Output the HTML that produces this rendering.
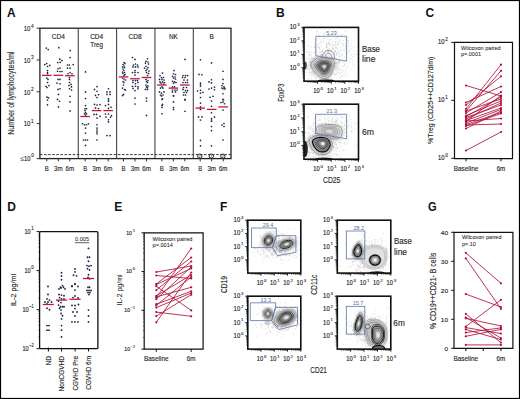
<!DOCTYPE html><html><head><meta charset="utf-8"><style>html,body{margin:0;padding:0;background:#fff;}svg{display:block;}text{font-family:"Liberation Sans", sans-serif;}</style></head><body>
<svg width="520" height="399" viewBox="0 0 520 399">
<rect x="0" y="0" width="520" height="399" fill="#fff"/>
<defs><filter id="bl" x="-50%" y="-50%" width="200%" height="200%"><feGaussianBlur stdDeviation="1.0"/></filter><filter id="bl2" x="-50%" y="-50%" width="200%" height="200%"><feGaussianBlur stdDeviation="0.5"/></filter></defs>
<text x="7" y="17.4" font-size="12" text-anchor="start" fill="#111" font-weight="bold" textLength="8.6" lengthAdjust="spacingAndGlyphs" >A</text>
<text x="276" y="17.4" font-size="12" text-anchor="start" fill="#111" font-weight="bold" >B</text>
<text x="425.6" y="17.4" font-size="12" text-anchor="start" fill="#111" font-weight="bold" >C</text>
<text x="7.2" y="211" font-size="12" text-anchor="start" fill="#111" font-weight="bold" >D</text>
<text x="114.2" y="211" font-size="12" text-anchor="start" fill="#111" font-weight="bold" >E</text>
<text x="220" y="211" font-size="12" text-anchor="start" fill="#111" font-weight="bold" >F</text>
<text x="428" y="211" font-size="12" text-anchor="start" fill="#111" font-weight="bold" textLength="8.6" lengthAdjust="spacingAndGlyphs" >G</text>
<line x1="39.9" y1="154.6" x2="231.0" y2="154.6" stroke="#222" stroke-width="0.9" stroke-dasharray="2.6 1.5"/>
<rect x="39.9" y="28.2" width="191.1" height="130.4" fill="none" stroke="#222" stroke-width="1.3"/>
<line x1="78.25" y1="28.2" x2="78.25" y2="158.6" stroke="#444" stroke-width="1.1" />
<line x1="116.6" y1="28.2" x2="116.6" y2="158.6" stroke="#444" stroke-width="1.1" />
<line x1="154.95000000000002" y1="28.2" x2="154.95000000000002" y2="158.6" stroke="#444" stroke-width="1.1" />
<line x1="193.3" y1="28.2" x2="193.3" y2="158.6" stroke="#444" stroke-width="1.1" />
<line x1="36.6" y1="28.2" x2="39.9" y2="28.2" stroke="#333" stroke-width="1.0" />
<line x1="36.6" y1="60.0" x2="39.9" y2="60.0" stroke="#333" stroke-width="1.0" />
<line x1="36.6" y1="91.8" x2="39.9" y2="91.8" stroke="#333" stroke-width="1.0" />
<line x1="36.6" y1="123.6" x2="39.9" y2="123.6" stroke="#333" stroke-width="1.0" />
<line x1="36.6" y1="158.6" x2="39.9" y2="158.6" stroke="#333" stroke-width="1.0" />
<text x="23.65" y="31.01" font-size="7.0" fill="#222" stroke="#222" stroke-width="0.14" textLength="6.60" lengthAdjust="spacingAndGlyphs">10</text>
<text x="30.95" y="27.51" font-size="4.76" fill="#222" stroke="#222" stroke-width="0.1" textLength="2.65" lengthAdjust="spacingAndGlyphs">4</text>
<text x="23.65" y="62.81" font-size="7.0" fill="#222" stroke="#222" stroke-width="0.14" textLength="6.60" lengthAdjust="spacingAndGlyphs">10</text>
<text x="30.95" y="59.31" font-size="4.76" fill="#222" stroke="#222" stroke-width="0.1" textLength="2.65" lengthAdjust="spacingAndGlyphs">3</text>
<text x="23.65" y="94.61" font-size="7.0" fill="#222" stroke="#222" stroke-width="0.14" textLength="6.60" lengthAdjust="spacingAndGlyphs">10</text>
<text x="30.95" y="91.11" font-size="4.76" fill="#222" stroke="#222" stroke-width="0.1" textLength="2.65" lengthAdjust="spacingAndGlyphs">2</text>
<text x="23.65" y="126.41" font-size="7.0" fill="#222" stroke="#222" stroke-width="0.14" textLength="6.60" lengthAdjust="spacingAndGlyphs">10</text>
<text x="30.95" y="122.91" font-size="4.76" fill="#222" stroke="#222" stroke-width="0.1" textLength="2.65" lengthAdjust="spacingAndGlyphs">1</text>
<text x="20.45" y="160.81" font-size="7.0" fill="#222" textLength="3.50" lengthAdjust="spacingAndGlyphs">≤</text>
<text x="23.95" y="160.81" font-size="7.0" fill="#222" stroke="#222" stroke-width="0.14" textLength="6.50" lengthAdjust="spacingAndGlyphs">10</text>
<text x="31.15" y="157.31" font-size="4.76" fill="#222" stroke="#222" stroke-width="0.1" textLength="2.65" lengthAdjust="spacingAndGlyphs">0</text>
<text x="14.2" y="93.2" font-size="9" text-anchor="middle" fill="#262626" stroke="#262626" stroke-width="0.13" textLength="83" lengthAdjust="spacingAndGlyphs" transform="rotate(-90 14.2 93.2)" >Number of lymphocytes/ml</text>
<text x="58.3" y="38.5" font-size="6.4" text-anchor="middle" fill="#262626" stroke="#262626" stroke-width="0.13" textLength="13.0" lengthAdjust="spacingAndGlyphs" >CD4</text>
<text x="96.65" y="38.5" font-size="6.4" text-anchor="middle" fill="#262626" stroke="#262626" stroke-width="0.13" textLength="13.0" lengthAdjust="spacingAndGlyphs" >CD4</text>
<text x="96.65" y="46.5" font-size="6.4" text-anchor="middle" fill="#262626" stroke="#262626" stroke-width="0.13" textLength="12.6" lengthAdjust="spacingAndGlyphs" >Treg</text>
<text x="135.0" y="38.5" font-size="6.4" text-anchor="middle" fill="#262626" stroke="#262626" stroke-width="0.13" textLength="13.0" lengthAdjust="spacingAndGlyphs" >CD8</text>
<text x="173.35000000000002" y="38.5" font-size="6.4" text-anchor="middle" fill="#262626" stroke="#262626" stroke-width="0.13" >NK</text>
<text x="211.70000000000002" y="38.5" font-size="6.4" text-anchor="middle" fill="#262626" stroke="#262626" stroke-width="0.13" >B</text>
<line x1="46.8" y1="158.6" x2="46.8" y2="161.4" stroke="#333" stroke-width="1.0" />
<text x="46.8" y="170.8" font-size="6.6" text-anchor="middle" fill="#262626" stroke="#262626" stroke-width="0.13" textLength="4.0" lengthAdjust="spacingAndGlyphs" >B</text>
<line x1="58.3" y1="158.6" x2="58.3" y2="161.4" stroke="#333" stroke-width="1.0" />
<text x="58.3" y="170.8" font-size="6.6" text-anchor="middle" fill="#262626" stroke="#262626" stroke-width="0.13" textLength="8.6" lengthAdjust="spacingAndGlyphs" >3m</text>
<line x1="69.8" y1="158.6" x2="69.8" y2="161.4" stroke="#333" stroke-width="1.0" />
<text x="69.8" y="170.8" font-size="6.6" text-anchor="middle" fill="#262626" stroke="#262626" stroke-width="0.13" textLength="8.6" lengthAdjust="spacingAndGlyphs" >6m</text>
<line x1="85.15" y1="158.6" x2="85.15" y2="161.4" stroke="#333" stroke-width="1.0" />
<text x="85.15" y="170.8" font-size="6.6" text-anchor="middle" fill="#262626" stroke="#262626" stroke-width="0.13" textLength="4.0" lengthAdjust="spacingAndGlyphs" >B</text>
<line x1="96.65" y1="158.6" x2="96.65" y2="161.4" stroke="#333" stroke-width="1.0" />
<text x="96.65" y="170.8" font-size="6.6" text-anchor="middle" fill="#262626" stroke="#262626" stroke-width="0.13" textLength="8.6" lengthAdjust="spacingAndGlyphs" >3m</text>
<line x1="108.15" y1="158.6" x2="108.15" y2="161.4" stroke="#333" stroke-width="1.0" />
<text x="108.15" y="170.8" font-size="6.6" text-anchor="middle" fill="#262626" stroke="#262626" stroke-width="0.13" textLength="8.6" lengthAdjust="spacingAndGlyphs" >6m</text>
<line x1="123.5" y1="158.6" x2="123.5" y2="161.4" stroke="#333" stroke-width="1.0" />
<text x="123.5" y="170.8" font-size="6.6" text-anchor="middle" fill="#262626" stroke="#262626" stroke-width="0.13" textLength="4.0" lengthAdjust="spacingAndGlyphs" >B</text>
<line x1="135.0" y1="158.6" x2="135.0" y2="161.4" stroke="#333" stroke-width="1.0" />
<text x="135.0" y="170.8" font-size="6.6" text-anchor="middle" fill="#262626" stroke="#262626" stroke-width="0.13" textLength="8.6" lengthAdjust="spacingAndGlyphs" >3m</text>
<line x1="146.5" y1="158.6" x2="146.5" y2="161.4" stroke="#333" stroke-width="1.0" />
<text x="146.5" y="170.8" font-size="6.6" text-anchor="middle" fill="#262626" stroke="#262626" stroke-width="0.13" textLength="8.6" lengthAdjust="spacingAndGlyphs" >6m</text>
<line x1="161.85000000000002" y1="158.6" x2="161.85000000000002" y2="161.4" stroke="#333" stroke-width="1.0" />
<text x="161.85000000000002" y="170.8" font-size="6.6" text-anchor="middle" fill="#262626" stroke="#262626" stroke-width="0.13" textLength="4.0" lengthAdjust="spacingAndGlyphs" >B</text>
<line x1="173.35000000000002" y1="158.6" x2="173.35000000000002" y2="161.4" stroke="#333" stroke-width="1.0" />
<text x="173.35000000000002" y="170.8" font-size="6.6" text-anchor="middle" fill="#262626" stroke="#262626" stroke-width="0.13" textLength="8.6" lengthAdjust="spacingAndGlyphs" >3m</text>
<line x1="184.85000000000002" y1="158.6" x2="184.85000000000002" y2="161.4" stroke="#333" stroke-width="1.0" />
<text x="184.85000000000002" y="170.8" font-size="6.6" text-anchor="middle" fill="#262626" stroke="#262626" stroke-width="0.13" textLength="8.6" lengthAdjust="spacingAndGlyphs" >6m</text>
<line x1="200.20000000000002" y1="158.6" x2="200.20000000000002" y2="161.4" stroke="#333" stroke-width="1.0" />
<text x="200.20000000000002" y="170.8" font-size="6.6" text-anchor="middle" fill="#262626" stroke="#262626" stroke-width="0.13" textLength="4.0" lengthAdjust="spacingAndGlyphs" >B</text>
<line x1="211.70000000000002" y1="158.6" x2="211.70000000000002" y2="161.4" stroke="#333" stroke-width="1.0" />
<text x="211.70000000000002" y="170.8" font-size="6.6" text-anchor="middle" fill="#262626" stroke="#262626" stroke-width="0.13" textLength="8.6" lengthAdjust="spacingAndGlyphs" >3m</text>
<line x1="223.20000000000002" y1="158.6" x2="223.20000000000002" y2="161.4" stroke="#333" stroke-width="1.0" />
<text x="223.20000000000002" y="170.8" font-size="6.6" text-anchor="middle" fill="#262626" stroke="#262626" stroke-width="0.13" textLength="8.6" lengthAdjust="spacingAndGlyphs" >6m</text>
<circle cx="46.3" cy="48.1" r="0.85" fill="#1c2340"/>
<circle cx="48.2" cy="49.6" r="0.85" fill="#1c2340"/>
<circle cx="44.8" cy="64.6" r="0.85" fill="#1c2340"/>
<circle cx="46.7" cy="63.5" r="0.85" fill="#1c2340"/>
<circle cx="47.5" cy="66.5" r="0.85" fill="#1c2340"/>
<circle cx="49.8" cy="65.4" r="0.85" fill="#1c2340"/>
<circle cx="47.5" cy="70.6" r="0.85" fill="#1c2340"/>
<circle cx="47.5" cy="72.5" r="0.85" fill="#1c2340"/>
<circle cx="47.5" cy="73.75" r="0.85" fill="#1c2340"/>
<circle cx="46.8" cy="78.1" r="0.85" fill="#1c2340"/>
<circle cx="48" cy="79.4" r="0.85" fill="#1c2340"/>
<circle cx="47.5" cy="82.5" r="0.85" fill="#1c2340"/>
<circle cx="46" cy="86.25" r="0.85" fill="#1c2340"/>
<circle cx="47" cy="87.5" r="0.85" fill="#1c2340"/>
<circle cx="49" cy="85.6" r="0.85" fill="#1c2340"/>
<circle cx="47" cy="97.2" r="0.85" fill="#1c2340"/>
<circle cx="48.5" cy="97.8" r="0.85" fill="#1c2340"/>
<circle cx="47.5" cy="100" r="0.85" fill="#1c2340"/>
<circle cx="47.5" cy="104.8" r="0.85" fill="#1c2340"/>
<circle cx="58.8" cy="47.7" r="0.85" fill="#1c2340"/>
<circle cx="59.8" cy="59.2" r="0.85" fill="#1c2340"/>
<circle cx="61.9" cy="60.6" r="0.85" fill="#1c2340"/>
<circle cx="57.8" cy="62.5" r="0.85" fill="#1c2340"/>
<circle cx="60.2" cy="62.3" r="0.85" fill="#1c2340"/>
<circle cx="58" cy="68.75" r="0.85" fill="#1c2340"/>
<circle cx="60" cy="68.1" r="0.85" fill="#1c2340"/>
<circle cx="57.5" cy="71.25" r="0.85" fill="#1c2340"/>
<circle cx="60" cy="71.5" r="0.85" fill="#1c2340"/>
<circle cx="62" cy="71.5" r="0.85" fill="#1c2340"/>
<circle cx="58" cy="79.4" r="0.85" fill="#1c2340"/>
<circle cx="60" cy="79.4" r="0.85" fill="#1c2340"/>
<circle cx="57" cy="83.1" r="0.85" fill="#1c2340"/>
<circle cx="60" cy="83.75" r="0.85" fill="#1c2340"/>
<circle cx="58" cy="89.4" r="0.85" fill="#1c2340"/>
<circle cx="60" cy="88.75" r="0.85" fill="#1c2340"/>
<circle cx="58.5" cy="94.4" r="0.85" fill="#1c2340"/>
<circle cx="57.5" cy="99.4" r="0.85" fill="#1c2340"/>
<circle cx="59.5" cy="101.25" r="0.85" fill="#1c2340"/>
<circle cx="58.5" cy="106.9" r="0.85" fill="#1c2340"/>
<circle cx="70.2" cy="50.6" r="0.85" fill="#1c2340"/>
<circle cx="70.2" cy="57.5" r="0.85" fill="#1c2340"/>
<circle cx="73.2" cy="64.6" r="0.85" fill="#1c2340"/>
<circle cx="67.5" cy="65" r="0.85" fill="#1c2340"/>
<circle cx="69.4" cy="65" r="0.85" fill="#1c2340"/>
<circle cx="67.5" cy="68.1" r="0.85" fill="#1c2340"/>
<circle cx="70" cy="68.1" r="0.85" fill="#1c2340"/>
<circle cx="70" cy="72.5" r="0.85" fill="#1c2340"/>
<circle cx="68" cy="73.75" r="0.85" fill="#1c2340"/>
<circle cx="72" cy="73.75" r="0.85" fill="#1c2340"/>
<circle cx="69.5" cy="77.5" r="0.85" fill="#1c2340"/>
<circle cx="69.5" cy="79.4" r="0.85" fill="#1c2340"/>
<circle cx="69.5" cy="82.5" r="0.85" fill="#1c2340"/>
<circle cx="71" cy="84.4" r="0.85" fill="#1c2340"/>
<circle cx="69" cy="85.6" r="0.85" fill="#1c2340"/>
<circle cx="71.5" cy="86.9" r="0.85" fill="#1c2340"/>
<circle cx="69.5" cy="88.75" r="0.85" fill="#1c2340"/>
<circle cx="71.5" cy="90" r="0.85" fill="#1c2340"/>
<circle cx="70" cy="96.25" r="0.85" fill="#1c2340"/>
<circle cx="70" cy="101.9" r="0.85" fill="#1c2340"/>
<circle cx="70" cy="110.9" r="0.85" fill="#1c2340"/>
<circle cx="85.5" cy="71.9" r="0.85" fill="#1c2340"/>
<circle cx="85.5" cy="91.9" r="0.85" fill="#1c2340"/>
<circle cx="85.5" cy="98.5" r="0.85" fill="#1c2340"/>
<circle cx="85.5" cy="105.6" r="0.85" fill="#1c2340"/>
<circle cx="85" cy="108.75" r="0.85" fill="#1c2340"/>
<circle cx="86.5" cy="108.75" r="0.85" fill="#1c2340"/>
<circle cx="85" cy="110.6" r="0.85" fill="#1c2340"/>
<circle cx="85.5" cy="112.5" r="0.85" fill="#1c2340"/>
<circle cx="84.5" cy="113.75" r="0.85" fill="#1c2340"/>
<circle cx="86.5" cy="113.75" r="0.85" fill="#1c2340"/>
<circle cx="85.5" cy="115" r="0.85" fill="#1c2340"/>
<circle cx="82.5" cy="123.75" r="0.85" fill="#1c2340"/>
<circle cx="84.5" cy="124.75" r="0.85" fill="#1c2340"/>
<circle cx="86.5" cy="124.75" r="0.85" fill="#1c2340"/>
<circle cx="88.5" cy="123.75" r="0.85" fill="#1c2340"/>
<circle cx="85.5" cy="128.1" r="0.85" fill="#1c2340"/>
<circle cx="85.5" cy="133.1" r="0.85" fill="#1c2340"/>
<circle cx="83.5" cy="140" r="0.85" fill="#1c2340"/>
<circle cx="85.5" cy="140" r="0.85" fill="#1c2340"/>
<circle cx="87.5" cy="140" r="0.85" fill="#1c2340"/>
<circle cx="85.5" cy="145.4" r="0.85" fill="#1c2340"/>
<circle cx="97" cy="86.6" r="0.85" fill="#1c2340"/>
<circle cx="94.5" cy="89.4" r="0.85" fill="#1c2340"/>
<circle cx="97" cy="91.25" r="0.85" fill="#1c2340"/>
<circle cx="95.5" cy="95.4" r="0.85" fill="#1c2340"/>
<circle cx="98.5" cy="94.6" r="0.85" fill="#1c2340"/>
<circle cx="97" cy="97.5" r="0.85" fill="#1c2340"/>
<circle cx="94.5" cy="104.4" r="0.85" fill="#1c2340"/>
<circle cx="97" cy="105" r="0.85" fill="#1c2340"/>
<circle cx="100" cy="104.6" r="0.85" fill="#1c2340"/>
<circle cx="95.5" cy="107.9" r="0.85" fill="#1c2340"/>
<circle cx="98.5" cy="108.5" r="0.85" fill="#1c2340"/>
<circle cx="96.5" cy="114.4" r="0.85" fill="#1c2340"/>
<circle cx="94" cy="114.4" r="0.85" fill="#1c2340"/>
<circle cx="100" cy="116.25" r="0.85" fill="#1c2340"/>
<circle cx="97" cy="118.1" r="0.85" fill="#1c2340"/>
<circle cx="97" cy="124.75" r="0.85" fill="#1c2340"/>
<circle cx="97" cy="128.1" r="0.85" fill="#1c2340"/>
<circle cx="97" cy="130" r="0.85" fill="#1c2340"/>
<circle cx="97" cy="131.9" r="0.85" fill="#1c2340"/>
<circle cx="97" cy="133.75" r="0.85" fill="#1c2340"/>
<circle cx="97" cy="140" r="0.85" fill="#1c2340"/>
<circle cx="108.5" cy="88.75" r="0.85" fill="#1c2340"/>
<circle cx="107" cy="91.9" r="0.85" fill="#1c2340"/>
<circle cx="110" cy="91.9" r="0.85" fill="#1c2340"/>
<circle cx="107" cy="94.4" r="0.85" fill="#1c2340"/>
<circle cx="110" cy="94.4" r="0.85" fill="#1c2340"/>
<circle cx="108.5" cy="98.75" r="0.85" fill="#1c2340"/>
<circle cx="108.5" cy="100" r="0.85" fill="#1c2340"/>
<circle cx="108.5" cy="101.25" r="0.85" fill="#1c2340"/>
<circle cx="108.5" cy="104.4" r="0.85" fill="#1c2340"/>
<circle cx="105.5" cy="105.6" r="0.85" fill="#1c2340"/>
<circle cx="111" cy="107.25" r="0.85" fill="#1c2340"/>
<circle cx="108.5" cy="108.4" r="0.85" fill="#1c2340"/>
<circle cx="105.5" cy="114" r="0.85" fill="#1c2340"/>
<circle cx="108.5" cy="114" r="0.85" fill="#1c2340"/>
<circle cx="111.5" cy="115.6" r="0.85" fill="#1c2340"/>
<circle cx="106" cy="117.1" r="0.85" fill="#1c2340"/>
<circle cx="110.5" cy="117.1" r="0.85" fill="#1c2340"/>
<circle cx="108.5" cy="119.75" r="0.85" fill="#1c2340"/>
<circle cx="108.5" cy="121.9" r="0.85" fill="#1c2340"/>
<circle cx="107" cy="135.6" r="0.85" fill="#1c2340"/>
<circle cx="110" cy="135.6" r="0.85" fill="#1c2340"/>
<circle cx="124" cy="62.5" r="0.85" fill="#1c2340"/>
<circle cx="125" cy="63.5" r="0.85" fill="#1c2340"/>
<circle cx="123" cy="64.5" r="0.85" fill="#1c2340"/>
<circle cx="124" cy="66" r="0.85" fill="#1c2340"/>
<circle cx="122.5" cy="67" r="0.85" fill="#1c2340"/>
<circle cx="124.5" cy="67.5" r="0.85" fill="#1c2340"/>
<circle cx="123" cy="69" r="0.85" fill="#1c2340"/>
<circle cx="124" cy="70.5" r="0.85" fill="#1c2340"/>
<circle cx="122.5" cy="72" r="0.85" fill="#1c2340"/>
<circle cx="124.5" cy="72.5" r="0.85" fill="#1c2340"/>
<circle cx="123" cy="73.5" r="0.85" fill="#1c2340"/>
<circle cx="125" cy="74.5" r="0.85" fill="#1c2340"/>
<circle cx="124" cy="75.5" r="0.85" fill="#1c2340"/>
<circle cx="122.5" cy="78" r="0.85" fill="#1c2340"/>
<circle cx="124" cy="79" r="0.85" fill="#1c2340"/>
<circle cx="125.5" cy="80" r="0.85" fill="#1c2340"/>
<circle cx="123" cy="81.5" r="0.85" fill="#1c2340"/>
<circle cx="124" cy="82.5" r="0.85" fill="#1c2340"/>
<circle cx="123.5" cy="85" r="0.85" fill="#1c2340"/>
<circle cx="122.5" cy="88.1" r="0.85" fill="#1c2340"/>
<circle cx="124.5" cy="89.5" r="0.85" fill="#1c2340"/>
<circle cx="125.5" cy="90" r="0.85" fill="#1c2340"/>
<circle cx="123.5" cy="94.4" r="0.85" fill="#1c2340"/>
<circle cx="122.5" cy="95.6" r="0.85" fill="#1c2340"/>
<circle cx="132.5" cy="57.5" r="0.85" fill="#1c2340"/>
<circle cx="135" cy="59.4" r="0.85" fill="#1c2340"/>
<circle cx="133.5" cy="65" r="0.85" fill="#1c2340"/>
<circle cx="135.5" cy="64" r="0.85" fill="#1c2340"/>
<circle cx="137.5" cy="65" r="0.85" fill="#1c2340"/>
<circle cx="133" cy="66.9" r="0.85" fill="#1c2340"/>
<circle cx="135.5" cy="66.9" r="0.85" fill="#1c2340"/>
<circle cx="138" cy="66.9" r="0.85" fill="#1c2340"/>
<circle cx="135" cy="70.6" r="0.85" fill="#1c2340"/>
<circle cx="132.5" cy="72.5" r="0.85" fill="#1c2340"/>
<circle cx="135" cy="72.5" r="0.85" fill="#1c2340"/>
<circle cx="138" cy="72.5" r="0.85" fill="#1c2340"/>
<circle cx="135" cy="75" r="0.85" fill="#1c2340"/>
<circle cx="133" cy="80.6" r="0.85" fill="#1c2340"/>
<circle cx="135.5" cy="80.6" r="0.85" fill="#1c2340"/>
<circle cx="137.5" cy="80.6" r="0.85" fill="#1c2340"/>
<circle cx="133" cy="82.5" r="0.85" fill="#1c2340"/>
<circle cx="135.5" cy="83.75" r="0.85" fill="#1c2340"/>
<circle cx="138" cy="82.5" r="0.85" fill="#1c2340"/>
<circle cx="132.5" cy="86.25" r="0.85" fill="#1c2340"/>
<circle cx="135.5" cy="86.25" r="0.85" fill="#1c2340"/>
<circle cx="138" cy="86.9" r="0.85" fill="#1c2340"/>
<circle cx="133" cy="88.4" r="0.85" fill="#1c2340"/>
<circle cx="135" cy="90.6" r="0.85" fill="#1c2340"/>
<circle cx="138" cy="88.75" r="0.85" fill="#1c2340"/>
<circle cx="135" cy="98.1" r="0.85" fill="#1c2340"/>
<circle cx="135" cy="104" r="0.85" fill="#1c2340"/>
<circle cx="147.5" cy="58.75" r="0.85" fill="#1c2340"/>
<circle cx="146" cy="61.25" r="0.85" fill="#1c2340"/>
<circle cx="148" cy="62" r="0.85" fill="#1c2340"/>
<circle cx="145.5" cy="63.1" r="0.85" fill="#1c2340"/>
<circle cx="148.5" cy="64" r="0.85" fill="#1c2340"/>
<circle cx="146" cy="66.25" r="0.85" fill="#1c2340"/>
<circle cx="148" cy="67.5" r="0.85" fill="#1c2340"/>
<circle cx="144.5" cy="68.1" r="0.85" fill="#1c2340"/>
<circle cx="147" cy="69" r="0.85" fill="#1c2340"/>
<circle cx="146" cy="70.6" r="0.85" fill="#1c2340"/>
<circle cx="149" cy="71" r="0.85" fill="#1c2340"/>
<circle cx="146.5" cy="72.5" r="0.85" fill="#1c2340"/>
<circle cx="148.5" cy="73.5" r="0.85" fill="#1c2340"/>
<circle cx="147.5" cy="75.5" r="0.85" fill="#1c2340"/>
<circle cx="146" cy="79.4" r="0.85" fill="#1c2340"/>
<circle cx="148" cy="80.5" r="0.85" fill="#1c2340"/>
<circle cx="146.5" cy="81.5" r="0.85" fill="#1c2340"/>
<circle cx="147.5" cy="82.5" r="0.85" fill="#1c2340"/>
<circle cx="146" cy="85" r="0.85" fill="#1c2340"/>
<circle cx="148" cy="86" r="0.85" fill="#1c2340"/>
<circle cx="146.5" cy="86.9" r="0.85" fill="#1c2340"/>
<circle cx="147.5" cy="87.75" r="0.85" fill="#1c2340"/>
<circle cx="145.5" cy="89.4" r="0.85" fill="#1c2340"/>
<circle cx="147.5" cy="89.4" r="0.85" fill="#1c2340"/>
<circle cx="146.5" cy="98.1" r="0.85" fill="#1c2340"/>
<circle cx="146.5" cy="101" r="0.85" fill="#1c2340"/>
<circle cx="146.5" cy="115.4" r="0.85" fill="#1c2340"/>
<circle cx="162.5" cy="73.1" r="0.85" fill="#1c2340"/>
<circle cx="160" cy="75.6" r="0.85" fill="#1c2340"/>
<circle cx="161.5" cy="77.5" r="0.85" fill="#1c2340"/>
<circle cx="163.5" cy="77.5" r="0.85" fill="#1c2340"/>
<circle cx="159.5" cy="79.4" r="0.85" fill="#1c2340"/>
<circle cx="162" cy="79.4" r="0.85" fill="#1c2340"/>
<circle cx="164" cy="80" r="0.85" fill="#1c2340"/>
<circle cx="160" cy="81.9" r="0.85" fill="#1c2340"/>
<circle cx="162.5" cy="81.9" r="0.85" fill="#1c2340"/>
<circle cx="164.5" cy="82.5" r="0.85" fill="#1c2340"/>
<circle cx="161" cy="83.1" r="0.85" fill="#1c2340"/>
<circle cx="163.5" cy="84" r="0.85" fill="#1c2340"/>
<circle cx="162" cy="86.9" r="0.85" fill="#1c2340"/>
<circle cx="160.5" cy="88.1" r="0.85" fill="#1c2340"/>
<circle cx="163" cy="88.1" r="0.85" fill="#1c2340"/>
<circle cx="159.5" cy="91.9" r="0.85" fill="#1c2340"/>
<circle cx="164" cy="91.9" r="0.85" fill="#1c2340"/>
<circle cx="161.5" cy="93.1" r="0.85" fill="#1c2340"/>
<circle cx="163" cy="95" r="0.85" fill="#1c2340"/>
<circle cx="160.5" cy="95" r="0.85" fill="#1c2340"/>
<circle cx="161.5" cy="96" r="0.85" fill="#1c2340"/>
<circle cx="162.5" cy="98.75" r="0.85" fill="#1c2340"/>
<circle cx="162" cy="99.4" r="0.85" fill="#1c2340"/>
<circle cx="162.5" cy="104.4" r="0.85" fill="#1c2340"/>
<circle cx="162" cy="105.6" r="0.85" fill="#1c2340"/>
<circle cx="162" cy="107.5" r="0.85" fill="#1c2340"/>
<circle cx="162" cy="113.75" r="0.85" fill="#1c2340"/>
<circle cx="174" cy="70.6" r="0.85" fill="#1c2340"/>
<circle cx="173.5" cy="73.75" r="0.85" fill="#1c2340"/>
<circle cx="175.5" cy="74.5" r="0.85" fill="#1c2340"/>
<circle cx="172.5" cy="76.25" r="0.85" fill="#1c2340"/>
<circle cx="175" cy="77" r="0.85" fill="#1c2340"/>
<circle cx="173.5" cy="78.1" r="0.85" fill="#1c2340"/>
<circle cx="175.5" cy="79" r="0.85" fill="#1c2340"/>
<circle cx="172.5" cy="81.25" r="0.85" fill="#1c2340"/>
<circle cx="174.5" cy="81.9" r="0.85" fill="#1c2340"/>
<circle cx="176" cy="82.5" r="0.85" fill="#1c2340"/>
<circle cx="173.5" cy="83.1" r="0.85" fill="#1c2340"/>
<circle cx="172.5" cy="86.9" r="0.85" fill="#1c2340"/>
<circle cx="174.5" cy="86.9" r="0.85" fill="#1c2340"/>
<circle cx="172.5" cy="90" r="0.85" fill="#1c2340"/>
<circle cx="175" cy="90" r="0.85" fill="#1c2340"/>
<circle cx="177" cy="90" r="0.85" fill="#1c2340"/>
<circle cx="172.5" cy="91.9" r="0.85" fill="#1c2340"/>
<circle cx="175.5" cy="91.9" r="0.85" fill="#1c2340"/>
<circle cx="173.5" cy="95.6" r="0.85" fill="#1c2340"/>
<circle cx="173.5" cy="96" r="0.85" fill="#1c2340"/>
<circle cx="173.5" cy="101.9" r="0.85" fill="#1c2340"/>
<circle cx="173.5" cy="107.5" r="0.85" fill="#1c2340"/>
<circle cx="173.5" cy="109.4" r="0.85" fill="#1c2340"/>
<circle cx="185" cy="59.4" r="0.85" fill="#1c2340"/>
<circle cx="183" cy="75.6" r="0.85" fill="#1c2340"/>
<circle cx="185.5" cy="75.6" r="0.85" fill="#1c2340"/>
<circle cx="187.5" cy="75.6" r="0.85" fill="#1c2340"/>
<circle cx="182.5" cy="77.5" r="0.85" fill="#1c2340"/>
<circle cx="185" cy="77.5" r="0.85" fill="#1c2340"/>
<circle cx="184" cy="80" r="0.85" fill="#1c2340"/>
<circle cx="187.5" cy="80" r="0.85" fill="#1c2340"/>
<circle cx="183" cy="82.5" r="0.85" fill="#1c2340"/>
<circle cx="185.5" cy="82.5" r="0.85" fill="#1c2340"/>
<circle cx="187.5" cy="82.5" r="0.85" fill="#1c2340"/>
<circle cx="183.5" cy="87.5" r="0.85" fill="#1c2340"/>
<circle cx="186.5" cy="87.5" r="0.85" fill="#1c2340"/>
<circle cx="183" cy="89.4" r="0.85" fill="#1c2340"/>
<circle cx="185.5" cy="90.6" r="0.85" fill="#1c2340"/>
<circle cx="187.5" cy="90.6" r="0.85" fill="#1c2340"/>
<circle cx="184" cy="92.5" r="0.85" fill="#1c2340"/>
<circle cx="186.5" cy="92.5" r="0.85" fill="#1c2340"/>
<circle cx="183.5" cy="95" r="0.85" fill="#1c2340"/>
<circle cx="185.5" cy="95" r="0.85" fill="#1c2340"/>
<circle cx="185" cy="99.4" r="0.85" fill="#1c2340"/>
<circle cx="185" cy="100" r="0.85" fill="#1c2340"/>
<circle cx="185" cy="111.25" r="0.85" fill="#1c2340"/>
<circle cx="200.5" cy="59.75" r="0.85" fill="#1c2340"/>
<circle cx="199" cy="74.4" r="0.85" fill="#1c2340"/>
<circle cx="202" cy="74.75" r="0.85" fill="#1c2340"/>
<circle cx="200.5" cy="83.1" r="0.85" fill="#1c2340"/>
<circle cx="200.5" cy="84.75" r="0.85" fill="#1c2340"/>
<circle cx="200.5" cy="86.25" r="0.85" fill="#1c2340"/>
<circle cx="197.5" cy="91" r="0.85" fill="#1c2340"/>
<circle cx="200.5" cy="90.25" r="0.85" fill="#1c2340"/>
<circle cx="203" cy="92.25" r="0.85" fill="#1c2340"/>
<circle cx="200.5" cy="93.1" r="0.85" fill="#1c2340"/>
<circle cx="200.5" cy="97.5" r="0.85" fill="#1c2340"/>
<circle cx="200.5" cy="103.1" r="0.85" fill="#1c2340"/>
<circle cx="200.5" cy="106.9" r="0.85" fill="#1c2340"/>
<circle cx="200.5" cy="109.4" r="0.85" fill="#1c2340"/>
<circle cx="198.5" cy="116.9" r="0.85" fill="#1c2340"/>
<circle cx="202" cy="116.9" r="0.85" fill="#1c2340"/>
<circle cx="200.5" cy="120" r="0.85" fill="#1c2340"/>
<circle cx="200.5" cy="140.4" r="0.85" fill="#1c2340"/>
<circle cx="200.5" cy="145.8" r="0.85" fill="#1c2340"/>
<circle cx="211.5" cy="62.9" r="0.85" fill="#1c2340"/>
<circle cx="211.5" cy="79.75" r="0.85" fill="#1c2340"/>
<circle cx="209" cy="81.9" r="0.85" fill="#1c2340"/>
<circle cx="211.5" cy="82.9" r="0.85" fill="#1c2340"/>
<circle cx="209" cy="89" r="0.85" fill="#1c2340"/>
<circle cx="211.5" cy="88.1" r="0.85" fill="#1c2340"/>
<circle cx="214.5" cy="87.1" r="0.85" fill="#1c2340"/>
<circle cx="214.5" cy="89.75" r="0.85" fill="#1c2340"/>
<circle cx="210" cy="97.25" r="0.85" fill="#1c2340"/>
<circle cx="213" cy="96.25" r="0.85" fill="#1c2340"/>
<circle cx="211.5" cy="101" r="0.85" fill="#1c2340"/>
<circle cx="211.5" cy="106.25" r="0.85" fill="#1c2340"/>
<circle cx="211.5" cy="112.75" r="0.85" fill="#1c2340"/>
<circle cx="214.5" cy="116.9" r="0.85" fill="#1c2340"/>
<circle cx="211.5" cy="118.5" r="0.85" fill="#1c2340"/>
<circle cx="211.5" cy="120" r="0.85" fill="#1c2340"/>
<circle cx="211.5" cy="121.25" r="0.85" fill="#1c2340"/>
<circle cx="211.5" cy="126.5" r="0.85" fill="#1c2340"/>
<circle cx="211.5" cy="130.6" r="0.85" fill="#1c2340"/>
<circle cx="211.5" cy="145.8" r="0.85" fill="#1c2340"/>
<circle cx="223" cy="71.25" r="0.85" fill="#1c2340"/>
<circle cx="223" cy="79.4" r="0.85" fill="#1c2340"/>
<circle cx="223" cy="83.5" r="0.85" fill="#1c2340"/>
<circle cx="222" cy="85.6" r="0.85" fill="#1c2340"/>
<circle cx="224" cy="86.9" r="0.85" fill="#1c2340"/>
<circle cx="222" cy="88.1" r="0.85" fill="#1c2340"/>
<circle cx="224.5" cy="88.1" r="0.85" fill="#1c2340"/>
<circle cx="223" cy="88.75" r="0.85" fill="#1c2340"/>
<circle cx="225" cy="89" r="0.85" fill="#1c2340"/>
<circle cx="223" cy="93.75" r="0.85" fill="#1c2340"/>
<circle cx="223" cy="99.4" r="0.85" fill="#1c2340"/>
<circle cx="223.5" cy="99.75" r="0.85" fill="#1c2340"/>
<circle cx="221" cy="102.5" r="0.85" fill="#1c2340"/>
<circle cx="223" cy="101.9" r="0.85" fill="#1c2340"/>
<circle cx="224.5" cy="103.75" r="0.85" fill="#1c2340"/>
<circle cx="223" cy="110" r="0.85" fill="#1c2340"/>
<circle cx="224" cy="123.5" r="0.85" fill="#1c2340"/>
<circle cx="222" cy="125" r="0.85" fill="#1c2340"/>
<circle cx="224" cy="126.5" r="0.85" fill="#1c2340"/>
<circle cx="223" cy="140" r="0.85" fill="#1c2340"/>
<line x1="42.0" y1="75.4" x2="51.599999999999994" y2="75.4" stroke="#c8143c" stroke-width="1.3" />
<line x1="53.5" y1="75.3" x2="63.099999999999994" y2="75.3" stroke="#c8143c" stroke-width="1.3" />
<line x1="65.0" y1="75.75" x2="74.6" y2="75.75" stroke="#c8143c" stroke-width="1.3" />
<line x1="80.35000000000001" y1="116.5" x2="89.95" y2="116.5" stroke="#c8143c" stroke-width="1.3" />
<line x1="91.85000000000001" y1="110.6" x2="101.45" y2="110.6" stroke="#c8143c" stroke-width="1.3" />
<line x1="103.35000000000001" y1="110.6" x2="112.95" y2="110.6" stroke="#c8143c" stroke-width="1.3" />
<line x1="118.7" y1="76.9" x2="128.3" y2="76.9" stroke="#c8143c" stroke-width="1.3" />
<line x1="130.2" y1="78.75" x2="139.8" y2="78.75" stroke="#c8143c" stroke-width="1.3" />
<line x1="141.7" y1="77.5" x2="151.3" y2="77.5" stroke="#c8143c" stroke-width="1.3" />
<line x1="157.05" y1="85" x2="166.65000000000003" y2="85" stroke="#c8143c" stroke-width="1.3" />
<line x1="168.55" y1="88.1" x2="178.15000000000003" y2="88.1" stroke="#c8143c" stroke-width="1.3" />
<line x1="180.05" y1="85" x2="189.65000000000003" y2="85" stroke="#c8143c" stroke-width="1.3" />
<line x1="195.4" y1="108.1" x2="205.00000000000003" y2="108.1" stroke="#c8143c" stroke-width="1.3" />
<line x1="206.9" y1="109.4" x2="216.50000000000003" y2="109.4" stroke="#c8143c" stroke-width="1.3" />
<line x1="218.4" y1="106.9" x2="228.00000000000003" y2="106.9" stroke="#c8143c" stroke-width="1.3" />
<circle cx="199.8" cy="156.2" r="2.2" fill="#fff" fill-opacity="0.6" stroke="#111" stroke-width="0.9"/>
<line x1="200.4" y1="154.6" x2="199.4" y2="158.0" stroke="#333" stroke-width="0.6" />
<circle cx="211.3" cy="156.2" r="2.2" fill="#fff" fill-opacity="0.6" stroke="#111" stroke-width="0.9"/>
<line x1="211.9" y1="154.6" x2="210.9" y2="158.0" stroke="#333" stroke-width="0.6" />
<circle cx="222.8" cy="156.2" r="2.2" fill="#fff" fill-opacity="0.6" stroke="#111" stroke-width="0.9"/>
<line x1="223.4" y1="154.6" x2="222.4" y2="158.0" stroke="#333" stroke-width="0.6" />
<text x="284.0" y="92.7" font-size="9" text-anchor="middle" fill="#262626" stroke="#262626" stroke-width="0.13" textLength="18.2" lengthAdjust="spacingAndGlyphs" transform="rotate(-90 284.0 92.7)" >FoxP3</text>
<clipPath id="cb1"><rect x="304.0" y="27.4" width="54.5" height="53.800000000000004"/></clipPath>
<g clip-path="url(#cb1)">
<path d="M318.9 71.1h.01M319.3 62.8h.01M310.8 63.9h.01M335.3 70.2h.01M334.4 68.5h.01M326.7 67.9h.01M328.1 71.0h.01M311.3 61.3h.01M325.7 65.5h.01M328.3 59.6h.01M325.7 69.9h.01M328.7 78.0h.01M314.6 58.6h.01M317.9 64.9h.01M329.6 68.5h.01M316.6 56.4h.01M315.8 78.2h.01M312.3 68.4h.01M327.1 51.1h.01M322.6 79.1h.01M320.7 57.8h.01M328.0 65.4h.01M330.0 75.5h.01M339.3 69.6h.01M323.4 53.0h.01M329.4 59.9h.01M316.6 53.4h.01M310.4 60.7h.01M337.5 45.7h.01M339.3 71.8h.01M326.3 58.6h.01M308.6 75.8h.01M335.2 67.6h.01M324.9 70.3h.01M341.1 72.2h.01M328.2 71.5h.01M333.5 71.3h.01M332.1 47.9h.01M319.8 76.2h.01M328.6 64.5h.01M325.9 72.5h.01M323.4 77.5h.01M314.1 61.9h.01M334.5 66.3h.01M311.4 75.5h.01M339.6 61.6h.01M305.4 64.7h.01M320.2 63.0h.01M338.9 55.7h.01M337.1 53.3h.01M312.6 72.3h.01M335.5 74.6h.01M326.1 67.4h.01M323.8 71.8h.01M319.9 68.8h.01M328.9 66.0h.01M331.2 71.7h.01M346.1 69.2h.01M316.9 62.3h.01M321.8 75.2h.01M318.0 69.9h.01M344.0 40.4h.01M308.5 68.4h.01M326.8 68.4h.01M316.8 72.6h.01M325.4 60.8h.01M351.2 69.6h.01M315.3 65.0h.01M319.3 65.4h.01M334.1 54.3h.01M321.2 75.5h.01M317.9 72.2h.01M335.1 39.2h.01M335.1 51.5h.01M330.2 51.1h.01M324.1 77.9h.01M320.2 67.9h.01M331.6 67.4h.01M334.6 63.1h.01M354.9 54.5h.01M333.0 63.3h.01M323.6 73.1h.01M324.7 72.4h.01M329.4 56.4h.01M309.7 51.3h.01M337.2 73.5h.01M339.7 56.6h.01M322.0 54.6h.01M333.9 64.2h.01M320.8 60.0h.01M326.8 70.1h.01M340.0 55.8h.01M339.4 64.2h.01M313.1 76.2h.01M323.4 67.2h.01M339.1 63.4h.01M325.8 59.9h.01M321.9 74.3h.01M322.9 79.3h.01M321.3 76.4h.01M313.9 74.8h.01M307.2 65.9h.01M319.7 65.7h.01M314.9 68.3h.01M343.5 66.4h.01M328.4 76.0h.01M319.6 53.4h.01M315.3 76.7h.01M334.1 73.9h.01M322.1 74.1h.01M324.0 54.2h.01M333.1 60.3h.01M311.2 58.3h.01M307.8 69.6h.01M314.3 46.6h.01M330.7 63.2h.01M325.5 61.4h.01M331.4 73.5h.01M330.0 69.3h.01M338.0 72.6h.01M327.4 45.2h.01M332.8 79.1h.01M318.4 61.3h.01M345.3 48.4h.01M310.9 72.9h.01M344.6 64.8h.01M328.7 75.0h.01M311.1 65.1h.01M325.5 74.3h.01M321.6 64.0h.01M309.8 62.4h.01M332.7 67.0h.01M311.8 57.6h.01M354.0 77.4h.01M329.6 40.1h.01M329.5 70.8h.01M342.2 70.3h.01M321.2 71.2h.01M325.9 59.0h.01M305.2 59.3h.01M325.5 67.8h.01M317.2 56.3h.01M347.4 76.4h.01M307.7 52.5h.01M342.4 75.9h.01M343.9 74.1h.01M311.5 68.6h.01M321.3 71.2h.01M313.3 64.8h.01M327.5 69.8h.01M329.7 68.1h.01M318.1 73.9h.01M322.6 57.7h.01M314.5 66.0h.01M320.7 67.6h.01M322.0 67.8h.01M320.4 53.4h.01M327.1 76.5h.01M327.2 64.1h.01M327.4 56.3h.01M310.8 73.4h.01M309.0 39.7h.01M317.4 52.3h.01M312.8 71.2h.01M328.0 67.8h.01M339.8 73.1h.01M321.7 72.0h.01M341.9 75.7h.01M334.3 55.2h.01M320.2 73.3h.01M318.4 76.7h.01M329.2 75.1h.01M336.9 63.8h.01M317.9 74.7h.01M333.8 66.1h.01M308.0 67.9h.01M326.3 77.3h.01M331.4 66.2h.01M332.2 71.4h.01M324.5 66.6h.01M319.1 72.9h.01M309.3 59.7h.01M322.1 51.4h.01M316.8 45.9h.01M313.8 71.7h.01M328.8 65.5h.01M319.2 51.8h.01M343.9 71.2h.01M335.1 57.2h.01M319.8 47.8h.01M331.4 75.4h.01M329.6 48.4h.01M314.4 52.0h.01M322.4 68.5h.01M329.6 73.0h.01M340.0 77.6h.01M306.3 60.9h.01M309.3 55.2h.01M321.0 66.1h.01M327.9 50.1h.01M307.1 65.8h.01M319.6 62.9h.01M321.2 58.4h.01M330.4 69.5h.01M320.9 59.3h.01M319.9 38.8h.01M310.2 66.4h.01M323.8 52.2h.01M319.0 62.9h.01M327.5 72.1h.01M321.6 57.5h.01M320.3 65.3h.01M330.8 68.9h.01M313.3 52.5h.01M317.5 58.6h.01M308.7 64.8h.01M316.1 67.1h.01M328.3 61.9h.01M349.9 62.8h.01M335.2 67.2h.01M335.4 42.2h.01M313.0 68.5h.01M325.9 78.8h.01M331.2 75.5h.01M328.1 64.4h.01M328.1 55.2h.01M336.2 55.8h.01M319.3 66.2h.01M336.0 66.3h.01M312.3 68.6h.01M329.0 73.1h.01M342.0 66.2h.01M325.2 61.7h.01M339.0 59.0h.01M330.1 61.2h.01M313.7 73.2h.01M338.0 65.9h.01M313.9 74.1h.01M321.4 69.1h.01M340.3 77.3h.01M322.0 73.9h.01M314.2 65.6h.01M338.4 53.8h.01M336.1 61.4h.01M321.3 62.9h.01M320.5 55.1h.01M322.3 51.6h.01M321.1 69.1h.01M327.6 63.7h.01M311.2 67.6h.01M331.2 64.8h.01M316.3 59.0h.01M310.8 62.5h.01M325.5 71.2h.01M313.5 66.1h.01M355.5 47.3h.01M315.7 67.7h.01M323.9 70.1h.01M319.1 69.7h.01M322.6 73.7h.01M322.0 55.7h.01M309.5 72.3h.01M314.2 72.3h.01M330.9 69.1h.01M328.1 65.0h.01M305.1 65.7h.01M327.5 60.7h.01M320.8 73.5h.01M311.5 72.4h.01M344.4 60.5h.01M323.8 64.5h.01M340.5 69.2h.01M332.8 59.1h.01M321.8 65.9h.01M332.8 48.5h.01M330.9 64.7h.01M327.4 69.7h.01M339.9 60.3h.01M309.7 52.4h.01M307.3 69.4h.01M342.3 70.3h.01M315.8 59.3h.01M328.3 71.5h.01M309.8 54.3h.01M325.5 68.5h.01M306.3 64.0h.01M315.5 70.6h.01M320.6 65.1h.01M317.8 76.5h.01M338.7 62.3h.01M332.2 58.4h.01M322.9 73.5h.01M340.2 62.2h.01M321.1 68.0h.01M313.9 69.7h.01M308.4 46.2h.01M322.5 68.6h.01M315.4 74.9h.01M318.7 59.9h.01M327.7 50.3h.01M313.9 65.8h.01M332.2 64.4h.01M325.7 59.4h.01M314.3 66.2h.01M324.1 76.2h.01M307.2 45.0h.01M329.3 74.0h.01M324.5 68.5h.01M333.2 69.7h.01M342.0 53.6h.01M317.5 31.6h.01M331.7 62.3h.01M321.9 63.5h.01M316.0 57.6h.01M314.4 72.4h.01M322.4 66.7h.01M319.9 75.1h.01M327.9 64.6h.01M330.0 64.5h.01M327.6 56.4h.01M334.9 69.4h.01M326.0 74.9h.01M324.4 64.5h.01M322.4 63.1h.01M326.2 66.8h.01M330.1 62.3h.01M321.6 44.6h.01M316.9 72.8h.01M338.0 62.4h.01M318.1 73.3h.01M342.1 66.4h.01M336.7 58.9h.01M324.5 65.2h.01M323.4 77.3h.01M350.7 59.3h.01M315.1 71.0h.01M309.3 71.0h.01M328.9 63.2h.01M328.4 50.5h.01M331.1 50.6h.01M313.6 60.4h.01M317.2 74.6h.01M323.0 62.0h.01M322.1 69.7h.01M336.9 68.7h.01M348.5 46.2h.01M321.5 70.2h.01M333.6 72.7h.01M318.7 55.5h.01M323.2 76.3h.01M308.9 55.7h.01M321.7 46.6h.01M318.9 61.6h.01M327.4 59.0h.01M311.4 62.1h.01M321.4 59.4h.01M322.1 73.5h.01M312.6 61.8h.01M313.3 65.7h.01M328.3 52.4h.01M327.6 65.7h.01M336.3 47.3h.01M331.7 68.1h.01M327.7 70.4h.01M337.6 63.8h.01M332.5 61.9h.01M330.7 57.9h.01M327.3 64.4h.01M308.3 58.1h.01M324.3 75.4h.01M327.1 71.2h.01M321.5 79.5h.01M317.3 60.5h.01M332.7 66.6h.01M318.7 60.2h.01M318.9 72.2h.01M326.2 53.9h.01M327.1 67.8h.01M310.0 73.7h.01M318.6 62.6h.01M331.5 79.2h.01M313.7 70.4h.01M316.1 77.9h.01M314.2 74.1h.01M348.6 40.6h.01M316.8 71.0h.01M320.9 59.3h.01M347.8 66.8h.01M315.1 67.4h.01M337.1 67.2h.01M305.3 49.0h.01M336.2 73.4h.01M312.2 74.6h.01M328.0 72.5h.01M332.8 73.3h.01M332.6 41.4h.01M324.0 70.9h.01M352.6 56.5h.01M318.0 66.4h.01M332.6 61.6h.01M335.8 58.1h.01M325.2 60.7h.01M323.9 59.1h.01M325.6 60.4h.01M324.4 75.9h.01M310.3 64.9h.01M328.5 71.3h.01M318.0 44.9h.01M336.9 69.3h.01M322.2 63.2h.01M325.2 61.7h.01M309.7 58.6h.01M314.8 59.9h.01M308.1 72.4h.01M306.3 72.6h.01M309.8 69.5h.01M338.5 68.0h.01M313.2 66.5h.01M323.8 48.7h.01M314.7 67.6h.01M316.4 66.8h.01M330.8 73.7h.01M332.9 71.9h.01M318.5 65.8h.01M318.7 62.9h.01M319.8 48.8h.01M318.0 65.8h.01M310.3 65.8h.01M328.2 64.4h.01M346.9 39.9h.01M319.5 47.7h.01M328.2 63.0h.01M328.6 43.6h.01M332.2 69.7h.01M322.3 60.1h.01M329.7 61.1h.01M324.7 60.9h.01M324.4 73.5h.01M311.5 65.7h.01M329.4 67.5h.01M311.1 46.8h.01M333.1 74.1h.01M314.6 58.9h.01M332.7 56.9h.01M313.8 58.7h.01M324.8 58.5h.01M337.7 65.2h.01M309.0 79.1h.01M315.0 68.2h.01M321.8 62.9h.01M325.9 59.1h.01M306.8 58.4h.01M321.7 66.6h.01M328.7 67.2h.01M312.5 58.9h.01M327.8 71.3h.01M320.5 64.3h.01M333.2 66.2h.01M330.9 71.8h.01M324.6 79.1h.01M315.1 62.4h.01M312.3 58.0h.01M322.3 71.7h.01M336.1 74.1h.01M336.5 53.4h.01M314.3 70.5h.01M339.2 67.0h.01M311.7 62.5h.01M314.1 57.4h.01M340.0 59.7h.01M336.2 69.4h.01M314.7 70.1h.01M341.5 72.2h.01M337.1 67.0h.01M328.2 64.0h.01M327.1 79.0h.01M304.8 65.4h.01M324.9 60.3h.01M318.3 73.9h.01M346.0 72.3h.01M325.9 50.5h.01M345.1 66.8h.01M321.6 54.8h.01M321.3 55.0h.01M322.9 70.7h.01M322.4 68.8h.01M311.8 80.3h.01M314.2 47.8h.01M319.7 58.4h.01M309.9 62.5h.01M325.5 54.2h.01M320.3 80.3h.01M330.2 64.5h.01M323.5 64.8h.01M321.4 73.3h.01M320.9 42.0h.01M321.7 57.1h.01M329.8 59.9h.01M309.4 54.8h.01M305.1 42.1h.01M314.3 47.3h.01M312.7 62.3h.01M326.0 79.6h.01M345.3 76.3h.01M323.7 67.8h.01M343.6 80.3h.01M318.3 70.6h.01M325.4 66.5h.01M316.0 52.7h.01M315.6 50.6h.01M336.7 71.4h.01M307.5 80.0h.01M332.7 46.9h.01M344.1 74.1h.01M346.8 53.7h.01M328.4 70.2h.01M324.4 67.7h.01M334.6 51.1h.01M307.1 52.1h.01M315.3 59.9h.01M326.4 68.7h.01M322.4 59.2h.01M316.7 75.5h.01M331.2 67.0h.01M314.9 72.5h.01M335.8 63.3h.01M331.9 54.8h.01M334.2 68.0h.01M311.3 78.8h.01M313.9 64.4h.01M325.4 62.7h.01M325.1 60.5h.01M330.1 66.1h.01M324.5 38.5h.01M335.9 66.3h.01M327.6 76.7h.01M320.2 72.8h.01M317.6 54.8h.01M335.2 75.1h.01M340.5 74.6h.01M315.1 49.4h.01M314.2 59.2h.01M312.2 71.8h.01M325.9 63.3h.01M324.1 64.5h.01M324.6 73.5h.01M333.5 59.1h.01M323.4 77.1h.01M322.3 51.6h.01M315.8 73.2h.01M311.6 52.0h.01M328.2 75.4h.01M324.3 53.0h.01M331.4 73.9h.01M328.6 61.1h.01M325.6 73.9h.01" stroke="#8a8a8a" stroke-opacity="0.45" stroke-width="0.76" stroke-linecap="round" fill="none"/>
<path d="M328.4 35.3h.01M337.3 53.8h.01M334.1 57.1h.01M328.1 49.3h.01M330.9 54.6h.01M350.0 48.0h.01M354.5 62.2h.01M341.9 54.7h.01M351.7 48.6h.01M332.9 41.5h.01M338.7 60.8h.01M339.3 53.4h.01M332.0 51.4h.01M319.7 58.4h.01M329.9 41.2h.01M326.5 43.4h.01M342.6 58.5h.01M320.4 57.4h.01M342.9 45.4h.01M319.1 44.0h.01M327.7 52.7h.01M330.4 33.8h.01M336.3 37.7h.01M343.1 40.3h.01M327.1 43.2h.01M328.6 60.4h.01M342.5 54.8h.01M337.2 37.6h.01M328.8 45.6h.01M324.2 54.1h.01M326.6 44.3h.01M323.6 33.5h.01M340.0 60.6h.01M335.7 42.2h.01M306.9 51.4h.01M346.2 52.4h.01M343.3 61.8h.01M345.3 46.5h.01M344.5 56.2h.01M318.6 46.8h.01M319.8 49.1h.01M339.8 41.5h.01M313.4 60.4h.01M337.8 61.8h.01M320.8 58.5h.01M354.7 66.1h.01M331.9 52.2h.01M332.5 58.0h.01M344.4 50.7h.01M320.4 55.9h.01M329.3 55.0h.01M336.6 63.0h.01M345.4 46.4h.01M337.5 64.1h.01M328.6 53.5h.01M345.9 60.1h.01M339.2 39.4h.01M321.4 52.0h.01M337.9 70.4h.01M325.4 59.1h.01M341.7 36.6h.01M325.8 51.3h.01M329.1 48.8h.01M338.7 43.5h.01M338.7 44.9h.01M328.6 54.3h.01M328.3 52.3h.01M350.0 50.2h.01M332.5 55.9h.01M330.3 58.7h.01M321.2 54.9h.01M328.9 43.6h.01M351.7 43.2h.01M351.6 55.3h.01M348.5 42.2h.01M346.0 61.7h.01M332.8 49.0h.01M329.8 45.0h.01M338.5 52.6h.01M335.8 63.8h.01M330.7 53.8h.01M348.6 42.0h.01M344.4 64.7h.01M320.5 41.2h.01M323.6 35.2h.01M338.5 35.2h.01M339.0 61.6h.01M317.8 47.5h.01M314.8 56.2h.01M326.6 47.9h.01M334.5 54.4h.01M330.5 50.1h.01M328.5 50.9h.01M322.3 50.5h.01M314.7 46.1h.01M353.2 50.6h.01M321.4 52.1h.01M324.3 36.8h.01M326.6 55.9h.01M337.8 49.2h.01M324.7 41.4h.01M347.5 52.0h.01M324.5 33.1h.01M320.3 69.8h.01M322.5 49.4h.01M336.1 48.7h.01M331.2 39.0h.01M323.5 63.5h.01M326.4 56.8h.01M317.1 47.8h.01M336.6 58.3h.01M322.8 54.8h.01M337.9 44.1h.01M338.8 42.8h.01M326.0 49.8h.01M306.9 49.1h.01M324.0 38.3h.01M329.7 56.1h.01M330.0 60.1h.01M322.4 39.5h.01M349.5 53.2h.01M343.5 43.4h.01M342.0 52.1h.01M340.5 50.2h.01M346.1 44.8h.01M324.4 38.2h.01M345.6 44.1h.01M323.6 42.5h.01M329.5 39.8h.01M331.1 45.0h.01M328.5 42.3h.01M334.4 46.3h.01M335.1 52.0h.01M337.4 32.5h.01M328.6 43.6h.01M341.7 37.4h.01M326.9 47.6h.01M330.6 57.9h.01M329.6 57.7h.01M319.3 35.5h.01M346.2 53.5h.01M338.9 51.0h.01M338.8 40.3h.01M343.5 45.7h.01M343.9 50.7h.01M314.3 39.7h.01M345.3 48.9h.01M330.0 51.9h.01M329.7 45.6h.01M335.0 51.2h.01M349.2 50.4h.01M352.8 64.4h.01M351.2 58.5h.01M335.3 51.1h.01M332.6 44.2h.01M333.3 44.9h.01M350.4 54.3h.01M329.5 34.7h.01M333.5 46.7h.01M323.1 40.9h.01M311.5 54.6h.01M333.3 70.6h.01M333.7 48.8h.01M348.4 51.1h.01M335.7 47.0h.01M327.9 62.0h.01M344.0 63.7h.01M330.5 50.2h.01M325.2 57.7h.01M320.1 54.5h.01M345.0 61.3h.01M324.6 58.7h.01M326.9 43.9h.01M320.8 59.2h.01M350.5 45.2h.01M326.4 47.3h.01M328.6 35.6h.01M327.3 59.5h.01M352.7 47.9h.01M327.1 45.9h.01M315.1 57.3h.01M323.1 58.5h.01M316.9 39.8h.01M336.9 43.9h.01M341.8 50.1h.01M322.3 55.0h.01M342.4 34.7h.01M352.3 54.0h.01M341.6 35.1h.01M326.8 47.2h.01M344.8 38.3h.01M325.2 33.8h.01M331.6 52.8h.01M317.1 45.3h.01M339.1 62.7h.01M340.6 47.6h.01M322.2 42.5h.01M327.4 51.2h.01M333.5 63.3h.01M336.9 41.4h.01M349.4 57.6h.01M335.0 44.2h.01M315.3 41.8h.01M343.1 43.6h.01M320.8 51.6h.01M336.4 54.9h.01M340.6 61.3h.01M325.6 57.8h.01M324.1 55.6h.01M335.8 51.9h.01M343.7 49.9h.01M345.1 57.0h.01M335.4 45.5h.01M326.5 45.8h.01M332.0 49.8h.01M341.7 43.1h.01M326.9 47.4h.01M335.9 41.7h.01M350.1 45.5h.01M344.8 31.3h.01M333.9 52.2h.01M335.9 54.8h.01M336.8 51.3h.01M315.1 44.3h.01M310.6 55.0h.01M337.1 48.4h.01M325.8 45.3h.01M352.5 63.8h.01M333.4 60.3h.01M318.1 34.5h.01M329.2 43.0h.01M328.4 51.5h.01M334.5 52.2h.01M333.7 57.4h.01M351.8 40.1h.01M335.6 47.9h.01M337.6 37.7h.01M316.4 31.5h.01M339.3 51.5h.01M334.7 31.1h.01M330.3 44.0h.01M319.9 42.7h.01M341.0 54.4h.01M333.8 54.1h.01M328.0 50.6h.01M334.4 54.4h.01M333.3 48.9h.01M332.7 44.8h.01M356.3 54.1h.01M338.3 68.3h.01M348.0 37.5h.01M341.0 56.7h.01M352.8 60.5h.01M341.7 40.6h.01M325.3 52.2h.01M339.0 41.8h.01" stroke="#999" stroke-opacity="0.45" stroke-width="0.76" stroke-linecap="round" fill="none"/>
<ellipse cx="304.8" cy="65.5" rx="2" ry="4" fill="#444" filter="url(#bl2)"/>
<ellipse cx="326" cy="80.9" rx="8.5" ry="1.6" fill="#111" filter="url(#bl2)"/>
<path d="M309.04,63.08 C309.79,61.25 312.39,58.63 314.59,57.53 C316.79,56.43 319.35,56.47 322.26,56.47 C325.17,56.47 329.69,56.63 332.05,57.53 C334.41,58.44 336.04,59.89 336.42,61.90 C336.79,63.90 335.40,66.83 334.29,69.57 C333.19,72.30 331.82,76.47 329.81,78.30 C327.80,80.13 324.44,80.90 322.26,80.54 C320.08,80.19 318.74,78.18 316.71,76.18 C314.69,74.17 311.38,70.69 310.10,68.51 C308.83,66.32 308.29,64.91 309.04,63.08Z" fill="#aaa" fill-opacity="0.5" filter="url(#bl)"/>
<path d="M311.40,63.60 C312.03,62.05 314.23,59.83 316.10,58.90 C317.97,57.97 320.13,58.00 322.60,58.00 C325.07,58.00 328.90,58.13 330.90,58.90 C332.90,59.67 334.28,60.90 334.60,62.60 C334.92,64.30 333.73,66.78 332.80,69.10 C331.87,71.42 330.70,74.95 329.00,76.50 C327.30,78.05 324.45,78.70 322.60,78.40 C320.75,78.10 319.62,76.40 317.90,74.70 C316.18,73.00 313.38,70.05 312.30,68.20 C311.22,66.35 310.77,65.15 311.40,63.60Z" fill="#e6e6e6" fill-opacity="0.9" stroke="#555" stroke-width="0.5"/>
<path d="M313.23,64.01 C313.78,62.67 315.67,60.77 317.28,59.96 C318.88,59.16 320.74,59.19 322.87,59.19 C324.99,59.19 328.28,59.30 330.00,59.96 C331.72,60.62 332.91,61.68 333.19,63.15 C333.46,64.61 332.44,66.74 331.64,68.74 C330.84,70.73 329.83,73.77 328.37,75.10 C326.91,76.43 324.46,76.99 322.87,76.73 C321.28,76.48 320.30,75.01 318.82,73.55 C317.35,72.09 314.94,69.55 314.01,67.96 C313.08,66.37 312.69,65.34 313.23,64.01Z" fill="#c8c8c8" fill-opacity="0.9" stroke="#666" stroke-width="0.4"/>
<path d="M315.07,64.41 C315.52,63.30 317.11,61.70 318.45,61.03 C319.80,60.36 321.36,60.38 323.13,60.38 C324.91,60.38 327.67,60.48 329.11,61.03 C330.55,61.58 331.54,62.47 331.77,63.69 C332.00,64.92 331.15,66.70 330.48,68.37 C329.80,70.04 328.96,72.58 327.74,73.70 C326.52,74.82 324.46,75.28 323.13,75.07 C321.80,74.85 320.98,73.63 319.75,72.40 C318.51,71.18 316.50,69.06 315.72,67.72 C314.94,66.39 314.61,65.53 315.07,64.41Z" fill="#a8a8a8" fill-opacity="0.9" stroke="#444" stroke-width="0.45"/>
<path d="M316.90,64.82 C317.27,63.92 318.55,62.63 319.63,62.09 C320.71,61.55 321.97,61.57 323.40,61.57 C324.83,61.57 327.05,61.65 328.21,62.09 C329.37,62.54 330.17,63.25 330.36,64.24 C330.54,65.22 329.86,66.66 329.31,68.01 C328.77,69.35 328.10,71.40 327.11,72.30 C326.12,73.20 324.47,73.58 323.40,73.40 C322.33,73.23 321.67,72.24 320.67,71.26 C319.68,70.27 318.05,68.56 317.42,67.49 C316.80,66.41 316.53,65.72 316.90,64.82Z" fill="#858585" fill-opacity="0.95" stroke="#2a2a2a" stroke-width="0.5"/>
<path d="M318.74,65.22 C319.01,64.54 319.98,63.57 320.80,63.16 C321.63,62.75 322.58,62.76 323.66,62.76 C324.75,62.76 326.44,62.82 327.32,63.16 C328.20,63.49 328.80,64.04 328.94,64.78 C329.08,65.53 328.56,66.62 328.15,67.64 C327.74,68.66 327.23,70.22 326.48,70.90 C325.73,71.58 324.48,71.87 323.66,71.74 C322.85,71.60 322.35,70.86 321.60,70.11 C320.84,69.36 319.61,68.06 319.13,67.25 C318.66,66.43 318.46,65.91 318.74,65.22Z" fill="#6a6a6a" fill-opacity="1" stroke="#222" stroke-width="0.45"/>
<path d="M320.57,65.63 C320.76,65.16 321.42,64.50 321.98,64.22 C322.54,63.94 323.19,63.95 323.93,63.95 C324.67,63.95 325.82,63.99 326.42,64.22 C327.02,64.45 327.44,64.82 327.53,65.33 C327.62,65.84 327.27,66.59 326.99,67.28 C326.71,67.97 326.36,69.03 325.85,69.50 C325.34,69.97 324.49,70.16 323.93,70.07 C323.38,69.98 323.03,69.47 322.52,68.96 C322.00,68.45 321.17,67.57 320.84,67.01 C320.52,66.45 320.38,66.09 320.57,65.63Z" fill="#8a8a8a" fill-opacity="1" stroke="#333" stroke-width="0.4"/>
<path d="M322.40,66.04 C322.51,65.79 322.86,65.43 323.16,65.28 C323.45,65.13 323.80,65.14 324.20,65.14 C324.59,65.14 325.20,65.16 325.52,65.28 C325.84,65.41 326.07,65.60 326.12,65.88 C326.17,66.15 325.98,66.55 325.83,66.92 C325.68,67.29 325.49,67.85 325.22,68.10 C324.95,68.35 324.49,68.45 324.20,68.40 C323.90,68.36 323.72,68.08 323.44,67.81 C323.17,67.54 322.72,67.07 322.55,66.77 C322.37,66.48 322.30,66.28 322.40,66.04Z" fill="#d8d8d8" fill-opacity="1" stroke="none"/>
<path d="M322.2,58.2 C322.4,52.5 325.5,50.5 328.8,50.5 C332.6,50.5 334.4,53 334.6,59" fill="none" stroke="#555" stroke-width="0.5"/>
<path d="M325,58 C325,54.5 326.8,53.2 328.6,53.2 C330.6,53.2 331.6,54.6 331.8,58.5" fill="none" stroke="#555" stroke-width="0.5"/>
</g>
<line x1="302.4" y1="36.8" x2="304.0" y2="36.8" stroke="#222" stroke-width="0.7" />
<line x1="302.4" y1="34.43" x2="304.0" y2="34.43" stroke="#222" stroke-width="0.7" />
<line x1="302.4" y1="32.75" x2="304.0" y2="32.75" stroke="#222" stroke-width="0.7" />
<line x1="302.4" y1="31.45" x2="304.0" y2="31.45" stroke="#222" stroke-width="0.7" />
<line x1="302.4" y1="30.38" x2="304.0" y2="30.38" stroke="#222" stroke-width="0.7" />
<line x1="302.4" y1="29.48" x2="304.0" y2="29.48" stroke="#222" stroke-width="0.7" />
<line x1="302.4" y1="28.7" x2="304.0" y2="28.7" stroke="#222" stroke-width="0.7" />
<line x1="302.4" y1="28.02" x2="304.0" y2="28.02" stroke="#222" stroke-width="0.7" />
<line x1="302.4" y1="50.25" x2="304.0" y2="50.25" stroke="#222" stroke-width="0.7" />
<line x1="302.4" y1="47.88" x2="304.0" y2="47.88" stroke="#222" stroke-width="0.7" />
<line x1="302.4" y1="46.2" x2="304.0" y2="46.2" stroke="#222" stroke-width="0.7" />
<line x1="302.4" y1="44.9" x2="304.0" y2="44.9" stroke="#222" stroke-width="0.7" />
<line x1="302.4" y1="43.83" x2="304.0" y2="43.83" stroke="#222" stroke-width="0.7" />
<line x1="302.4" y1="42.93" x2="304.0" y2="42.93" stroke="#222" stroke-width="0.7" />
<line x1="302.4" y1="42.15" x2="304.0" y2="42.15" stroke="#222" stroke-width="0.7" />
<line x1="302.4" y1="41.47" x2="304.0" y2="41.47" stroke="#222" stroke-width="0.7" />
<line x1="302.4" y1="63.7" x2="304.0" y2="63.7" stroke="#222" stroke-width="0.7" />
<line x1="302.4" y1="61.33" x2="304.0" y2="61.33" stroke="#222" stroke-width="0.7" />
<line x1="302.4" y1="59.65" x2="304.0" y2="59.65" stroke="#222" stroke-width="0.7" />
<line x1="302.4" y1="58.35" x2="304.0" y2="58.35" stroke="#222" stroke-width="0.7" />
<line x1="302.4" y1="57.28" x2="304.0" y2="57.28" stroke="#222" stroke-width="0.7" />
<line x1="302.4" y1="56.38" x2="304.0" y2="56.38" stroke="#222" stroke-width="0.7" />
<line x1="302.4" y1="55.6" x2="304.0" y2="55.6" stroke="#222" stroke-width="0.7" />
<line x1="302.4" y1="54.92" x2="304.0" y2="54.92" stroke="#222" stroke-width="0.7" />
<line x1="302.4" y1="77.15" x2="304.0" y2="77.15" stroke="#222" stroke-width="0.7" />
<line x1="302.4" y1="74.78" x2="304.0" y2="74.78" stroke="#222" stroke-width="0.7" />
<line x1="302.4" y1="73.1" x2="304.0" y2="73.1" stroke="#222" stroke-width="0.7" />
<line x1="302.4" y1="71.8" x2="304.0" y2="71.8" stroke="#222" stroke-width="0.7" />
<line x1="302.4" y1="70.73" x2="304.0" y2="70.73" stroke="#222" stroke-width="0.7" />
<line x1="302.4" y1="69.83" x2="304.0" y2="69.83" stroke="#222" stroke-width="0.7" />
<line x1="302.4" y1="69.05" x2="304.0" y2="69.05" stroke="#222" stroke-width="0.7" />
<line x1="302.4" y1="68.37" x2="304.0" y2="68.37" stroke="#222" stroke-width="0.7" />
<line x1="308.1" y1="81.2" x2="308.1" y2="82.8" stroke="#222" stroke-width="0.7" />
<line x1="310.5" y1="81.2" x2="310.5" y2="82.8" stroke="#222" stroke-width="0.7" />
<line x1="312.2" y1="81.2" x2="312.2" y2="82.8" stroke="#222" stroke-width="0.7" />
<line x1="313.52" y1="81.2" x2="313.52" y2="82.8" stroke="#222" stroke-width="0.7" />
<line x1="314.6" y1="81.2" x2="314.6" y2="82.8" stroke="#222" stroke-width="0.7" />
<line x1="315.51" y1="81.2" x2="315.51" y2="82.8" stroke="#222" stroke-width="0.7" />
<line x1="316.3" y1="81.2" x2="316.3" y2="82.8" stroke="#222" stroke-width="0.7" />
<line x1="317.0" y1="81.2" x2="317.0" y2="82.8" stroke="#222" stroke-width="0.7" />
<line x1="321.73" y1="81.2" x2="321.73" y2="82.8" stroke="#222" stroke-width="0.7" />
<line x1="324.13" y1="81.2" x2="324.13" y2="82.8" stroke="#222" stroke-width="0.7" />
<line x1="325.83" y1="81.2" x2="325.83" y2="82.8" stroke="#222" stroke-width="0.7" />
<line x1="327.15" y1="81.2" x2="327.15" y2="82.8" stroke="#222" stroke-width="0.7" />
<line x1="328.23" y1="81.2" x2="328.23" y2="82.8" stroke="#222" stroke-width="0.7" />
<line x1="329.14" y1="81.2" x2="329.14" y2="82.8" stroke="#222" stroke-width="0.7" />
<line x1="329.93" y1="81.2" x2="329.93" y2="82.8" stroke="#222" stroke-width="0.7" />
<line x1="330.63" y1="81.2" x2="330.63" y2="82.8" stroke="#222" stroke-width="0.7" />
<line x1="335.35" y1="81.2" x2="335.35" y2="82.8" stroke="#222" stroke-width="0.7" />
<line x1="337.75" y1="81.2" x2="337.75" y2="82.8" stroke="#222" stroke-width="0.7" />
<line x1="339.45" y1="81.2" x2="339.45" y2="82.8" stroke="#222" stroke-width="0.7" />
<line x1="340.77" y1="81.2" x2="340.77" y2="82.8" stroke="#222" stroke-width="0.7" />
<line x1="341.85" y1="81.2" x2="341.85" y2="82.8" stroke="#222" stroke-width="0.7" />
<line x1="342.76" y1="81.2" x2="342.76" y2="82.8" stroke="#222" stroke-width="0.7" />
<line x1="343.55" y1="81.2" x2="343.55" y2="82.8" stroke="#222" stroke-width="0.7" />
<line x1="344.25" y1="81.2" x2="344.25" y2="82.8" stroke="#222" stroke-width="0.7" />
<line x1="348.98" y1="81.2" x2="348.98" y2="82.8" stroke="#222" stroke-width="0.7" />
<line x1="351.38" y1="81.2" x2="351.38" y2="82.8" stroke="#222" stroke-width="0.7" />
<line x1="353.08" y1="81.2" x2="353.08" y2="82.8" stroke="#222" stroke-width="0.7" />
<line x1="354.4" y1="81.2" x2="354.4" y2="82.8" stroke="#222" stroke-width="0.7" />
<line x1="355.48" y1="81.2" x2="355.48" y2="82.8" stroke="#222" stroke-width="0.7" />
<line x1="356.39" y1="81.2" x2="356.39" y2="82.8" stroke="#222" stroke-width="0.7" />
<line x1="357.18" y1="81.2" x2="357.18" y2="82.8" stroke="#222" stroke-width="0.7" />
<line x1="357.88" y1="81.2" x2="357.88" y2="82.8" stroke="#222" stroke-width="0.7" />
<line x1="301.4" y1="27.4" x2="304.0" y2="27.4" stroke="#111" stroke-width="0.9" />
<line x1="317.625" y1="81.2" x2="317.625" y2="83.8" stroke="#111" stroke-width="0.9" />
<line x1="301.4" y1="40.85" x2="304.0" y2="40.85" stroke="#111" stroke-width="0.9" />
<line x1="331.25" y1="81.2" x2="331.25" y2="83.8" stroke="#111" stroke-width="0.9" />
<line x1="301.4" y1="54.3" x2="304.0" y2="54.3" stroke="#111" stroke-width="0.9" />
<line x1="344.875" y1="81.2" x2="344.875" y2="83.8" stroke="#111" stroke-width="0.9" />
<line x1="301.4" y1="67.75" x2="304.0" y2="67.75" stroke="#111" stroke-width="0.9" />
<line x1="358.5" y1="81.2" x2="358.5" y2="83.8" stroke="#111" stroke-width="0.9" />
<rect x="304.0" y="27.4" width="54.5" height="53.800000000000004" fill="none" stroke="#111" stroke-width="1.6"/>
<text x="289.78" y="29.29" font-size="6.4" fill="#222" stroke="#222" stroke-width="0.14" textLength="6.60" lengthAdjust="spacingAndGlyphs">10</text>
<text x="297.18" y="26.09" font-size="4.35" fill="#222" stroke="#222" stroke-width="0.1">3</text>
<text x="289.78" y="42.74" font-size="6.4" fill="#222" stroke="#222" stroke-width="0.14" textLength="6.60" lengthAdjust="spacingAndGlyphs">10</text>
<text x="297.18" y="39.54" font-size="4.35" fill="#222" stroke="#222" stroke-width="0.1">2</text>
<text x="289.78" y="56.19" font-size="6.4" fill="#222" stroke="#222" stroke-width="0.14" textLength="6.60" lengthAdjust="spacingAndGlyphs">10</text>
<text x="297.18" y="52.99" font-size="4.35" fill="#222" stroke="#222" stroke-width="0.1">1</text>
<text x="289.78" y="69.64" font-size="6.4" fill="#222" stroke="#222" stroke-width="0.14" textLength="6.60" lengthAdjust="spacingAndGlyphs">10</text>
<text x="297.18" y="66.44" font-size="4.35" fill="#222" stroke="#222" stroke-width="0.1">0</text>
<text x="313.32" y="93.29" font-size="6.4" fill="#222" stroke="#222" stroke-width="0.14" textLength="6.40" lengthAdjust="spacingAndGlyphs">10</text>
<text x="320.52" y="90.09" font-size="4.35" fill="#222" stroke="#222" stroke-width="0.1">0</text>
<text x="326.94" y="93.29" font-size="6.4" fill="#222" stroke="#222" stroke-width="0.14" textLength="6.40" lengthAdjust="spacingAndGlyphs">10</text>
<text x="334.14" y="90.09" font-size="4.35" fill="#222" stroke="#222" stroke-width="0.1">1</text>
<text x="340.57" y="93.29" font-size="6.4" fill="#222" stroke="#222" stroke-width="0.14" textLength="6.40" lengthAdjust="spacingAndGlyphs">10</text>
<text x="347.77" y="90.09" font-size="4.35" fill="#222" stroke="#222" stroke-width="0.1">2</text>
<text x="354.19" y="93.29" font-size="6.4" fill="#222" stroke="#222" stroke-width="0.14" textLength="6.40" lengthAdjust="spacingAndGlyphs">10</text>
<text x="361.39" y="90.09" font-size="4.35" fill="#222" stroke="#222" stroke-width="0.1">3</text>
<polygon points="315.8,36.3 346.6,36.3 346.6,61.1 315.8,55.8" fill="none" stroke="#5b72a8" stroke-width="0.8"/>
<text x="331.6" y="34.8" font-size="5.4" text-anchor="middle" fill="#5b72a8" stroke="#5b72a8" stroke-width="0.04" >5.23</text>
<text x="362" y="51.5" font-size="9" text-anchor="start" fill="#262626" stroke="#262626" stroke-width="0.13" textLength="18" lengthAdjust="spacingAndGlyphs" >Base</text>
<text x="362" y="62" font-size="9" text-anchor="start" fill="#262626" stroke="#262626" stroke-width="0.13" textLength="13.5" lengthAdjust="spacingAndGlyphs" >line</text>
<clipPath id="cb2"><rect x="304.0" y="104.2" width="54.5" height="54.999999999999986"/></clipPath>
<g clip-path="url(#cb2)">
<path d="M315.4 139.0h.01M320.7 146.4h.01M316.6 130.6h.01M318.7 153.2h.01M325.3 149.6h.01M325.8 135.4h.01M326.9 153.1h.01M343.9 150.4h.01M315.9 137.0h.01M310.2 144.2h.01M319.6 149.7h.01M347.3 142.7h.01M328.1 147.8h.01M323.3 140.9h.01M318.5 134.8h.01M322.1 142.8h.01M323.8 134.4h.01M320.5 143.5h.01M327.3 132.4h.01M325.0 152.8h.01M327.2 139.3h.01M314.1 140.6h.01M318.1 136.6h.01M324.5 145.0h.01M309.1 135.6h.01M318.8 149.7h.01M305.7 132.8h.01M326.0 130.8h.01M321.3 146.5h.01M318.7 132.8h.01M319.3 139.7h.01M324.0 134.6h.01M333.1 126.2h.01M317.9 143.1h.01M331.5 136.9h.01M326.6 137.3h.01M315.2 147.4h.01M308.9 152.7h.01M334.5 143.4h.01M306.4 147.0h.01M333.8 153.9h.01M329.8 124.7h.01M311.8 157.2h.01M305.3 154.3h.01M342.6 150.6h.01M333.4 139.7h.01M305.3 142.0h.01M317.6 142.5h.01M328.4 141.6h.01M322.3 147.2h.01M325.3 143.8h.01M317.5 136.7h.01M336.1 144.5h.01M307.1 137.4h.01M318.4 138.5h.01M333.0 131.4h.01M325.9 144.4h.01M305.9 143.5h.01M318.9 148.0h.01M314.6 146.0h.01M329.4 153.4h.01M319.8 137.0h.01M333.0 122.1h.01M310.4 149.7h.01M327.8 132.7h.01M321.8 134.0h.01M320.7 152.0h.01M328.9 122.2h.01M329.3 125.2h.01M333.7 147.0h.01M347.0 136.9h.01M320.1 153.5h.01M312.3 136.0h.01M315.5 142.3h.01M307.0 147.8h.01M326.5 143.7h.01M340.4 139.7h.01M335.7 137.5h.01M329.1 123.7h.01M322.4 141.2h.01M314.1 136.9h.01M315.8 135.8h.01M313.4 137.8h.01M307.3 141.6h.01M329.4 140.5h.01M314.1 156.6h.01M331.7 152.2h.01M333.9 139.7h.01M318.4 154.1h.01M313.4 141.8h.01M324.5 146.7h.01M316.7 152.8h.01M317.9 150.3h.01M332.8 149.6h.01M328.8 131.4h.01M325.7 158.0h.01M305.3 146.1h.01M309.8 135.7h.01M316.7 149.9h.01M322.6 154.8h.01M308.2 151.9h.01M331.2 143.7h.01M325.7 137.4h.01M306.9 138.9h.01M322.4 146.1h.01M328.9 135.2h.01M331.0 146.8h.01M326.6 147.5h.01M339.0 138.9h.01M326.1 150.5h.01M309.2 155.0h.01M326.3 132.1h.01M318.6 126.6h.01M320.8 131.7h.01M324.1 127.7h.01M325.4 140.3h.01M320.8 142.3h.01M321.6 129.8h.01M308.8 138.5h.01M325.1 123.1h.01M310.8 136.9h.01M307.3 146.3h.01M318.3 134.8h.01M308.2 151.1h.01M312.1 148.9h.01M325.4 124.1h.01M307.0 143.0h.01M324.1 150.8h.01M329.6 153.3h.01M315.5 140.9h.01M329.3 138.7h.01M332.7 127.1h.01M327.8 141.3h.01M323.7 143.2h.01M307.1 138.3h.01M338.1 134.7h.01M305.6 141.7h.01M315.3 133.9h.01M309.9 153.5h.01M313.5 132.1h.01M329.4 148.6h.01M307.5 150.5h.01M333.5 140.4h.01M331.0 142.8h.01M325.0 150.7h.01M342.2 140.5h.01M314.2 142.6h.01M334.5 133.6h.01M335.7 115.5h.01M329.6 136.2h.01M325.5 149.9h.01M305.8 142.1h.01M322.9 148.9h.01M308.8 133.1h.01M317.7 140.8h.01M313.6 157.4h.01M330.2 143.2h.01M328.7 131.9h.01M316.1 137.2h.01M318.3 157.4h.01M309.0 138.4h.01M325.1 147.0h.01M320.3 138.3h.01M325.9 146.6h.01M321.8 143.6h.01M321.4 134.2h.01M317.6 133.9h.01M324.6 149.9h.01M341.1 155.7h.01M310.3 138.4h.01M308.7 146.1h.01M343.8 150.1h.01M320.0 146.0h.01M341.4 134.7h.01M324.1 135.2h.01M320.5 152.9h.01M318.3 136.1h.01M320.3 149.2h.01M315.1 148.0h.01M329.8 141.5h.01M314.5 141.1h.01M308.4 140.9h.01M316.4 145.1h.01M336.0 156.1h.01M314.7 149.0h.01M323.5 150.6h.01M320.3 145.7h.01M314.4 135.2h.01M330.5 156.0h.01M327.9 147.4h.01M323.2 138.5h.01M322.4 137.5h.01M308.4 155.8h.01M311.4 142.8h.01M313.9 144.6h.01M317.5 135.5h.01M332.9 135.2h.01M313.9 148.5h.01M313.5 138.7h.01M324.3 139.3h.01M305.0 142.0h.01M306.8 152.7h.01M310.6 139.4h.01M316.1 145.7h.01M312.4 156.3h.01M331.9 151.1h.01M310.9 152.0h.01M318.7 146.5h.01M316.8 149.6h.01M333.4 154.3h.01M317.5 153.0h.01M337.4 133.6h.01M337.7 129.6h.01M326.5 148.9h.01M337.8 145.8h.01M314.2 135.0h.01M305.0 150.7h.01M317.2 135.8h.01M326.4 135.4h.01M314.8 138.4h.01M339.9 157.6h.01M318.1 127.3h.01M323.3 143.7h.01M324.2 148.7h.01M316.2 152.3h.01M330.0 145.1h.01M315.1 138.2h.01M328.3 132.0h.01M318.1 135.5h.01M319.7 143.4h.01M330.5 128.1h.01M319.2 145.9h.01M330.0 132.2h.01M328.6 145.2h.01M336.3 154.4h.01M320.0 138.8h.01M315.9 133.6h.01M319.7 124.2h.01M319.0 147.3h.01M331.9 139.5h.01M336.7 136.5h.01M318.4 124.2h.01M310.9 135.1h.01M337.5 148.2h.01M307.1 148.2h.01M325.6 140.7h.01M320.3 140.0h.01M313.6 125.7h.01M318.9 155.5h.01M336.8 140.3h.01M311.2 140.9h.01M330.5 146.4h.01M313.2 146.5h.01M317.6 148.0h.01M315.2 128.6h.01M320.7 150.4h.01M307.0 142.0h.01M330.3 139.3h.01M329.7 153.0h.01M328.6 156.0h.01M309.1 136.5h.01M322.3 124.2h.01M327.5 148.4h.01M314.8 148.2h.01M329.1 146.0h.01M326.1 157.7h.01M314.4 144.6h.01M313.9 153.0h.01M315.3 147.6h.01M321.6 143.6h.01M340.0 142.2h.01M336.5 151.0h.01M335.3 141.4h.01M330.8 150.3h.01M312.9 145.6h.01M318.5 142.7h.01M335.1 136.0h.01M314.8 136.8h.01M320.2 148.5h.01M340.4 146.0h.01M325.4 135.9h.01M326.7 156.1h.01M335.5 124.2h.01M330.3 158.3h.01M329.6 128.6h.01M316.4 148.7h.01M324.8 135.2h.01M309.7 152.3h.01M320.2 145.9h.01M328.0 128.8h.01M343.9 129.5h.01M305.9 143.4h.01M325.6 150.1h.01M315.7 141.0h.01M317.3 137.5h.01M322.9 144.5h.01M312.7 145.4h.01M319.8 142.3h.01M332.7 126.5h.01M322.9 132.8h.01M316.3 157.4h.01M307.5 142.0h.01M313.2 152.1h.01M308.7 126.8h.01M325.9 139.6h.01M316.3 153.4h.01M309.8 139.4h.01M321.7 147.0h.01M314.0 152.9h.01M345.8 139.1h.01M341.5 122.7h.01M336.2 139.7h.01M321.6 139.7h.01M312.7 130.7h.01M315.5 155.4h.01M333.1 139.7h.01M313.9 136.3h.01M327.6 144.1h.01M314.3 133.2h.01M335.2 150.5h.01M309.0 152.5h.01M307.2 149.2h.01M308.9 139.0h.01M325.7 147.2h.01M331.7 135.0h.01M338.2 155.9h.01M319.9 147.5h.01M311.0 141.5h.01M322.3 155.9h.01M330.9 150.8h.01M315.8 140.8h.01M316.1 145.1h.01M320.3 138.1h.01M339.2 142.1h.01M338.1 154.3h.01M314.3 146.8h.01M335.0 139.8h.01M321.0 137.6h.01M320.7 139.6h.01M321.0 152.6h.01M336.0 144.3h.01M322.3 151.2h.01M316.7 132.8h.01M332.8 134.0h.01M330.7 133.7h.01M341.1 133.0h.01M329.8 157.4h.01M308.9 157.3h.01M310.5 126.1h.01M328.3 149.7h.01M317.7 118.8h.01M319.4 140.1h.01M315.6 140.2h.01M340.7 157.8h.01M315.8 136.2h.01M324.6 153.2h.01M328.3 131.8h.01M321.9 144.3h.01M336.6 154.5h.01M326.0 154.7h.01M315.4 157.8h.01M315.1 146.8h.01M330.6 134.2h.01M311.9 126.1h.01M321.9 142.5h.01M316.2 147.8h.01M321.0 140.4h.01M314.9 134.0h.01M313.0 143.9h.01M326.8 134.7h.01M331.5 133.2h.01M329.5 147.1h.01M317.0 141.4h.01M325.5 151.3h.01M311.5 149.1h.01M335.8 143.5h.01M318.8 144.8h.01M326.5 144.6h.01M315.4 136.0h.01M317.9 154.6h.01M318.8 155.9h.01M323.2 142.9h.01M334.4 130.6h.01M308.6 132.5h.01M313.6 149.2h.01M326.8 123.5h.01M336.8 137.3h.01M319.1 131.1h.01M312.6 136.0h.01M308.4 139.8h.01M330.1 146.4h.01M308.6 144.1h.01M320.4 150.3h.01M316.2 147.4h.01M344.3 143.9h.01M307.5 146.2h.01M310.8 139.4h.01M322.2 146.2h.01M316.7 151.1h.01M317.8 130.5h.01M330.1 139.5h.01M334.0 136.7h.01M326.6 146.0h.01M307.1 156.5h.01M332.6 147.8h.01M327.8 138.2h.01M319.9 145.2h.01M324.8 149.8h.01M317.6 136.3h.01M313.5 146.9h.01M315.3 137.7h.01M316.9 117.4h.01M316.1 140.6h.01M328.9 124.0h.01M316.5 147.6h.01M325.6 154.5h.01M332.2 132.9h.01M327.3 139.8h.01M310.7 157.7h.01M312.7 134.8h.01M315.3 134.8h.01M331.6 146.7h.01M336.2 147.0h.01M312.9 153.1h.01M312.4 138.6h.01M318.1 143.4h.01M333.8 137.2h.01M324.1 142.7h.01M305.5 132.5h.01M317.5 146.9h.01M323.7 147.6h.01M320.6 138.7h.01M324.9 133.3h.01M311.4 137.7h.01M319.5 135.3h.01M315.1 126.5h.01M321.7 134.5h.01M324.7 115.7h.01M310.7 145.3h.01M321.1 144.0h.01M321.7 133.6h.01M328.6 142.5h.01M320.2 138.7h.01M326.3 143.9h.01M333.2 147.4h.01M312.9 140.8h.01M330.6 139.5h.01M324.4 148.0h.01M317.9 120.5h.01M321.5 145.1h.01M321.6 135.7h.01M334.0 141.7h.01M312.8 136.1h.01M324.2 132.5h.01M335.2 153.2h.01M335.8 148.8h.01M334.4 147.7h.01M335.9 138.2h.01M321.5 150.5h.01M319.0 153.6h.01M320.9 149.7h.01M321.0 128.7h.01M323.2 155.7h.01M326.4 137.2h.01M320.2 124.4h.01M317.8 151.8h.01M329.6 155.9h.01M309.2 136.7h.01M306.7 156.4h.01M325.0 138.2h.01M345.6 118.5h.01M319.2 145.1h.01M346.4 144.3h.01M331.4 156.3h.01M326.0 146.5h.01M317.9 139.0h.01M314.8 122.8h.01M323.1 142.7h.01M318.8 140.4h.01M311.3 142.8h.01M314.9 145.0h.01M356.4 146.8h.01M330.1 150.9h.01M328.3 151.0h.01M327.9 156.7h.01M331.8 156.1h.01M314.1 143.0h.01M311.5 152.3h.01M329.7 138.5h.01M334.4 132.1h.01M318.9 149.2h.01M319.6 146.8h.01M333.8 146.2h.01M307.2 150.0h.01M318.9 144.1h.01M313.4 129.5h.01M305.4 139.6h.01M307.5 116.6h.01M333.4 131.7h.01M311.5 148.2h.01M311.0 149.4h.01M314.4 146.0h.01M321.2 143.0h.01M319.5 156.7h.01M313.6 148.2h.01M321.9 147.7h.01M331.6 128.4h.01M323.2 141.3h.01M316.3 134.7h.01M310.8 133.0h.01M339.9 143.1h.01M328.7 133.5h.01M321.7 157.0h.01M319.5 133.2h.01M317.2 133.3h.01M315.3 135.1h.01M309.6 133.9h.01M322.8 156.6h.01M306.5 141.4h.01M321.2 148.4h.01M333.2 137.6h.01M305.5 141.2h.01M323.4 136.2h.01M331.9 124.3h.01M322.4 140.8h.01M322.5 138.3h.01M325.2 149.3h.01M329.0 148.7h.01M324.8 131.5h.01M315.1 144.3h.01M315.6 132.7h.01M320.4 137.3h.01M315.1 134.3h.01M311.2 142.0h.01M312.5 149.6h.01M318.3 144.3h.01M324.7 155.4h.01M327.0 145.2h.01M318.1 135.1h.01M316.0 149.7h.01M322.6 139.2h.01M323.8 153.0h.01M324.4 129.6h.01M317.5 145.2h.01M309.3 146.4h.01M317.7 134.9h.01M305.5 150.9h.01M324.2 134.4h.01M308.1 151.7h.01M327.0 140.0h.01M338.6 140.2h.01M307.7 153.6h.01M317.8 146.4h.01M320.4 133.2h.01M306.1 141.1h.01M336.4 133.2h.01M335.9 145.1h.01M307.0 145.6h.01M326.6 134.2h.01M307.0 147.3h.01M310.5 128.6h.01M317.2 144.7h.01M313.5 131.5h.01M322.5 126.0h.01M326.2 147.8h.01M339.6 151.6h.01M324.1 145.6h.01M320.3 130.1h.01M337.1 148.1h.01M316.7 131.9h.01M337.3 148.2h.01M306.2 149.5h.01M342.1 142.8h.01M324.7 139.0h.01M312.7 153.4h.01M355.9 144.1h.01M318.6 150.7h.01M316.4 150.1h.01M329.7 133.1h.01M307.5 142.3h.01M329.7 145.7h.01M334.5 129.6h.01M325.7 137.0h.01M321.2 146.1h.01M308.7 140.8h.01M306.4 145.6h.01M310.1 138.2h.01M322.5 136.7h.01M333.4 136.8h.01M329.9 145.7h.01M308.0 140.9h.01M310.3 139.5h.01M315.1 158.2h.01M325.2 130.3h.01M332.0 146.8h.01M317.6 140.6h.01M323.0 140.1h.01M313.8 139.4h.01" stroke="#8a8a8a" stroke-opacity="0.45" stroke-width="0.76" stroke-linecap="round" fill="none"/>
<path d="M344.5 123.8h.01M336.0 120.2h.01M324.4 118.7h.01M329.9 132.6h.01M335.3 124.7h.01M338.5 125.6h.01M336.0 129.9h.01M337.8 111.2h.01M318.1 133.2h.01M330.9 143.2h.01M329.5 124.3h.01M347.9 131.8h.01M352.2 131.5h.01M329.8 132.9h.01M323.6 125.0h.01M326.1 126.5h.01M340.3 124.7h.01M335.4 124.6h.01M341.4 109.3h.01M329.8 129.1h.01M320.5 134.9h.01M334.3 136.7h.01M342.2 132.3h.01M330.4 120.6h.01M329.7 124.9h.01M334.7 124.9h.01M344.5 124.8h.01M329.4 134.3h.01M332.0 119.8h.01M336.4 126.7h.01M310.1 129.3h.01M320.8 123.0h.01M337.1 130.0h.01M328.9 142.7h.01M336.5 123.9h.01M334.5 127.2h.01M308.6 117.3h.01M317.2 142.0h.01M330.0 126.1h.01M326.0 134.6h.01M332.3 139.5h.01M340.4 139.1h.01M330.8 130.5h.01M327.4 126.9h.01M313.6 124.1h.01M321.9 123.6h.01M344.9 129.8h.01M345.0 133.8h.01M341.8 134.8h.01M325.6 133.4h.01M328.6 124.4h.01M344.7 142.6h.01M321.6 139.7h.01M340.8 122.3h.01M334.9 130.5h.01M336.0 125.6h.01M318.4 128.2h.01M341.1 133.3h.01M339.0 135.4h.01M321.5 127.7h.01M335.6 134.7h.01M333.7 131.5h.01M333.4 142.2h.01M308.9 127.8h.01M312.6 128.9h.01M316.8 123.4h.01M334.4 139.6h.01M336.9 132.5h.01M342.8 129.4h.01M322.9 127.3h.01M335.6 126.1h.01M324.9 125.6h.01M316.1 121.1h.01M331.0 125.6h.01M332.4 137.5h.01M335.2 127.8h.01M319.6 120.7h.01M336.0 122.1h.01M336.5 120.8h.01M333.4 127.5h.01M342.5 125.4h.01M328.1 129.7h.01M332.6 139.4h.01M329.3 124.4h.01M328.6 131.2h.01M334.5 132.7h.01M317.4 144.7h.01M351.5 127.8h.01M319.2 129.0h.01M336.4 113.0h.01M332.1 118.0h.01M336.9 137.3h.01M342.9 117.9h.01M346.6 134.1h.01M328.2 131.4h.01M348.1 125.8h.01M331.8 124.2h.01M344.2 113.5h.01M347.0 121.5h.01M341.8 117.1h.01M322.1 124.0h.01M340.8 117.1h.01M338.4 123.7h.01M345.1 125.9h.01M337.1 126.8h.01M351.0 125.6h.01M331.7 141.4h.01M332.8 132.6h.01M324.2 129.3h.01M308.0 128.7h.01M325.2 117.9h.01M317.0 135.7h.01M336.5 117.8h.01M351.2 123.3h.01M328.1 129.7h.01M320.0 117.1h.01M324.1 136.0h.01M342.1 117.4h.01M344.7 128.2h.01M337.3 128.3h.01M336.4 121.3h.01M322.4 123.3h.01M328.1 132.2h.01M319.1 138.7h.01M325.3 124.0h.01M339.4 130.9h.01M328.4 120.8h.01M321.4 117.2h.01M344.1 135.3h.01M351.8 131.4h.01M335.5 133.1h.01M342.1 126.3h.01M335.7 142.5h.01M314.1 118.5h.01M321.8 133.1h.01M344.6 125.7h.01M339.1 127.7h.01M335.2 124.4h.01M331.7 128.0h.01M344.0 143.0h.01M312.8 131.6h.01M331.9 134.5h.01M343.2 133.3h.01M340.6 121.6h.01M313.9 139.3h.01M344.8 121.6h.01M345.7 132.5h.01M306.0 134.1h.01M321.5 135.9h.01M324.8 123.0h.01M315.6 126.5h.01M342.8 123.5h.01M312.3 142.5h.01M351.6 132.7h.01M326.3 119.8h.01M314.6 131.8h.01M345.8 120.9h.01M332.0 126.1h.01M329.3 131.4h.01M354.2 123.7h.01M341.0 135.3h.01M329.0 127.0h.01M317.8 135.3h.01M326.4 123.6h.01M332.7 122.2h.01M320.9 126.0h.01M347.8 126.6h.01M337.6 118.1h.01M311.3 140.3h.01M327.8 117.6h.01M330.9 132.1h.01M313.7 122.0h.01M334.8 121.8h.01M340.5 134.5h.01M336.7 125.1h.01M331.5 123.7h.01M330.6 130.1h.01M328.8 134.6h.01M335.6 133.6h.01M338.8 126.4h.01M326.9 134.8h.01M338.6 131.4h.01M323.5 132.3h.01M340.4 126.7h.01M338.9 142.7h.01M312.1 132.1h.01M319.6 118.8h.01M329.5 131.7h.01M332.6 120.1h.01M316.7 124.2h.01M332.1 122.4h.01M316.0 139.9h.01M323.1 126.9h.01M326.2 124.0h.01M332.4 126.0h.01M338.6 120.0h.01M316.2 141.2h.01M331.2 133.2h.01M344.6 131.8h.01M332.4 117.5h.01M315.0 134.6h.01M339.2 131.9h.01M314.3 113.5h.01M320.7 120.0h.01M333.7 121.1h.01M348.9 123.8h.01M326.0 133.9h.01M335.5 121.9h.01M340.8 141.0h.01M318.9 126.3h.01M320.5 114.8h.01M338.7 132.7h.01M342.4 130.9h.01M310.5 127.8h.01M324.9 120.0h.01M320.2 133.2h.01M328.8 141.4h.01M337.0 115.0h.01M341.6 136.5h.01M332.3 119.8h.01M350.9 119.1h.01M331.1 115.0h.01M318.6 116.4h.01M343.7 136.0h.01M327.7 118.8h.01M331.4 130.6h.01M315.7 120.1h.01M330.9 132.8h.01M332.8 131.1h.01M318.6 111.0h.01M335.3 121.7h.01M330.7 125.4h.01M337.2 122.7h.01M347.5 128.2h.01M337.7 132.3h.01M343.1 130.8h.01M313.2 123.7h.01M352.0 131.2h.01M338.0 131.2h.01M325.1 123.4h.01M325.0 135.9h.01M335.9 140.2h.01M337.4 140.9h.01M336.9 119.9h.01M350.7 130.3h.01M344.8 129.5h.01M328.5 129.2h.01M319.9 119.8h.01M322.4 124.4h.01M317.4 127.3h.01M335.3 141.9h.01M351.9 127.7h.01M341.5 126.5h.01M336.2 127.8h.01M326.2 128.5h.01M316.0 131.0h.01M328.9 120.6h.01M328.1 131.8h.01M324.7 131.3h.01M338.2 138.7h.01M320.2 127.2h.01M337.5 138.3h.01M334.8 133.2h.01M316.1 124.0h.01M350.0 126.0h.01M355.4 123.0h.01M329.0 117.0h.01M338.9 129.8h.01M353.9 129.1h.01M329.3 118.3h.01M331.1 134.5h.01M340.0 136.5h.01M341.4 127.7h.01M338.6 129.2h.01M317.5 139.8h.01M336.1 120.7h.01M336.2 130.0h.01M342.8 138.0h.01M348.6 121.4h.01M311.8 129.9h.01M335.7 130.4h.01M319.9 124.8h.01M334.1 133.2h.01M355.9 130.0h.01M325.4 111.6h.01M343.7 127.1h.01M330.8 121.1h.01M340.0 115.6h.01M333.2 128.8h.01M335.3 137.1h.01M330.9 128.7h.01M341.3 117.2h.01M328.8 128.5h.01M342.4 122.4h.01M340.8 130.7h.01M315.8 117.7h.01" stroke="#999" stroke-opacity="0.45" stroke-width="0.76" stroke-linecap="round" fill="none"/>
<ellipse cx="305.2" cy="149" rx="2.6" ry="8" fill="#222" filter="url(#bl2)"/>
<ellipse cx="324" cy="158.89999999999998" rx="9" ry="1.4" fill="#222" filter="url(#bl2)"/>
<path d="M316.28,125.79 C317.85,124.89 321.32,124.29 324.46,124.00 C327.60,123.70 332.15,123.49 335.10,124.00 C338.05,124.50 340.77,125.34 342.16,127.02 C343.54,128.70 343.78,132.02 343.39,134.08 C343.00,136.13 341.76,138.46 339.80,139.34 C337.84,140.22 334.19,139.62 331.63,139.34 C329.07,139.06 326.83,138.54 324.46,137.66 C322.09,136.78 318.97,135.46 317.40,134.08 C315.84,132.69 315.24,130.75 315.05,129.37 C314.87,127.99 314.72,126.68 316.28,125.79Z" fill="#bbb" fill-opacity="0.5" filter="url(#bl)"/>
<path d="M317.70,126.40 C319.10,125.60 322.20,125.07 325.00,124.80 C327.80,124.53 331.87,124.35 334.50,124.80 C337.13,125.25 339.57,126.00 340.80,127.50 C342.03,129.00 342.25,131.97 341.90,133.80 C341.55,135.63 340.45,137.72 338.70,138.50 C336.95,139.28 333.68,138.75 331.40,138.50 C329.12,138.25 327.12,137.78 325.00,137.00 C322.88,136.22 320.10,135.03 318.70,133.80 C317.30,132.57 316.77,130.83 316.60,129.60 C316.43,128.37 316.30,127.20 317.70,126.40Z" fill="#e6e6e6" fill-opacity="0.85" stroke="#555" stroke-width="0.5"/>
<path d="M319.82,127.32 C320.97,126.66 323.51,126.22 325.81,126.01 C328.11,125.79 331.44,125.64 333.60,126.01 C335.76,126.38 337.75,126.99 338.77,128.22 C339.78,129.45 339.96,131.88 339.67,133.39 C339.38,134.89 338.48,136.60 337.04,137.24 C335.61,137.88 332.93,137.45 331.06,137.24 C329.19,137.03 327.55,136.65 325.81,136.01 C324.07,135.37 321.79,134.40 320.64,133.39 C319.50,132.37 319.06,130.95 318.92,129.94 C318.79,128.93 318.68,127.97 319.82,127.32Z" fill="#d6d6d6" fill-opacity="0.85" stroke="#777" stroke-width="0.45"/>
<path d="M321.95,128.24 C322.84,127.72 324.83,127.38 326.62,127.21 C328.41,127.04 331.01,126.92 332.70,127.21 C334.39,127.50 335.94,127.98 336.73,128.94 C337.52,129.90 337.66,131.80 337.44,132.97 C337.21,134.15 336.51,135.48 335.39,135.98 C334.27,136.48 332.18,136.14 330.72,135.98 C329.25,135.82 327.97,135.52 326.62,135.02 C325.27,134.52 323.48,133.76 322.59,132.97 C321.69,132.18 321.35,131.07 321.24,130.28 C321.14,129.49 321.05,128.75 321.95,128.24Z" fill="#c8c8c8" fill-opacity="0.85" stroke="#666" stroke-width="0.45"/>
<path d="M324.07,129.15 C324.72,128.79 326.14,128.54 327.43,128.42 C328.72,128.30 330.59,128.21 331.80,128.42 C333.01,128.62 334.13,128.97 334.70,129.66 C335.27,130.35 335.37,131.71 335.20,132.56 C335.04,133.40 334.54,134.36 333.73,134.72 C332.93,135.08 331.42,134.84 330.37,134.72 C329.32,134.60 328.40,134.39 327.43,134.03 C326.46,133.67 325.18,133.13 324.53,132.56 C323.89,131.99 323.64,131.19 323.57,130.63 C323.49,130.06 323.43,129.52 324.07,129.15Z" fill="#bdbdbd" fill-opacity="0.85" stroke="#777" stroke-width="0.4"/>
<path d="M326.20,130.07 C326.59,129.85 327.46,129.70 328.24,129.62 C329.02,129.55 330.16,129.50 330.90,129.62 C331.64,129.75 332.32,129.96 332.66,130.38 C333.01,130.80 333.07,131.63 332.97,132.14 C332.87,132.66 332.57,133.24 332.08,133.46 C331.59,133.68 330.67,133.53 330.03,133.46 C329.39,133.39 328.83,133.26 328.24,133.04 C327.65,132.82 326.87,132.49 326.48,132.14 C326.08,131.80 325.93,131.31 325.89,130.97 C325.84,130.62 325.80,130.30 326.20,130.07Z" fill="#dddddd" fill-opacity="0.9" stroke="#999" stroke-width="0.35"/>
<path d="M307.22,139.59 C308.02,137.37 311.45,135.57 314.46,134.76 C317.47,133.96 322.45,134.17 325.27,134.76 C328.09,135.35 329.95,136.50 331.37,138.32 C332.78,140.15 333.97,143.25 333.78,145.69 C333.59,148.12 331.63,151.22 330.22,152.93 C328.80,154.64 327.49,155.52 325.27,155.92 C323.05,156.32 319.48,156.65 316.88,155.34 C314.27,154.04 311.24,150.73 309.63,148.10 C308.02,145.47 306.41,141.81 307.22,139.59Z" fill="#aaa" fill-opacity="0.5" filter="url(#bl)"/>
<path d="M309.30,140.10 C310.00,138.17 312.98,136.60 315.60,135.90 C318.22,135.20 322.55,135.38 325.00,135.90 C327.45,136.42 329.07,137.42 330.30,139.00 C331.53,140.58 332.57,143.28 332.40,145.40 C332.23,147.52 330.53,150.22 329.30,151.70 C328.07,153.18 326.93,153.95 325.00,154.30 C323.07,154.65 319.97,154.93 317.70,153.80 C315.43,152.67 312.80,149.78 311.40,147.50 C310.00,145.22 308.60,142.03 309.30,140.10Z" fill="#e4e4e4" fill-opacity="0.9" stroke="#555" stroke-width="0.5"/>
<path d="M311.11,140.54 C311.72,138.86 314.31,137.50 316.59,136.89 C318.86,136.28 322.63,136.44 324.77,136.89 C326.90,137.34 328.30,138.21 329.38,139.59 C330.45,140.96 331.35,143.31 331.20,145.15 C331.06,146.99 329.58,149.34 328.51,150.63 C327.43,151.92 326.45,152.59 324.77,152.90 C323.08,153.20 320.39,153.45 318.41,152.46 C316.44,151.48 314.15,148.97 312.93,146.98 C311.72,144.99 310.50,142.22 311.11,140.54Z" fill="#cccccc" fill-opacity="0.9" stroke="#666" stroke-width="0.4"/>
<path d="M312.64,140.92 C313.17,139.45 315.44,138.26 317.42,137.72 C319.41,137.19 322.71,137.33 324.57,137.72 C326.43,138.12 327.66,138.88 328.60,140.08 C329.53,141.28 330.32,143.34 330.19,144.94 C330.07,146.55 328.77,148.60 327.84,149.73 C326.90,150.86 326.04,151.44 324.57,151.71 C323.10,151.97 320.74,152.19 319.02,151.33 C317.30,150.47 315.30,148.28 314.23,146.54 C313.17,144.80 312.10,142.39 312.64,140.92Z" fill="#a0a0a0" fill-opacity="0.95" stroke="#0a0a0a" stroke-width="1.2"/>
<path d="M314.86,141.46 C315.28,140.30 317.07,139.36 318.64,138.94 C320.21,138.52 322.81,138.63 324.28,138.94 C325.75,139.25 326.72,139.85 327.46,140.80 C328.20,141.75 328.82,143.37 328.72,144.64 C328.62,145.91 327.60,147.53 326.86,148.42 C326.12,149.31 325.44,149.77 324.28,149.98 C323.12,150.19 321.26,150.36 319.90,149.68 C318.54,149.00 316.96,147.27 316.12,145.90 C315.28,144.53 314.44,142.62 314.86,141.46Z" fill="#8a8a8a" fill-opacity="1" stroke="#333" stroke-width="0.5"/>
<path d="M316.81,141.94 C317.13,141.05 318.50,140.33 319.70,140.00 C320.91,139.68 322.90,139.77 324.03,140.00 C325.16,140.24 325.90,140.70 326.47,141.43 C327.03,142.16 327.51,143.40 327.43,144.37 C327.36,145.35 326.57,146.59 326.01,147.27 C325.44,147.95 324.92,148.31 324.03,148.47 C323.14,148.63 321.71,148.76 320.67,148.24 C319.63,147.72 318.42,146.39 317.77,145.34 C317.13,144.29 316.48,142.83 316.81,141.94Z" fill="#7a7a7a" fill-opacity="1" stroke="#222" stroke-width="0.5"/>
<path d="M318.75,142.41 C318.98,141.79 319.93,141.29 320.77,141.07 C321.61,140.84 322.99,140.90 323.78,141.07 C324.56,141.23 325.08,141.55 325.47,142.06 C325.87,142.57 326.20,143.43 326.14,144.11 C326.09,144.79 325.55,145.65 325.15,146.12 C324.76,146.60 324.39,146.84 323.78,146.96 C323.16,147.07 322.17,147.16 321.44,146.80 C320.71,146.43 319.87,145.51 319.42,144.78 C318.98,144.05 318.53,143.03 318.75,142.41Z" fill="#9a9a9a" fill-opacity="1" stroke="#444" stroke-width="0.4"/>
<path d="M320.98,142.96 C321.09,142.65 321.57,142.40 321.98,142.28 C322.40,142.17 323.10,142.20 323.49,142.28 C323.88,142.37 324.14,142.53 324.34,142.78 C324.53,143.03 324.70,143.47 324.67,143.80 C324.65,144.14 324.37,144.57 324.18,144.81 C323.98,145.05 323.80,145.17 323.49,145.23 C323.18,145.28 322.68,145.33 322.32,145.15 C321.96,144.97 321.54,144.51 321.31,144.14 C321.09,143.77 320.86,143.27 320.98,142.96Z" fill="#eeeeee" fill-opacity="1" stroke="none"/>
</g>
<line x1="302.4" y1="113.81" x2="304.0" y2="113.81" stroke="#222" stroke-width="0.7" />
<line x1="302.4" y1="111.39" x2="304.0" y2="111.39" stroke="#222" stroke-width="0.7" />
<line x1="302.4" y1="109.67" x2="304.0" y2="109.67" stroke="#222" stroke-width="0.7" />
<line x1="302.4" y1="108.34" x2="304.0" y2="108.34" stroke="#222" stroke-width="0.7" />
<line x1="302.4" y1="107.25" x2="304.0" y2="107.25" stroke="#222" stroke-width="0.7" />
<line x1="302.4" y1="106.33" x2="304.0" y2="106.33" stroke="#222" stroke-width="0.7" />
<line x1="302.4" y1="105.53" x2="304.0" y2="105.53" stroke="#222" stroke-width="0.7" />
<line x1="302.4" y1="104.83" x2="304.0" y2="104.83" stroke="#222" stroke-width="0.7" />
<line x1="302.4" y1="127.56" x2="304.0" y2="127.56" stroke="#222" stroke-width="0.7" />
<line x1="302.4" y1="125.14" x2="304.0" y2="125.14" stroke="#222" stroke-width="0.7" />
<line x1="302.4" y1="123.42" x2="304.0" y2="123.42" stroke="#222" stroke-width="0.7" />
<line x1="302.4" y1="122.09" x2="304.0" y2="122.09" stroke="#222" stroke-width="0.7" />
<line x1="302.4" y1="121.0" x2="304.0" y2="121.0" stroke="#222" stroke-width="0.7" />
<line x1="302.4" y1="120.08" x2="304.0" y2="120.08" stroke="#222" stroke-width="0.7" />
<line x1="302.4" y1="119.28" x2="304.0" y2="119.28" stroke="#222" stroke-width="0.7" />
<line x1="302.4" y1="118.58" x2="304.0" y2="118.58" stroke="#222" stroke-width="0.7" />
<line x1="302.4" y1="141.31" x2="304.0" y2="141.31" stroke="#222" stroke-width="0.7" />
<line x1="302.4" y1="138.89" x2="304.0" y2="138.89" stroke="#222" stroke-width="0.7" />
<line x1="302.4" y1="137.17" x2="304.0" y2="137.17" stroke="#222" stroke-width="0.7" />
<line x1="302.4" y1="135.84" x2="304.0" y2="135.84" stroke="#222" stroke-width="0.7" />
<line x1="302.4" y1="134.75" x2="304.0" y2="134.75" stroke="#222" stroke-width="0.7" />
<line x1="302.4" y1="133.83" x2="304.0" y2="133.83" stroke="#222" stroke-width="0.7" />
<line x1="302.4" y1="133.03" x2="304.0" y2="133.03" stroke="#222" stroke-width="0.7" />
<line x1="302.4" y1="132.33" x2="304.0" y2="132.33" stroke="#222" stroke-width="0.7" />
<line x1="302.4" y1="155.06" x2="304.0" y2="155.06" stroke="#222" stroke-width="0.7" />
<line x1="302.4" y1="152.64" x2="304.0" y2="152.64" stroke="#222" stroke-width="0.7" />
<line x1="302.4" y1="150.92" x2="304.0" y2="150.92" stroke="#222" stroke-width="0.7" />
<line x1="302.4" y1="149.59" x2="304.0" y2="149.59" stroke="#222" stroke-width="0.7" />
<line x1="302.4" y1="148.5" x2="304.0" y2="148.5" stroke="#222" stroke-width="0.7" />
<line x1="302.4" y1="147.58" x2="304.0" y2="147.58" stroke="#222" stroke-width="0.7" />
<line x1="302.4" y1="146.78" x2="304.0" y2="146.78" stroke="#222" stroke-width="0.7" />
<line x1="302.4" y1="146.08" x2="304.0" y2="146.08" stroke="#222" stroke-width="0.7" />
<line x1="308.1" y1="159.2" x2="308.1" y2="160.79999999999998" stroke="#222" stroke-width="0.7" />
<line x1="310.5" y1="159.2" x2="310.5" y2="160.79999999999998" stroke="#222" stroke-width="0.7" />
<line x1="312.2" y1="159.2" x2="312.2" y2="160.79999999999998" stroke="#222" stroke-width="0.7" />
<line x1="313.52" y1="159.2" x2="313.52" y2="160.79999999999998" stroke="#222" stroke-width="0.7" />
<line x1="314.6" y1="159.2" x2="314.6" y2="160.79999999999998" stroke="#222" stroke-width="0.7" />
<line x1="315.51" y1="159.2" x2="315.51" y2="160.79999999999998" stroke="#222" stroke-width="0.7" />
<line x1="316.3" y1="159.2" x2="316.3" y2="160.79999999999998" stroke="#222" stroke-width="0.7" />
<line x1="317.0" y1="159.2" x2="317.0" y2="160.79999999999998" stroke="#222" stroke-width="0.7" />
<line x1="321.73" y1="159.2" x2="321.73" y2="160.79999999999998" stroke="#222" stroke-width="0.7" />
<line x1="324.13" y1="159.2" x2="324.13" y2="160.79999999999998" stroke="#222" stroke-width="0.7" />
<line x1="325.83" y1="159.2" x2="325.83" y2="160.79999999999998" stroke="#222" stroke-width="0.7" />
<line x1="327.15" y1="159.2" x2="327.15" y2="160.79999999999998" stroke="#222" stroke-width="0.7" />
<line x1="328.23" y1="159.2" x2="328.23" y2="160.79999999999998" stroke="#222" stroke-width="0.7" />
<line x1="329.14" y1="159.2" x2="329.14" y2="160.79999999999998" stroke="#222" stroke-width="0.7" />
<line x1="329.93" y1="159.2" x2="329.93" y2="160.79999999999998" stroke="#222" stroke-width="0.7" />
<line x1="330.63" y1="159.2" x2="330.63" y2="160.79999999999998" stroke="#222" stroke-width="0.7" />
<line x1="335.35" y1="159.2" x2="335.35" y2="160.79999999999998" stroke="#222" stroke-width="0.7" />
<line x1="337.75" y1="159.2" x2="337.75" y2="160.79999999999998" stroke="#222" stroke-width="0.7" />
<line x1="339.45" y1="159.2" x2="339.45" y2="160.79999999999998" stroke="#222" stroke-width="0.7" />
<line x1="340.77" y1="159.2" x2="340.77" y2="160.79999999999998" stroke="#222" stroke-width="0.7" />
<line x1="341.85" y1="159.2" x2="341.85" y2="160.79999999999998" stroke="#222" stroke-width="0.7" />
<line x1="342.76" y1="159.2" x2="342.76" y2="160.79999999999998" stroke="#222" stroke-width="0.7" />
<line x1="343.55" y1="159.2" x2="343.55" y2="160.79999999999998" stroke="#222" stroke-width="0.7" />
<line x1="344.25" y1="159.2" x2="344.25" y2="160.79999999999998" stroke="#222" stroke-width="0.7" />
<line x1="348.98" y1="159.2" x2="348.98" y2="160.79999999999998" stroke="#222" stroke-width="0.7" />
<line x1="351.38" y1="159.2" x2="351.38" y2="160.79999999999998" stroke="#222" stroke-width="0.7" />
<line x1="353.08" y1="159.2" x2="353.08" y2="160.79999999999998" stroke="#222" stroke-width="0.7" />
<line x1="354.4" y1="159.2" x2="354.4" y2="160.79999999999998" stroke="#222" stroke-width="0.7" />
<line x1="355.48" y1="159.2" x2="355.48" y2="160.79999999999998" stroke="#222" stroke-width="0.7" />
<line x1="356.39" y1="159.2" x2="356.39" y2="160.79999999999998" stroke="#222" stroke-width="0.7" />
<line x1="357.18" y1="159.2" x2="357.18" y2="160.79999999999998" stroke="#222" stroke-width="0.7" />
<line x1="357.88" y1="159.2" x2="357.88" y2="160.79999999999998" stroke="#222" stroke-width="0.7" />
<line x1="301.4" y1="104.2" x2="304.0" y2="104.2" stroke="#111" stroke-width="0.9" />
<line x1="317.625" y1="159.2" x2="317.625" y2="161.79999999999998" stroke="#111" stroke-width="0.9" />
<line x1="301.4" y1="117.95" x2="304.0" y2="117.95" stroke="#111" stroke-width="0.9" />
<line x1="331.25" y1="159.2" x2="331.25" y2="161.79999999999998" stroke="#111" stroke-width="0.9" />
<line x1="301.4" y1="131.7" x2="304.0" y2="131.7" stroke="#111" stroke-width="0.9" />
<line x1="344.875" y1="159.2" x2="344.875" y2="161.79999999999998" stroke="#111" stroke-width="0.9" />
<line x1="301.4" y1="145.45" x2="304.0" y2="145.45" stroke="#111" stroke-width="0.9" />
<line x1="358.5" y1="159.2" x2="358.5" y2="161.79999999999998" stroke="#111" stroke-width="0.9" />
<rect x="304.0" y="104.2" width="54.5" height="54.999999999999986" fill="none" stroke="#111" stroke-width="1.6"/>
<text x="289.78" y="106.09" font-size="6.4" fill="#222" stroke="#222" stroke-width="0.14" textLength="6.60" lengthAdjust="spacingAndGlyphs">10</text>
<text x="297.18" y="102.89" font-size="4.35" fill="#222" stroke="#222" stroke-width="0.1">3</text>
<text x="289.78" y="119.84" font-size="6.4" fill="#222" stroke="#222" stroke-width="0.14" textLength="6.60" lengthAdjust="spacingAndGlyphs">10</text>
<text x="297.18" y="116.64" font-size="4.35" fill="#222" stroke="#222" stroke-width="0.1">2</text>
<text x="289.78" y="133.59" font-size="6.4" fill="#222" stroke="#222" stroke-width="0.14" textLength="6.60" lengthAdjust="spacingAndGlyphs">10</text>
<text x="297.18" y="130.39" font-size="4.35" fill="#222" stroke="#222" stroke-width="0.1">1</text>
<text x="289.78" y="147.34" font-size="6.4" fill="#222" stroke="#222" stroke-width="0.14" textLength="6.60" lengthAdjust="spacingAndGlyphs">10</text>
<text x="297.18" y="144.14" font-size="4.35" fill="#222" stroke="#222" stroke-width="0.1">0</text>
<text x="313.32" y="171.29" font-size="6.4" fill="#222" stroke="#222" stroke-width="0.14" textLength="6.40" lengthAdjust="spacingAndGlyphs">10</text>
<text x="320.52" y="168.09" font-size="4.35" fill="#222" stroke="#222" stroke-width="0.1">0</text>
<text x="326.94" y="171.29" font-size="6.4" fill="#222" stroke="#222" stroke-width="0.14" textLength="6.40" lengthAdjust="spacingAndGlyphs">10</text>
<text x="334.14" y="168.09" font-size="4.35" fill="#222" stroke="#222" stroke-width="0.1">1</text>
<text x="340.57" y="171.29" font-size="6.4" fill="#222" stroke="#222" stroke-width="0.14" textLength="6.40" lengthAdjust="spacingAndGlyphs">10</text>
<text x="347.77" y="168.09" font-size="4.35" fill="#222" stroke="#222" stroke-width="0.1">2</text>
<text x="354.19" y="171.29" font-size="6.4" fill="#222" stroke="#222" stroke-width="0.14" textLength="6.40" lengthAdjust="spacingAndGlyphs">10</text>
<text x="361.39" y="168.09" font-size="4.35" fill="#222" stroke="#222" stroke-width="0.1">3</text>
<polygon points="315.5,114.3 346.6,114.3 346.6,138.8 315.5,133.4" fill="none" stroke="#5b72a8" stroke-width="0.8"/>
<text x="331.8" y="112.7" font-size="5.4" text-anchor="middle" fill="#5b72a8" stroke="#5b72a8" stroke-width="0.04" >21.3</text>
<text x="362" y="134.5" font-size="9" text-anchor="start" fill="#262626" stroke="#262626" stroke-width="0.13" textLength="12" lengthAdjust="spacingAndGlyphs" >6m</text>
<text x="331.7" y="183" font-size="8.4" text-anchor="middle" fill="#262626" stroke="#262626" stroke-width="0.13" textLength="17.4" lengthAdjust="spacingAndGlyphs" >CD25</text>
<line x1="466" y1="85.5" x2="501" y2="96" stroke="#b0103a" stroke-width="0.85" />
<line x1="466" y1="102.5" x2="501" y2="86.5" stroke="#b0103a" stroke-width="0.85" />
<line x1="466" y1="105" x2="501" y2="76.3" stroke="#b0103a" stroke-width="0.85" />
<line x1="466" y1="108.8" x2="501" y2="64.7" stroke="#b0103a" stroke-width="0.85" />
<line x1="466" y1="111" x2="501" y2="70.8" stroke="#b0103a" stroke-width="0.85" />
<line x1="466" y1="111" x2="501" y2="99" stroke="#b0103a" stroke-width="0.85" />
<line x1="466" y1="113" x2="501" y2="92.2" stroke="#b0103a" stroke-width="0.85" />
<line x1="466" y1="115.5" x2="501" y2="101" stroke="#b0103a" stroke-width="0.85" />
<line x1="466" y1="116.5" x2="501" y2="97" stroke="#b0103a" stroke-width="0.85" />
<line x1="466" y1="117.5" x2="501" y2="105" stroke="#b0103a" stroke-width="0.85" />
<line x1="466" y1="119" x2="501" y2="103" stroke="#b0103a" stroke-width="0.85" />
<line x1="466" y1="120.5" x2="501" y2="108" stroke="#b0103a" stroke-width="0.85" />
<line x1="466" y1="121.5" x2="501" y2="95.5" stroke="#b0103a" stroke-width="0.85" />
<line x1="466" y1="123" x2="501" y2="109.5" stroke="#b0103a" stroke-width="0.85" />
<line x1="466" y1="124.5" x2="501" y2="112.5" stroke="#b0103a" stroke-width="0.85" />
<line x1="466" y1="126" x2="501" y2="113.5" stroke="#b0103a" stroke-width="0.85" />
<line x1="466" y1="128.5" x2="501" y2="111" stroke="#b0103a" stroke-width="0.85" />
<line x1="466" y1="125" x2="501" y2="124" stroke="#b0103a" stroke-width="0.85" />
<line x1="466" y1="121" x2="501" y2="118.5" stroke="#b0103a" stroke-width="0.85" />
<line x1="466" y1="150.5" x2="501" y2="132" stroke="#b0103a" stroke-width="0.85" />
<circle cx="466" cy="85.5" r="1.1" fill="#b0103a"/>
<circle cx="501" cy="96" r="1.1" fill="#b0103a"/>
<circle cx="466" cy="102.5" r="1.1" fill="#b0103a"/>
<circle cx="501" cy="86.5" r="1.1" fill="#b0103a"/>
<circle cx="466" cy="105" r="1.1" fill="#b0103a"/>
<circle cx="501" cy="76.3" r="1.1" fill="#b0103a"/>
<circle cx="466" cy="108.8" r="1.1" fill="#b0103a"/>
<circle cx="501" cy="64.7" r="1.1" fill="#b0103a"/>
<circle cx="466" cy="111" r="1.1" fill="#b0103a"/>
<circle cx="501" cy="70.8" r="1.1" fill="#b0103a"/>
<circle cx="466" cy="111" r="1.1" fill="#b0103a"/>
<circle cx="501" cy="99" r="1.1" fill="#b0103a"/>
<circle cx="466" cy="113" r="1.1" fill="#b0103a"/>
<circle cx="501" cy="92.2" r="1.1" fill="#b0103a"/>
<circle cx="466" cy="115.5" r="1.1" fill="#b0103a"/>
<circle cx="501" cy="101" r="1.1" fill="#b0103a"/>
<circle cx="466" cy="116.5" r="1.1" fill="#b0103a"/>
<circle cx="501" cy="97" r="1.1" fill="#b0103a"/>
<circle cx="466" cy="117.5" r="1.1" fill="#b0103a"/>
<circle cx="501" cy="105" r="1.1" fill="#b0103a"/>
<circle cx="466" cy="119" r="1.1" fill="#b0103a"/>
<circle cx="501" cy="103" r="1.1" fill="#b0103a"/>
<circle cx="466" cy="120.5" r="1.1" fill="#b0103a"/>
<circle cx="501" cy="108" r="1.1" fill="#b0103a"/>
<circle cx="466" cy="121.5" r="1.1" fill="#b0103a"/>
<circle cx="501" cy="95.5" r="1.1" fill="#b0103a"/>
<circle cx="466" cy="123" r="1.1" fill="#b0103a"/>
<circle cx="501" cy="109.5" r="1.1" fill="#b0103a"/>
<circle cx="466" cy="124.5" r="1.1" fill="#b0103a"/>
<circle cx="501" cy="112.5" r="1.1" fill="#b0103a"/>
<circle cx="466" cy="126" r="1.1" fill="#b0103a"/>
<circle cx="501" cy="113.5" r="1.1" fill="#b0103a"/>
<circle cx="466" cy="128.5" r="1.1" fill="#b0103a"/>
<circle cx="501" cy="111" r="1.1" fill="#b0103a"/>
<circle cx="466" cy="125" r="1.1" fill="#b0103a"/>
<circle cx="501" cy="124" r="1.1" fill="#b0103a"/>
<circle cx="466" cy="121" r="1.1" fill="#b0103a"/>
<circle cx="501" cy="118.5" r="1.1" fill="#b0103a"/>
<circle cx="466" cy="150.5" r="1.1" fill="#b0103a"/>
<circle cx="501" cy="132" r="1.1" fill="#b0103a"/>
<path d="M454.5,42.4 H512.5 V158.6 H454.5 Z" fill="none" stroke="#111" stroke-width="1.2"/>
<line x1="451.3" y1="42.4" x2="454.5" y2="42.4" stroke="#111" stroke-width="1.0" />
<line x1="451.3" y1="100.3" x2="454.5" y2="100.3" stroke="#111" stroke-width="1.0" />
<line x1="451.3" y1="158.3" x2="454.5" y2="158.3" stroke="#111" stroke-width="1.0" />
<text x="438.03" y="44.43" font-size="6.8" fill="#222" stroke="#222" stroke-width="0.14" textLength="6.50" lengthAdjust="spacingAndGlyphs">10</text>
<text x="445.23" y="41.03" font-size="4.62" fill="#222" stroke="#222" stroke-width="0.1" textLength="2.57" lengthAdjust="spacingAndGlyphs">2</text>
<text x="438.03" y="102.33" font-size="6.8" fill="#222" stroke="#222" stroke-width="0.14" textLength="6.50" lengthAdjust="spacingAndGlyphs">10</text>
<text x="445.23" y="98.93" font-size="4.62" fill="#222" stroke="#222" stroke-width="0.1" textLength="2.57" lengthAdjust="spacingAndGlyphs">1</text>
<text x="438.03" y="160.23" font-size="6.8" fill="#222" stroke="#222" stroke-width="0.14" textLength="6.50" lengthAdjust="spacingAndGlyphs">10</text>
<text x="445.23" y="156.83" font-size="4.62" fill="#222" stroke="#222" stroke-width="0.1" textLength="2.57" lengthAdjust="spacingAndGlyphs">0</text>
<line x1="466" y1="158.6" x2="466" y2="161.4" stroke="#111" stroke-width="1.0" />
<line x1="501" y1="158.6" x2="501" y2="161.4" stroke="#111" stroke-width="1.0" />
<text x="466" y="170.6" font-size="6.5" text-anchor="middle" fill="#262626" stroke="#262626" stroke-width="0.13" textLength="24.5" lengthAdjust="spacingAndGlyphs" >Baseline</text>
<text x="501" y="170.6" font-size="6.5" text-anchor="middle" fill="#262626" stroke="#262626" stroke-width="0.13" textLength="8.7" lengthAdjust="spacingAndGlyphs" >6m</text>
<text x="433.2" y="100.25" font-size="7.8" text-anchor="middle" fill="#262626" stroke="#262626" stroke-width="0.13" textLength="87.5" lengthAdjust="spacingAndGlyphs" transform="rotate(-90 433.2 100.25)" >%Treg (CD25++CD127dim)</text>
<text x="461" y="50.1" font-size="5.5" text-anchor="start" fill="#262626" stroke="#262626" stroke-width="0.06" textLength="39.7" lengthAdjust="spacingAndGlyphs" >Wilcoxon paired</text>
<text x="461" y="55.9" font-size="5.5" text-anchor="start" fill="#262626" stroke="#262626" stroke-width="0.06" textLength="20" lengthAdjust="spacingAndGlyphs" >p=.0001</text>
<line x1="38.300000000000004" y1="258.88" x2="39.6" y2="258.88" stroke="#222" stroke-width="0.6" />
<line x1="38.300000000000004" y1="252.01" x2="39.6" y2="252.01" stroke="#222" stroke-width="0.6" />
<line x1="38.300000000000004" y1="247.13" x2="39.6" y2="247.13" stroke="#222" stroke-width="0.6" />
<line x1="38.300000000000004" y1="243.35" x2="39.6" y2="243.35" stroke="#222" stroke-width="0.6" />
<line x1="38.300000000000004" y1="240.26" x2="39.6" y2="240.26" stroke="#222" stroke-width="0.6" />
<line x1="38.300000000000004" y1="237.65" x2="39.6" y2="237.65" stroke="#222" stroke-width="0.6" />
<line x1="38.300000000000004" y1="235.38" x2="39.6" y2="235.38" stroke="#222" stroke-width="0.6" />
<line x1="38.300000000000004" y1="233.39" x2="39.6" y2="233.39" stroke="#222" stroke-width="0.6" />
<line x1="38.300000000000004" y1="297.91" x2="39.6" y2="297.91" stroke="#222" stroke-width="0.6" />
<line x1="38.300000000000004" y1="291.04" x2="39.6" y2="291.04" stroke="#222" stroke-width="0.6" />
<line x1="38.300000000000004" y1="286.16" x2="39.6" y2="286.16" stroke="#222" stroke-width="0.6" />
<line x1="38.300000000000004" y1="282.38" x2="39.6" y2="282.38" stroke="#222" stroke-width="0.6" />
<line x1="38.300000000000004" y1="279.29" x2="39.6" y2="279.29" stroke="#222" stroke-width="0.6" />
<line x1="38.300000000000004" y1="276.68" x2="39.6" y2="276.68" stroke="#222" stroke-width="0.6" />
<line x1="38.300000000000004" y1="274.41" x2="39.6" y2="274.41" stroke="#222" stroke-width="0.6" />
<line x1="38.300000000000004" y1="272.42" x2="39.6" y2="272.42" stroke="#222" stroke-width="0.6" />
<line x1="38.300000000000004" y1="336.94" x2="39.6" y2="336.94" stroke="#222" stroke-width="0.6" />
<line x1="38.300000000000004" y1="330.07" x2="39.6" y2="330.07" stroke="#222" stroke-width="0.6" />
<line x1="38.300000000000004" y1="325.19" x2="39.6" y2="325.19" stroke="#222" stroke-width="0.6" />
<line x1="38.300000000000004" y1="321.41" x2="39.6" y2="321.41" stroke="#222" stroke-width="0.6" />
<line x1="38.300000000000004" y1="318.32" x2="39.6" y2="318.32" stroke="#222" stroke-width="0.6" />
<line x1="38.300000000000004" y1="315.71" x2="39.6" y2="315.71" stroke="#222" stroke-width="0.6" />
<line x1="38.300000000000004" y1="313.44" x2="39.6" y2="313.44" stroke="#222" stroke-width="0.6" />
<line x1="38.300000000000004" y1="311.45" x2="39.6" y2="311.45" stroke="#222" stroke-width="0.6" />
<rect x="39.6" y="231.6" width="58.300000000000004" height="117.1" rx="1.2" fill="none" stroke="#111" stroke-width="1.3"/>
<line x1="36.6" y1="231.6" x2="39.6" y2="231.6" stroke="#111" stroke-width="1.0" />
<text x="24.40" y="233.66" font-size="6.6" fill="#222" stroke="#222" stroke-width="0.14" textLength="6.20" lengthAdjust="spacingAndGlyphs">10</text>
<text x="31.30" y="230.36" font-size="4.49" fill="#222" stroke="#222" stroke-width="0.1" textLength="2.50" lengthAdjust="spacingAndGlyphs">1</text>
<line x1="36.6" y1="270.63" x2="39.6" y2="270.63" stroke="#111" stroke-width="1.0" />
<text x="24.40" y="272.69" font-size="6.6" fill="#222" stroke="#222" stroke-width="0.14" textLength="6.20" lengthAdjust="spacingAndGlyphs">10</text>
<text x="31.30" y="269.39" font-size="4.49" fill="#222" stroke="#222" stroke-width="0.1" textLength="2.50" lengthAdjust="spacingAndGlyphs">0</text>
<line x1="36.6" y1="309.65999999999997" x2="39.6" y2="309.65999999999997" stroke="#111" stroke-width="1.0" />
<text x="22.39" y="311.72" font-size="6.6" fill="#222" stroke="#222" stroke-width="0.14" textLength="6.20" lengthAdjust="spacingAndGlyphs">10</text>
<text x="29.29" y="308.42" font-size="4.49" fill="#222" stroke="#222" stroke-width="0.1" textLength="4.51" lengthAdjust="spacingAndGlyphs">&#8722;1</text>
<line x1="36.6" y1="348.69" x2="39.6" y2="348.69" stroke="#111" stroke-width="1.0" />
<text x="22.39" y="350.75" font-size="6.6" fill="#222" stroke="#222" stroke-width="0.14" textLength="6.20" lengthAdjust="spacingAndGlyphs">10</text>
<text x="29.29" y="347.45" font-size="4.49" fill="#222" stroke="#222" stroke-width="0.1" textLength="4.51" lengthAdjust="spacingAndGlyphs">&#8722;2</text>
<text x="15.8" y="290" font-size="8" text-anchor="middle" fill="#262626" stroke="#262626" stroke-width="0.13" textLength="32" lengthAdjust="spacingAndGlyphs" transform="rotate(-90 15.8 290)" >IL-2 pg/ml</text>
<circle cx="48" cy="286.5" r="0.9" fill="#1c2340"/>
<circle cx="48" cy="294.5" r="0.9" fill="#1c2340"/>
<circle cx="47" cy="298.9" r="0.9" fill="#1c2340"/>
<circle cx="49.5" cy="300.1" r="0.9" fill="#1c2340"/>
<circle cx="45" cy="302" r="0.9" fill="#1c2340"/>
<circle cx="48" cy="302" r="0.9" fill="#1c2340"/>
<circle cx="51.5" cy="302" r="0.9" fill="#1c2340"/>
<circle cx="47" cy="303.9" r="0.9" fill="#1c2340"/>
<circle cx="47" cy="308.25" r="0.9" fill="#1c2340"/>
<circle cx="49.5" cy="309.75" r="0.9" fill="#1c2340"/>
<circle cx="47" cy="325.6" r="0.9" fill="#1c2340"/>
<circle cx="49" cy="325.6" r="0.9" fill="#1c2340"/>
<circle cx="47" cy="330.2" r="0.9" fill="#1c2340"/>
<circle cx="49" cy="330.2" r="0.9" fill="#1c2340"/>
<circle cx="48.4" cy="348.4" r="0.9" fill="#1c2340"/>
<circle cx="61.5" cy="272.75" r="0.9" fill="#1c2340"/>
<circle cx="61.5" cy="276" r="0.9" fill="#1c2340"/>
<circle cx="61.5" cy="279.75" r="0.9" fill="#1c2340"/>
<circle cx="62.5" cy="285.6" r="0.9" fill="#1c2340"/>
<circle cx="60.5" cy="287.25" r="0.9" fill="#1c2340"/>
<circle cx="63.5" cy="287.25" r="0.9" fill="#1c2340"/>
<circle cx="59" cy="288.9" r="0.9" fill="#1c2340"/>
<circle cx="61" cy="288" r="0.9" fill="#1c2340"/>
<circle cx="65" cy="288.9" r="0.9" fill="#1c2340"/>
<circle cx="59" cy="294.5" r="0.9" fill="#1c2340"/>
<circle cx="61.5" cy="295.1" r="0.9" fill="#1c2340"/>
<circle cx="64" cy="295.75" r="0.9" fill="#1c2340"/>
<circle cx="59.5" cy="297.6" r="0.9" fill="#1c2340"/>
<circle cx="61.5" cy="298.9" r="0.9" fill="#1c2340"/>
<circle cx="64" cy="298.9" r="0.9" fill="#1c2340"/>
<circle cx="58.5" cy="301" r="0.9" fill="#1c2340"/>
<circle cx="61" cy="302.6" r="0.9" fill="#1c2340"/>
<circle cx="58.5" cy="305.1" r="0.9" fill="#1c2340"/>
<circle cx="60.5" cy="306.75" r="0.9" fill="#1c2340"/>
<circle cx="62.5" cy="306.75" r="0.9" fill="#1c2340"/>
<circle cx="64" cy="306.75" r="0.9" fill="#1c2340"/>
<circle cx="59.5" cy="308.25" r="0.9" fill="#1c2340"/>
<circle cx="61" cy="310.1" r="0.9" fill="#1c2340"/>
<circle cx="61" cy="313.5" r="0.9" fill="#1c2340"/>
<circle cx="62.5" cy="315.75" r="0.9" fill="#1c2340"/>
<circle cx="61.5" cy="318.9" r="0.9" fill="#1c2340"/>
<circle cx="61.5" cy="325.6" r="0.9" fill="#1c2340"/>
<circle cx="61.5" cy="330.2" r="0.9" fill="#1c2340"/>
<circle cx="61.5" cy="336.9" r="0.9" fill="#1c2340"/>
<circle cx="61.5" cy="348.4" r="0.9" fill="#1c2340"/>
<circle cx="75" cy="269" r="0.9" fill="#1c2340"/>
<circle cx="75" cy="271.9" r="0.9" fill="#1c2340"/>
<circle cx="73.5" cy="275.25" r="0.9" fill="#1c2340"/>
<circle cx="76.5" cy="275.9" r="0.9" fill="#1c2340"/>
<circle cx="75" cy="284" r="0.9" fill="#1c2340"/>
<circle cx="72" cy="286" r="0.9" fill="#1c2340"/>
<circle cx="78" cy="286.5" r="0.9" fill="#1c2340"/>
<circle cx="75" cy="284.25" r="0.9" fill="#1c2340"/>
<circle cx="72" cy="286.4" r="0.9" fill="#1c2340"/>
<circle cx="75" cy="290.1" r="0.9" fill="#1c2340"/>
<circle cx="75" cy="296" r="0.9" fill="#1c2340"/>
<circle cx="73" cy="297.6" r="0.9" fill="#1c2340"/>
<circle cx="78" cy="298" r="0.9" fill="#1c2340"/>
<circle cx="72" cy="305.5" r="0.9" fill="#1c2340"/>
<circle cx="75" cy="305.5" r="0.9" fill="#1c2340"/>
<circle cx="78.5" cy="304.5" r="0.9" fill="#1c2340"/>
<circle cx="75" cy="308.6" r="0.9" fill="#1c2340"/>
<circle cx="73" cy="312" r="0.9" fill="#1c2340"/>
<circle cx="77" cy="312" r="0.9" fill="#1c2340"/>
<circle cx="75" cy="316" r="0.9" fill="#1c2340"/>
<circle cx="72" cy="321.9" r="0.9" fill="#1c2340"/>
<circle cx="75" cy="321.9" r="0.9" fill="#1c2340"/>
<circle cx="78" cy="321.9" r="0.9" fill="#1c2340"/>
<circle cx="88.5" cy="248.4" r="0.9" fill="#1c2340"/>
<circle cx="87.5" cy="257.25" r="0.9" fill="#1c2340"/>
<circle cx="89.5" cy="257.25" r="0.9" fill="#1c2340"/>
<circle cx="88.5" cy="261.25" r="0.9" fill="#1c2340"/>
<circle cx="87" cy="265.6" r="0.9" fill="#1c2340"/>
<circle cx="89" cy="266.25" r="0.9" fill="#1c2340"/>
<circle cx="91" cy="265.6" r="0.9" fill="#1c2340"/>
<circle cx="87.5" cy="268.75" r="0.9" fill="#1c2340"/>
<circle cx="89.5" cy="270" r="0.9" fill="#1c2340"/>
<circle cx="88.5" cy="274.75" r="0.9" fill="#1c2340"/>
<circle cx="88" cy="277.5" r="0.9" fill="#1c2340"/>
<circle cx="89.5" cy="278.75" r="0.9" fill="#1c2340"/>
<circle cx="88" cy="287.25" r="0.9" fill="#1c2340"/>
<circle cx="89.5" cy="287.25" r="0.9" fill="#1c2340"/>
<circle cx="87" cy="290.5" r="0.9" fill="#1c2340"/>
<circle cx="89" cy="290.5" r="0.9" fill="#1c2340"/>
<circle cx="91" cy="290.5" r="0.9" fill="#1c2340"/>
<circle cx="88" cy="292.6" r="0.9" fill="#1c2340"/>
<circle cx="90" cy="292.6" r="0.9" fill="#1c2340"/>
<circle cx="89" cy="294.5" r="0.9" fill="#1c2340"/>
<circle cx="88.5" cy="310.1" r="0.9" fill="#1c2340"/>
<circle cx="88.5" cy="316" r="0.9" fill="#1c2340"/>
<circle cx="88.5" cy="321.9" r="0.9" fill="#1c2340"/>
<line x1="42.8" y1="304.5" x2="53.8" y2="304.5" stroke="#c8143c" stroke-width="1.3" />
<line x1="56.0" y1="300.1" x2="67.2" y2="300.1" stroke="#c8143c" stroke-width="1.3" />
<line x1="69.4" y1="299.25" x2="80.6" y2="299.25" stroke="#c8143c" stroke-width="1.3" />
<line x1="82.95" y1="278.5" x2="93.95" y2="278.5" stroke="#c8143c" stroke-width="1.3" />
<line x1="48.4" y1="348.7" x2="48.4" y2="351.5" stroke="#111" stroke-width="1.0" />
<line x1="61.5" y1="348.7" x2="61.5" y2="351.5" stroke="#111" stroke-width="1.0" />
<line x1="75.1" y1="348.7" x2="75.1" y2="351.5" stroke="#111" stroke-width="1.0" />
<line x1="88.5" y1="348.7" x2="88.5" y2="351.5" stroke="#111" stroke-width="1.0" />
<text x="82.0" y="240.8" font-size="5.2" text-anchor="middle" fill="#262626" stroke="#262626" stroke-width="0.04" textLength="14" lengthAdjust="spacingAndGlyphs" >0.005</text>
<line x1="75" y1="242.7" x2="89.1" y2="242.7" stroke="#333" stroke-width="0.8" />
<text x="50.7" y="356" font-size="6.9" fill="#262626" stroke="#262626" stroke-width="0.12" text-anchor="end" textLength="9.5" lengthAdjust="spacingAndGlyphs" transform="rotate(-90 50.7 356)">ND</text>
<text x="64.0" y="356" font-size="6.9" fill="#262626" stroke="#262626" stroke-width="0.12" text-anchor="end" textLength="35.4" lengthAdjust="spacingAndGlyphs" transform="rotate(-90 64.0 356)">NonCGVHD</text>
<text x="77.5" y="356" font-size="6.9" fill="#262626" stroke="#262626" stroke-width="0.12" text-anchor="end" textLength="34.5" lengthAdjust="spacingAndGlyphs" transform="rotate(-90 77.5 356)">CGVHD Pre</text>
<text x="90.8" y="356" font-size="6.9" fill="#262626" stroke="#262626" stroke-width="0.12" text-anchor="end" textLength="33.7" lengthAdjust="spacingAndGlyphs" transform="rotate(-90 90.8 356)">CGVHD 6m</text>
<line x1="156.3" y1="272" x2="191.2" y2="266" stroke="#b0103a" stroke-width="0.85" />
<line x1="156.3" y1="275.5" x2="191.2" y2="278.5" stroke="#b0103a" stroke-width="0.85" />
<line x1="156.3" y1="284" x2="191.2" y2="257.5" stroke="#b0103a" stroke-width="0.85" />
<line x1="156.3" y1="284.5" x2="191.2" y2="268.5" stroke="#b0103a" stroke-width="0.85" />
<line x1="156.3" y1="286.2" x2="191.2" y2="310.4" stroke="#b0103a" stroke-width="0.85" />
<line x1="156.3" y1="290.1" x2="191.2" y2="261.5" stroke="#b0103a" stroke-width="0.85" />
<line x1="156.3" y1="295.8" x2="191.2" y2="275" stroke="#b0103a" stroke-width="0.85" />
<line x1="156.3" y1="296.9" x2="191.2" y2="287.3" stroke="#b0103a" stroke-width="0.85" />
<line x1="156.3" y1="297.5" x2="191.2" y2="248.5" stroke="#b0103a" stroke-width="0.85" />
<line x1="156.3" y1="299.2" x2="191.2" y2="267" stroke="#b0103a" stroke-width="0.85" />
<line x1="156.3" y1="304.2" x2="191.2" y2="291.3" stroke="#b0103a" stroke-width="0.85" />
<line x1="156.3" y1="305.4" x2="191.2" y2="277" stroke="#b0103a" stroke-width="0.85" />
<line x1="156.3" y1="307.6" x2="191.2" y2="293" stroke="#b0103a" stroke-width="0.85" />
<line x1="156.3" y1="312.1" x2="191.2" y2="316.3" stroke="#b0103a" stroke-width="0.85" />
<line x1="156.3" y1="316.1" x2="191.2" y2="294.7" stroke="#b0103a" stroke-width="0.85" />
<line x1="156.3" y1="322.3" x2="191.2" y2="272.5" stroke="#b0103a" stroke-width="0.85" />
<circle cx="156.3" cy="272" r="1.1" fill="#b0103a"/>
<circle cx="191.2" cy="266" r="1.1" fill="#b0103a"/>
<circle cx="156.3" cy="275.5" r="1.1" fill="#b0103a"/>
<circle cx="191.2" cy="278.5" r="1.1" fill="#b0103a"/>
<circle cx="156.3" cy="284" r="1.1" fill="#b0103a"/>
<circle cx="191.2" cy="257.5" r="1.1" fill="#b0103a"/>
<circle cx="156.3" cy="284.5" r="1.1" fill="#b0103a"/>
<circle cx="191.2" cy="268.5" r="1.1" fill="#b0103a"/>
<circle cx="156.3" cy="286.2" r="1.1" fill="#b0103a"/>
<circle cx="191.2" cy="310.4" r="1.1" fill="#b0103a"/>
<circle cx="156.3" cy="290.1" r="1.1" fill="#b0103a"/>
<circle cx="191.2" cy="261.5" r="1.1" fill="#b0103a"/>
<circle cx="156.3" cy="295.8" r="1.1" fill="#b0103a"/>
<circle cx="191.2" cy="275" r="1.1" fill="#b0103a"/>
<circle cx="156.3" cy="296.9" r="1.1" fill="#b0103a"/>
<circle cx="191.2" cy="287.3" r="1.1" fill="#b0103a"/>
<circle cx="156.3" cy="297.5" r="1.1" fill="#b0103a"/>
<circle cx="191.2" cy="248.5" r="1.1" fill="#b0103a"/>
<circle cx="156.3" cy="299.2" r="1.1" fill="#b0103a"/>
<circle cx="191.2" cy="267" r="1.1" fill="#b0103a"/>
<circle cx="156.3" cy="304.2" r="1.1" fill="#b0103a"/>
<circle cx="191.2" cy="291.3" r="1.1" fill="#b0103a"/>
<circle cx="156.3" cy="305.4" r="1.1" fill="#b0103a"/>
<circle cx="191.2" cy="277" r="1.1" fill="#b0103a"/>
<circle cx="156.3" cy="307.6" r="1.1" fill="#b0103a"/>
<circle cx="191.2" cy="293" r="1.1" fill="#b0103a"/>
<circle cx="156.3" cy="312.1" r="1.1" fill="#b0103a"/>
<circle cx="191.2" cy="316.3" r="1.1" fill="#b0103a"/>
<circle cx="156.3" cy="316.1" r="1.1" fill="#b0103a"/>
<circle cx="191.2" cy="294.7" r="1.1" fill="#b0103a"/>
<circle cx="156.3" cy="322.3" r="1.1" fill="#b0103a"/>
<circle cx="191.2" cy="272.5" r="1.1" fill="#b0103a"/>
<line x1="142.89999999999998" y1="259.9" x2="144.2" y2="259.9" stroke="#222" stroke-width="0.6" />
<line x1="142.89999999999998" y1="253.07" x2="144.2" y2="253.07" stroke="#222" stroke-width="0.6" />
<line x1="142.89999999999998" y1="248.23" x2="144.2" y2="248.23" stroke="#222" stroke-width="0.6" />
<line x1="142.89999999999998" y1="244.47" x2="144.2" y2="244.47" stroke="#222" stroke-width="0.6" />
<line x1="142.89999999999998" y1="241.4" x2="144.2" y2="241.4" stroke="#222" stroke-width="0.6" />
<line x1="142.89999999999998" y1="238.81" x2="144.2" y2="238.81" stroke="#222" stroke-width="0.6" />
<line x1="142.89999999999998" y1="236.56" x2="144.2" y2="236.56" stroke="#222" stroke-width="0.6" />
<line x1="142.89999999999998" y1="234.57" x2="144.2" y2="234.57" stroke="#222" stroke-width="0.6" />
<line x1="142.89999999999998" y1="298.66" x2="144.2" y2="298.66" stroke="#222" stroke-width="0.6" />
<line x1="142.89999999999998" y1="291.84" x2="144.2" y2="291.84" stroke="#222" stroke-width="0.6" />
<line x1="142.89999999999998" y1="286.99" x2="144.2" y2="286.99" stroke="#222" stroke-width="0.6" />
<line x1="142.89999999999998" y1="283.24" x2="144.2" y2="283.24" stroke="#222" stroke-width="0.6" />
<line x1="142.89999999999998" y1="280.17" x2="144.2" y2="280.17" stroke="#222" stroke-width="0.6" />
<line x1="142.89999999999998" y1="277.57" x2="144.2" y2="277.57" stroke="#222" stroke-width="0.6" />
<line x1="142.89999999999998" y1="275.32" x2="144.2" y2="275.32" stroke="#222" stroke-width="0.6" />
<line x1="142.89999999999998" y1="273.34" x2="144.2" y2="273.34" stroke="#222" stroke-width="0.6" />
<line x1="142.89999999999998" y1="337.43" x2="144.2" y2="337.43" stroke="#222" stroke-width="0.6" />
<line x1="142.89999999999998" y1="330.6" x2="144.2" y2="330.6" stroke="#222" stroke-width="0.6" />
<line x1="142.89999999999998" y1="325.76" x2="144.2" y2="325.76" stroke="#222" stroke-width="0.6" />
<line x1="142.89999999999998" y1="322.0" x2="144.2" y2="322.0" stroke="#222" stroke-width="0.6" />
<line x1="142.89999999999998" y1="318.93" x2="144.2" y2="318.93" stroke="#222" stroke-width="0.6" />
<line x1="142.89999999999998" y1="316.34" x2="144.2" y2="316.34" stroke="#222" stroke-width="0.6" />
<line x1="142.89999999999998" y1="314.09" x2="144.2" y2="314.09" stroke="#222" stroke-width="0.6" />
<line x1="142.89999999999998" y1="312.11" x2="144.2" y2="312.11" stroke="#222" stroke-width="0.6" />
<path d="M144.2,232.8 H203.1 V349.1 H144.2 Z" fill="none" stroke="#111" stroke-width="1.2"/>
<line x1="141.5" y1="232.8" x2="144.2" y2="232.8" stroke="#111" stroke-width="1.0" />
<text x="126.16" y="234.72" font-size="6.2" fill="#222" stroke="#222" stroke-width="0.14" textLength="5.80" lengthAdjust="spacingAndGlyphs">10</text>
<text x="132.66" y="231.62" font-size="4.22" fill="#222" stroke="#222" stroke-width="0.1" textLength="2.34" lengthAdjust="spacingAndGlyphs">1</text>
<line x1="141.5" y1="271.56666666666666" x2="144.2" y2="271.56666666666666" stroke="#111" stroke-width="1.0" />
<text x="126.16" y="273.49" font-size="6.2" fill="#222" stroke="#222" stroke-width="0.14" textLength="5.80" lengthAdjust="spacingAndGlyphs">10</text>
<text x="132.66" y="270.39" font-size="4.22" fill="#222" stroke="#222" stroke-width="0.1" textLength="2.34" lengthAdjust="spacingAndGlyphs">0</text>
<line x1="141.5" y1="310.33333333333337" x2="144.2" y2="310.33333333333337" stroke="#111" stroke-width="1.0" />
<text x="124.26" y="312.25" font-size="6.2" fill="#222" stroke="#222" stroke-width="0.14" textLength="5.80" lengthAdjust="spacingAndGlyphs">10</text>
<text x="130.76" y="309.15" font-size="4.22" fill="#222" stroke="#222" stroke-width="0.1" textLength="4.24" lengthAdjust="spacingAndGlyphs">&#8722;1</text>
<line x1="141.5" y1="349.1" x2="144.2" y2="349.1" stroke="#111" stroke-width="1.0" />
<text x="124.26" y="351.02" font-size="6.2" fill="#222" stroke="#222" stroke-width="0.14" textLength="5.80" lengthAdjust="spacingAndGlyphs">10</text>
<text x="130.76" y="347.92" font-size="4.22" fill="#222" stroke="#222" stroke-width="0.1" textLength="4.24" lengthAdjust="spacingAndGlyphs">&#8722;2</text>
<line x1="156.3" y1="349.1" x2="156.3" y2="351.90000000000003" stroke="#111" stroke-width="1.0" />
<line x1="191.2" y1="349.1" x2="191.2" y2="351.90000000000003" stroke="#111" stroke-width="1.0" />
<text x="156.3" y="360.9" font-size="6.5" text-anchor="middle" fill="#262626" stroke="#262626" stroke-width="0.13" textLength="24.5" lengthAdjust="spacingAndGlyphs" >Baseline</text>
<text x="191.2" y="360.9" font-size="6.5" text-anchor="middle" fill="#262626" stroke="#262626" stroke-width="0.13" textLength="8.7" lengthAdjust="spacingAndGlyphs" >6m</text>
<text x="121.8" y="290" font-size="7" text-anchor="middle" fill="#262626" stroke="#262626" stroke-width="0.05" textLength="31" lengthAdjust="spacingAndGlyphs" transform="rotate(-90 121.8 290)" >IL-2 pg/ml</text>
<text x="152.5" y="240.5" font-size="5.5" text-anchor="start" fill="#262626" stroke="#262626" stroke-width="0.06" textLength="40" lengthAdjust="spacingAndGlyphs" >Wilcoxon paired</text>
<text x="152.5" y="246.5" font-size="5.5" text-anchor="start" fill="#262626" stroke="#262626" stroke-width="0.06" textLength="20.5" lengthAdjust="spacingAndGlyphs" >p=.0014</text>
<line x1="465.8" y1="252.8" x2="500.9" y2="283.3" stroke="#b0103a" stroke-width="0.85" />
<line x1="465.8" y1="258.3" x2="500.9" y2="308.8" stroke="#b0103a" stroke-width="0.85" />
<line x1="465.8" y1="294.1" x2="500.9" y2="307.0" stroke="#b0103a" stroke-width="0.85" />
<line x1="465.8" y1="313.8" x2="500.9" y2="342.6" stroke="#b0103a" stroke-width="0.85" />
<line x1="465.8" y1="317.5" x2="500.9" y2="338.1" stroke="#b0103a" stroke-width="0.85" />
<line x1="465.8" y1="318.3" x2="500.9" y2="326.0" stroke="#b0103a" stroke-width="0.85" />
<line x1="465.8" y1="326.5" x2="500.9" y2="299.8" stroke="#b0103a" stroke-width="0.85" />
<line x1="465.8" y1="327.6" x2="500.9" y2="333.6" stroke="#b0103a" stroke-width="0.85" />
<line x1="465.8" y1="329.4" x2="500.9" y2="339.6" stroke="#b0103a" stroke-width="0.85" />
<line x1="465.8" y1="332.6" x2="500.9" y2="327.9" stroke="#b0103a" stroke-width="0.85" />
<line x1="465.8" y1="336.3" x2="500.9" y2="329.4" stroke="#b0103a" stroke-width="0.85" />
<line x1="465.8" y1="344.9" x2="500.9" y2="344.9" stroke="#b0103a" stroke-width="0.85" />
<circle cx="465.8" cy="252.8" r="1.1" fill="#b0103a"/>
<circle cx="500.9" cy="283.3" r="1.1" fill="#b0103a"/>
<circle cx="465.8" cy="258.3" r="1.1" fill="#b0103a"/>
<circle cx="500.9" cy="308.8" r="1.1" fill="#b0103a"/>
<circle cx="465.8" cy="294.1" r="1.1" fill="#b0103a"/>
<circle cx="500.9" cy="307.0" r="1.1" fill="#b0103a"/>
<circle cx="465.8" cy="313.8" r="1.1" fill="#b0103a"/>
<circle cx="500.9" cy="342.6" r="1.1" fill="#b0103a"/>
<circle cx="465.8" cy="317.5" r="1.1" fill="#b0103a"/>
<circle cx="500.9" cy="338.1" r="1.1" fill="#b0103a"/>
<circle cx="465.8" cy="318.3" r="1.1" fill="#b0103a"/>
<circle cx="500.9" cy="326.0" r="1.1" fill="#b0103a"/>
<circle cx="465.8" cy="326.5" r="1.1" fill="#b0103a"/>
<circle cx="500.9" cy="299.8" r="1.1" fill="#b0103a"/>
<circle cx="465.8" cy="327.6" r="1.1" fill="#b0103a"/>
<circle cx="500.9" cy="333.6" r="1.1" fill="#b0103a"/>
<circle cx="465.8" cy="329.4" r="1.1" fill="#b0103a"/>
<circle cx="500.9" cy="339.6" r="1.1" fill="#b0103a"/>
<circle cx="465.8" cy="332.6" r="1.1" fill="#b0103a"/>
<circle cx="500.9" cy="327.9" r="1.1" fill="#b0103a"/>
<circle cx="465.8" cy="336.3" r="1.1" fill="#b0103a"/>
<circle cx="500.9" cy="329.4" r="1.1" fill="#b0103a"/>
<circle cx="465.8" cy="344.9" r="1.1" fill="#b0103a"/>
<circle cx="500.9" cy="344.9" r="1.1" fill="#b0103a"/>
<path d="M454.0,232.3 H512.9 V348.3 H454.0 Z" fill="none" stroke="#111" stroke-width="1.2"/>
<line x1="451.2" y1="348.3" x2="454.0" y2="348.3" stroke="#111" stroke-width="1.0" />
<text x="448" y="350.5" font-size="6.2" text-anchor="end" fill="#262626" stroke="#262626" stroke-width="0.13" textLength="3.5" lengthAdjust="spacingAndGlyphs" >0</text>
<line x1="451.2" y1="319.3" x2="454.0" y2="319.3" stroke="#111" stroke-width="1.0" />
<text x="448" y="321.5" font-size="6.2" text-anchor="end" fill="#262626" stroke="#262626" stroke-width="0.13" textLength="7.2" lengthAdjust="spacingAndGlyphs" >10</text>
<line x1="451.2" y1="290.3" x2="454.0" y2="290.3" stroke="#111" stroke-width="1.0" />
<text x="448" y="292.5" font-size="6.2" text-anchor="end" fill="#262626" stroke="#262626" stroke-width="0.13" textLength="7.2" lengthAdjust="spacingAndGlyphs" >20</text>
<line x1="451.2" y1="261.3" x2="454.0" y2="261.3" stroke="#111" stroke-width="1.0" />
<text x="448" y="263.5" font-size="6.2" text-anchor="end" fill="#262626" stroke="#262626" stroke-width="0.13" textLength="7.2" lengthAdjust="spacingAndGlyphs" >30</text>
<line x1="451.2" y1="232.3" x2="454.0" y2="232.3" stroke="#111" stroke-width="1.0" />
<text x="448" y="234.5" font-size="6.2" text-anchor="end" fill="#262626" stroke="#262626" stroke-width="0.13" textLength="7.2" lengthAdjust="spacingAndGlyphs" >40</text>
<line x1="465.8" y1="348.3" x2="465.8" y2="351.1" stroke="#111" stroke-width="1.0" />
<line x1="483.2" y1="348.3" x2="483.2" y2="351.1" stroke="#111" stroke-width="1.0" />
<line x1="500.9" y1="348.3" x2="500.9" y2="351.1" stroke="#111" stroke-width="1.0" />
<text x="465.8" y="360.9" font-size="6.5" text-anchor="middle" fill="#262626" stroke="#262626" stroke-width="0.13" textLength="24.5" lengthAdjust="spacingAndGlyphs" >Baseline</text>
<text x="500.9" y="360.9" font-size="6.5" text-anchor="middle" fill="#262626" stroke="#262626" stroke-width="0.13" textLength="8.7" lengthAdjust="spacingAndGlyphs" >6m</text>
<text x="435.8" y="290.9" font-size="9" text-anchor="middle" fill="#262626" stroke="#262626" stroke-width="0.13" textLength="76.3" lengthAdjust="spacingAndGlyphs" transform="rotate(-90 435.8 290.9)" >% CD19++CD21- B cells</text>
<text x="461.9" y="239.3" font-size="5.5" text-anchor="start" fill="#262626" stroke="#262626" stroke-width="0.06" textLength="39.6" lengthAdjust="spacingAndGlyphs" >Wilcoxon paired</text>
<text x="461.9" y="245.5" font-size="5.5" text-anchor="start" fill="#262626" stroke="#262626" stroke-width="0.06" textLength="14" lengthAdjust="spacingAndGlyphs" >p=.10</text>
<clipPath id="cf1"><rect x="247.8" y="220.2" width="53.0" height="52.900000000000034"/></clipPath>
<g clip-path="url(#cf1)">
<path d="M267.2 246.8h.01M281.8 250.3h.01M287.3 242.7h.01M289.6 250.9h.01M284.2 248.9h.01M268.5 248.2h.01M270.8 238.9h.01M276.9 246.8h.01M279.5 244.0h.01M271.1 247.1h.01M273.4 237.6h.01M280.8 254.7h.01M276.4 239.7h.01M292.4 256.2h.01M277.4 244.7h.01M281.9 263.6h.01M281.2 251.9h.01M284.0 235.1h.01M270.1 238.6h.01M283.9 246.6h.01M296.0 244.4h.01M282.8 246.4h.01M281.2 259.8h.01M282.6 254.8h.01M291.6 242.4h.01M286.1 243.7h.01M281.0 246.9h.01M280.2 243.2h.01M294.0 244.4h.01M286.3 256.0h.01M285.6 252.1h.01M292.5 252.5h.01M295.4 237.5h.01M297.6 246.2h.01M264.3 242.2h.01M267.5 245.9h.01M266.6 240.0h.01M282.7 246.9h.01M272.8 244.6h.01M279.1 246.4h.01M279.9 244.7h.01M287.9 236.4h.01M275.6 246.8h.01M276.4 242.7h.01M276.1 247.3h.01M291.2 244.9h.01M277.6 248.1h.01M277.8 234.4h.01M282.4 243.7h.01M274.9 249.8h.01M280.4 242.6h.01M260.4 235.7h.01M280.1 245.3h.01M283.9 247.3h.01M275.7 238.4h.01M270.2 245.2h.01M269.7 250.5h.01M268.1 235.3h.01M278.3 235.4h.01M294.6 240.0h.01M279.5 244.5h.01M272.6 235.4h.01M263.3 251.2h.01M289.2 259.0h.01M266.8 249.4h.01M279.9 251.1h.01M275.4 250.3h.01M288.1 249.6h.01M293.0 245.0h.01M293.9 241.8h.01M295.0 229.5h.01M280.1 241.2h.01M280.0 252.2h.01M286.5 246.6h.01M295.3 237.1h.01M272.7 255.1h.01M283.0 233.6h.01M283.1 238.9h.01M293.3 252.9h.01M275.1 253.8h.01M272.5 251.5h.01M285.2 245.2h.01M267.2 244.3h.01M259.4 242.6h.01M263.3 253.3h.01M271.3 231.4h.01M285.3 248.2h.01M275.4 258.7h.01M287.0 246.4h.01M274.2 228.3h.01M284.3 251.8h.01M274.7 237.5h.01M279.6 236.0h.01M280.1 250.6h.01M293.6 247.6h.01M281.8 250.5h.01M292.6 244.1h.01M268.9 241.3h.01M268.7 240.7h.01M278.9 248.1h.01M281.4 246.4h.01M276.8 248.5h.01M288.0 250.6h.01M293.5 244.3h.01M277.7 256.2h.01M281.8 248.5h.01M277.0 251.8h.01M276.4 240.0h.01M279.5 243.3h.01M287.5 243.7h.01M281.1 244.7h.01M283.1 242.2h.01M289.9 237.5h.01M276.5 241.7h.01M285.8 246.2h.01M284.4 244.0h.01M273.5 239.3h.01M277.0 242.8h.01M282.5 248.1h.01M288.8 245.4h.01M273.3 239.6h.01M280.6 248.2h.01M297.5 247.1h.01M295.8 257.2h.01M270.6 253.3h.01M290.2 254.1h.01M279.9 251.7h.01M275.7 245.6h.01M280.2 256.7h.01M278.1 251.7h.01M280.6 241.7h.01M282.2 250.0h.01M273.6 249.8h.01M273.6 240.7h.01M282.0 244.6h.01M271.2 236.2h.01M280.2 247.5h.01M275.9 247.1h.01M266.3 248.4h.01M283.7 247.7h.01M274.5 246.5h.01M281.2 252.4h.01M282.5 247.5h.01M273.5 251.2h.01M290.6 243.0h.01M285.7 247.8h.01M279.6 238.3h.01M295.8 234.8h.01M282.7 243.7h.01M290.3 243.5h.01M280.4 249.7h.01M284.1 242.9h.01M286.1 248.3h.01M288.9 242.9h.01M279.6 243.7h.01M272.5 247.5h.01M283.7 254.5h.01M277.1 248.3h.01M290.3 245.3h.01M280.6 246.8h.01M273.8 240.1h.01M290.0 247.0h.01M279.3 238.6h.01M281.1 253.0h.01M269.7 240.7h.01M290.0 254.6h.01M293.9 242.7h.01M285.4 241.5h.01M284.7 243.8h.01M281.8 254.0h.01M283.0 244.6h.01M280.5 247.6h.01M275.4 247.2h.01M285.4 255.3h.01M261.5 238.9h.01M268.9 251.2h.01M281.1 252.8h.01M258.2 244.9h.01M252.1 246.9h.01M275.5 243.1h.01M283.0 242.5h.01M289.9 246.0h.01M283.4 261.1h.01M276.0 251.5h.01M272.6 253.4h.01M288.6 246.8h.01M288.9 255.6h.01M292.3 246.0h.01M279.5 252.6h.01M266.9 242.4h.01M284.3 249.4h.01M296.6 256.5h.01M282.9 248.6h.01M268.2 244.9h.01M282.3 244.7h.01M280.5 249.6h.01M271.5 242.6h.01M264.2 252.8h.01M270.6 235.9h.01M286.9 244.7h.01M288.6 243.8h.01M298.9 250.2h.01M281.3 246.7h.01M278.2 250.8h.01M297.8 243.5h.01M270.3 249.5h.01M289.5 237.1h.01M273.8 240.1h.01M285.0 249.0h.01M273.5 239.3h.01M286.1 233.8h.01M285.7 245.1h.01M297.1 251.9h.01M274.9 244.4h.01M277.5 241.7h.01M280.7 251.7h.01M266.6 244.7h.01M293.3 250.4h.01M272.8 241.2h.01M272.4 236.5h.01M290.2 246.4h.01M273.8 237.5h.01M276.6 243.0h.01M295.3 243.3h.01M281.0 252.3h.01M285.9 244.9h.01M260.7 254.3h.01M285.3 243.4h.01M279.2 240.4h.01M272.0 237.2h.01M284.4 249.1h.01M281.5 250.6h.01M284.7 246.7h.01M272.2 249.5h.01M290.5 249.7h.01M291.0 243.2h.01M271.3 253.4h.01M274.8 247.4h.01M278.3 246.1h.01M277.6 242.8h.01M264.2 257.2h.01M281.8 234.7h.01M272.0 239.4h.01M273.4 231.0h.01M285.1 255.7h.01M277.8 250.4h.01M285.3 238.7h.01M290.8 236.1h.01M274.9 243.9h.01M291.1 246.7h.01M278.9 241.3h.01M280.8 246.2h.01M286.4 254.2h.01M286.5 246.1h.01M278.7 255.4h.01M281.8 245.9h.01M295.8 255.2h.01M285.0 245.4h.01M274.4 252.3h.01M276.0 251.6h.01M273.1 246.6h.01M283.5 246.9h.01M282.1 248.2h.01M270.1 239.5h.01M278.7 256.6h.01M278.9 240.6h.01M274.2 246.2h.01M290.4 242.7h.01M284.9 247.1h.01M276.9 240.5h.01M278.7 241.8h.01M284.7 235.7h.01M289.9 250.4h.01M285.1 254.8h.01M285.3 236.0h.01M280.5 248.6h.01M274.0 239.4h.01M283.8 249.0h.01M276.3 244.6h.01M275.5 242.7h.01M279.5 252.3h.01M265.9 244.0h.01M294.2 247.9h.01M281.4 250.9h.01M271.2 238.9h.01M265.4 237.5h.01M282.2 251.0h.01M276.3 242.0h.01M283.5 249.6h.01M282.3 234.9h.01M275.2 231.2h.01M282.1 241.0h.01M274.2 254.8h.01M291.6 248.8h.01M282.4 247.0h.01M274.9 245.7h.01M296.8 240.9h.01M274.2 246.9h.01M287.8 250.9h.01M271.5 245.2h.01M277.7 238.8h.01M280.7 243.2h.01M288.1 248.5h.01M273.2 246.5h.01M276.9 242.3h.01M275.7 252.2h.01M276.4 236.0h.01M273.2 250.7h.01M298.8 239.9h.01M276.9 244.1h.01M267.7 248.3h.01M279.6 247.6h.01M299.6 244.4h.01M286.9 250.9h.01M274.4 242.5h.01M293.6 250.2h.01M281.3 239.6h.01M287.7 249.1h.01M299.2 254.6h.01M287.0 247.6h.01M280.5 242.8h.01M282.7 247.4h.01M285.7 252.3h.01M282.7 242.8h.01M287.1 255.1h.01M272.7 248.5h.01M284.8 249.1h.01M284.4 245.5h.01M279.1 255.8h.01M295.2 237.8h.01M257.8 248.6h.01M274.1 243.0h.01M266.1 248.1h.01M279.5 242.9h.01M287.9 260.2h.01M292.9 252.8h.01M276.4 249.8h.01M279.7 252.7h.01M285.1 245.8h.01M284.8 241.8h.01M286.9 254.8h.01M276.8 249.2h.01M265.4 251.5h.01M287.7 240.1h.01M295.2 246.7h.01M264.9 238.0h.01M287.6 244.4h.01M289.7 237.0h.01M279.1 251.7h.01M274.1 250.0h.01M276.9 248.0h.01M282.8 259.0h.01M269.2 250.5h.01M291.5 239.4h.01M280.7 259.5h.01M289.2 228.7h.01M277.9 236.0h.01M282.7 241.8h.01M275.1 241.1h.01M282.6 243.3h.01M272.1 244.7h.01M283.6 241.0h.01M289.7 236.3h.01M283.6 243.7h.01M293.8 242.3h.01M274.2 238.2h.01M297.4 249.6h.01M270.5 244.0h.01M271.6 254.9h.01M283.7 234.1h.01M281.8 251.3h.01M280.0 248.8h.01M279.0 247.2h.01M281.9 241.9h.01M283.0 247.0h.01M279.7 242.0h.01M271.1 247.4h.01M287.2 231.9h.01M275.3 253.9h.01M288.0 241.8h.01M291.8 240.2h.01M273.1 257.3h.01M276.2 244.7h.01M265.6 240.1h.01M269.7 245.2h.01M263.9 252.2h.01M276.9 242.5h.01M274.5 250.3h.01M293.4 243.6h.01M294.1 255.4h.01M291.7 247.7h.01M267.0 249.9h.01M276.4 247.1h.01M263.5 244.4h.01M282.0 240.5h.01M282.6 255.8h.01M282.0 242.0h.01M271.9 248.4h.01M274.8 232.6h.01M282.3 250.9h.01M273.0 254.6h.01M284.4 253.0h.01M266.6 246.0h.01M294.0 257.8h.01M291.6 246.0h.01M281.6 242.3h.01M289.6 241.9h.01M281.1 233.9h.01M266.8 256.4h.01M280.5 247.3h.01M260.7 245.8h.01M298.2 237.3h.01M259.1 245.1h.01M275.3 244.8h.01M269.0 238.1h.01M269.2 249.8h.01M279.6 250.8h.01M270.5 249.5h.01M276.1 246.5h.01M288.2 246.2h.01M276.9 236.2h.01M280.6 250.6h.01M274.4 245.6h.01M264.4 238.2h.01M283.5 253.6h.01M277.3 236.2h.01M276.7 236.8h.01M277.6 257.3h.01M282.6 245.1h.01M289.1 243.8h.01M282.9 247.2h.01M283.9 237.4h.01M286.3 251.2h.01M259.9 230.0h.01M272.1 254.8h.01M280.2 250.0h.01M284.9 251.2h.01M274.4 242.6h.01M283.3 249.6h.01M285.1 248.0h.01M275.7 252.5h.01M284.2 252.3h.01M257.5 252.0h.01M258.4 247.2h.01M274.1 246.7h.01M275.8 244.2h.01M281.7 248.0h.01M272.9 231.1h.01M273.1 249.2h.01M272.5 248.5h.01M276.7 240.4h.01M290.4 255.8h.01M279.1 245.7h.01M288.5 238.1h.01M272.3 252.7h.01M288.0 243.1h.01M273.1 248.1h.01M267.5 243.0h.01M277.9 231.4h.01M285.3 250.5h.01M289.5 237.5h.01M268.6 241.2h.01M268.4 258.2h.01M271.3 244.1h.01M281.8 248.7h.01M292.9 239.5h.01M287.8 246.9h.01M269.6 246.9h.01M267.5 255.6h.01M273.5 252.0h.01M291.6 242.3h.01M272.0 246.8h.01M270.6 251.4h.01M281.6 241.5h.01M273.9 250.3h.01M267.0 256.1h.01M273.0 244.8h.01M271.7 255.7h.01M287.4 253.8h.01M285.8 246.5h.01M295.2 250.0h.01M283.9 249.4h.01M286.6 247.7h.01M278.5 236.5h.01M298.4 238.2h.01M260.7 241.7h.01M297.3 253.3h.01M274.6 247.6h.01M279.8 234.1h.01M277.0 247.7h.01M290.5 238.8h.01M259.8 236.6h.01M283.0 246.5h.01M281.3 246.9h.01M276.7 237.8h.01M284.1 248.3h.01M285.2 253.5h.01M268.9 232.0h.01M264.0 258.8h.01M271.8 248.4h.01M279.9 250.4h.01M278.5 242.4h.01M282.2 249.1h.01M271.3 253.9h.01M290.3 248.7h.01M279.0 244.6h.01M265.2 249.9h.01M271.2 243.0h.01M289.0 240.5h.01M275.3 251.1h.01M296.7 241.9h.01M289.9 242.1h.01M283.5 248.9h.01M269.8 252.2h.01M296.2 246.3h.01M282.4 239.0h.01M296.1 246.4h.01M268.5 250.6h.01M266.8 241.9h.01M260.8 254.3h.01M299.9 242.2h.01M274.1 242.5h.01M274.9 249.3h.01M293.1 240.0h.01M284.0 235.2h.01M293.7 245.5h.01M273.7 255.2h.01M279.0 254.2h.01M289.7 255.9h.01M272.8 246.3h.01M283.3 244.8h.01M293.7 241.7h.01M289.0 254.2h.01M262.4 240.2h.01M271.9 242.7h.01M283.5 245.0h.01M280.7 243.2h.01M279.3 248.9h.01M286.7 241.3h.01M279.0 241.4h.01M278.4 237.4h.01M288.6 250.0h.01M278.9 241.9h.01M275.9 242.0h.01M266.1 255.8h.01M269.5 249.5h.01" stroke="#8a8a8a" stroke-opacity="0.45" stroke-width="0.76" stroke-linecap="round" fill="none"/>
<path d="M266.8 245.7h.01M258.0 252.3h.01M262.0 249.8h.01M260.9 250.8h.01M272.0 251.6h.01M261.7 249.9h.01M256.9 249.1h.01M262.1 259.3h.01M270.9 252.9h.01M275.4 256.1h.01M263.7 251.3h.01M253.2 253.0h.01M259.5 245.7h.01M251.7 259.7h.01M263.7 254.0h.01M263.6 250.1h.01M265.7 256.3h.01M259.5 254.0h.01M270.2 250.1h.01M263.4 249.0h.01M266.8 250.5h.01M271.2 248.9h.01M275.5 250.8h.01M255.3 248.4h.01M267.3 248.6h.01M276.4 257.1h.01M266.1 246.3h.01M261.8 249.1h.01M279.6 249.9h.01M268.5 257.1h.01M254.3 250.6h.01M264.1 253.9h.01M252.8 252.9h.01M261.1 255.8h.01M249.2 249.7h.01M258.0 250.7h.01M267.8 249.5h.01M283.9 249.2h.01M268.7 256.1h.01M269.7 251.2h.01M255.4 251.0h.01M267.3 252.5h.01M266.7 254.3h.01M254.9 248.3h.01M273.5 250.1h.01M249.3 259.4h.01M255.3 248.3h.01M269.7 247.5h.01M255.0 256.2h.01M255.4 262.0h.01M262.8 262.7h.01M263.0 252.2h.01M256.9 251.1h.01M258.0 251.9h.01M268.2 246.9h.01M254.7 243.6h.01M274.0 251.7h.01" stroke="#bbb" stroke-opacity="0.5" stroke-width="0.7" stroke-linecap="round" fill="none"/>
<path d="M296.64,241.20 C296.96,242.19 296.78,243.49 296.15,244.64 C295.53,245.79 294.30,247.10 292.89,248.10 C291.49,249.10 289.54,250.07 287.73,250.65 C285.92,251.24 283.77,251.61 282.05,251.62 C280.32,251.63 278.56,251.30 277.37,250.74 C276.19,250.18 275.28,249.23 274.96,248.24 C274.64,247.25 274.82,245.95 275.45,244.80 C276.07,243.65 277.30,242.34 278.71,241.34 C280.11,240.34 282.06,239.37 283.87,238.79 C285.68,238.20 287.83,237.83 289.55,237.82 C291.28,237.81 293.04,238.14 294.23,238.70 C295.41,239.26 296.32,240.21 296.64,241.20Z" fill="#999" fill-opacity="0.6" filter="url(#bl)"/>
<path d="M295.04,241.66 C295.30,242.49 295.15,243.57 294.63,244.53 C294.11,245.49 293.08,246.58 291.91,247.42 C290.74,248.25 289.11,249.06 287.61,249.55 C286.10,250.03 284.31,250.34 282.87,250.35 C281.44,250.36 279.96,250.08 278.98,249.62 C277.99,249.15 277.23,248.36 276.96,247.54 C276.70,246.71 276.85,245.63 277.37,244.67 C277.89,243.71 278.92,242.62 280.09,241.78 C281.26,240.95 282.89,240.14 284.39,239.65 C285.90,239.17 287.69,238.86 289.13,238.85 C290.56,238.84 292.04,239.12 293.02,239.58 C294.01,240.05 294.77,240.84 295.04,241.66Z" fill="#e8e8e8" fill-opacity="0.9" stroke="#777" stroke-width="0.45"/>
<path d="M293.83,242.01 C294.06,242.72 293.93,243.64 293.48,244.45 C293.04,245.27 292.17,246.19 291.17,246.90 C290.18,247.61 288.80,248.30 287.52,248.71 C286.24,249.13 284.72,249.39 283.49,249.40 C282.27,249.41 281.02,249.17 280.18,248.77 C279.34,248.37 278.70,247.71 278.47,247.01 C278.24,246.30 278.37,245.38 278.82,244.57 C279.26,243.75 280.13,242.83 281.13,242.12 C282.12,241.41 283.50,240.72 284.78,240.31 C286.06,239.89 287.58,239.63 288.81,239.62 C290.03,239.61 291.28,239.85 292.12,240.25 C292.96,240.65 293.60,241.31 293.83,242.01Z" fill="#c4c4c4" fill-opacity="0.9" stroke="#555" stroke-width="0.45"/>
<path d="M292.62,242.37 C292.81,242.94 292.70,243.70 292.34,244.37 C291.97,245.04 291.26,245.81 290.44,246.39 C289.62,246.98 288.48,247.54 287.42,247.88 C286.37,248.22 285.12,248.44 284.11,248.45 C283.11,248.45 282.07,248.26 281.39,247.93 C280.70,247.60 280.16,247.05 279.98,246.47 C279.79,245.90 279.90,245.14 280.26,244.47 C280.63,243.80 281.34,243.03 282.16,242.45 C282.98,241.86 284.12,241.30 285.18,240.96 C286.23,240.62 287.48,240.40 288.49,240.39 C289.49,240.39 290.53,240.58 291.21,240.91 C291.90,241.24 292.44,241.79 292.62,242.37Z" fill="#9a9a9a" fill-opacity="0.95" stroke="#111" stroke-width="0.9"/>
<path d="M291.18,242.79 C291.32,243.21 291.24,243.78 290.97,244.28 C290.70,244.77 290.16,245.34 289.55,245.78 C288.94,246.21 288.10,246.63 287.32,246.88 C286.53,247.14 285.60,247.30 284.85,247.30 C284.11,247.31 283.34,247.16 282.83,246.92 C282.32,246.68 281.92,246.27 281.78,245.84 C281.64,245.41 281.72,244.85 281.99,244.35 C282.26,243.85 282.80,243.28 283.41,242.85 C284.02,242.41 284.86,241.99 285.64,241.74 C286.43,241.49 287.36,241.33 288.11,241.32 C288.85,241.32 289.62,241.46 290.13,241.70 C290.64,241.95 291.04,242.36 291.18,242.79Z" fill="#8a8a8a" fill-opacity="1" stroke="#333" stroke-width="0.45"/>
<path d="M289.89,243.16 C289.99,243.46 289.93,243.85 289.75,244.19 C289.56,244.54 289.19,244.93 288.77,245.23 C288.35,245.53 287.76,245.82 287.22,246.00 C286.68,246.17 286.03,246.28 285.51,246.29 C285.00,246.29 284.47,246.19 284.11,246.02 C283.76,245.85 283.48,245.57 283.39,245.27 C283.29,244.98 283.35,244.59 283.53,244.24 C283.72,243.90 284.09,243.50 284.51,243.20 C284.93,242.90 285.52,242.61 286.06,242.44 C286.60,242.26 287.25,242.15 287.77,242.15 C288.28,242.14 288.81,242.24 289.17,242.41 C289.52,242.58 289.80,242.86 289.89,243.16Z" fill="#b0b0b0" fill-opacity="1" stroke="#555" stroke-width="0.4"/>
<path d="M288.61,243.53 C288.66,243.70 288.63,243.91 288.53,244.11 C288.42,244.30 288.22,244.52 287.98,244.68 C287.75,244.85 287.42,245.01 287.12,245.11 C286.82,245.21 286.46,245.27 286.17,245.27 C285.89,245.27 285.59,245.22 285.40,245.12 C285.20,245.03 285.05,244.87 284.99,244.71 C284.94,244.54 284.97,244.33 285.07,244.13 C285.18,243.94 285.38,243.72 285.62,243.56 C285.85,243.39 286.18,243.23 286.48,243.13 C286.78,243.03 287.14,242.97 287.43,242.97 C287.71,242.97 288.01,243.02 288.20,243.12 C288.40,243.21 288.55,243.37 288.61,243.53Z" fill="#e6e6e6" fill-opacity="1" stroke="none"/>
<path d="M274.81,243.36 C274.21,244.65 273.20,245.95 272.15,246.81 C271.09,247.67 269.70,248.32 268.47,248.53 C267.24,248.73 265.83,248.56 264.76,248.05 C263.68,247.55 262.64,246.59 262.01,245.52 C261.38,244.44 260.98,242.96 260.96,241.59 C260.94,240.23 261.29,238.62 261.89,237.34 C262.49,236.05 263.50,234.75 264.55,233.89 C265.61,233.03 267.00,232.38 268.23,232.17 C269.46,231.97 270.87,232.14 271.94,232.65 C273.02,233.15 274.06,234.11 274.69,235.18 C275.32,236.26 275.72,237.74 275.74,239.11 C275.76,240.47 275.41,242.08 274.81,243.36Z" fill="#999" fill-opacity="0.6" filter="url(#bl)"/>
<path d="M273.57,242.81 C273.09,243.84 272.28,244.88 271.44,245.57 C270.59,246.26 269.48,246.78 268.49,246.94 C267.51,247.11 266.39,246.96 265.53,246.56 C264.67,246.16 263.83,245.39 263.33,244.53 C262.82,243.67 262.50,242.49 262.49,241.40 C262.47,240.30 262.76,239.02 263.23,237.99 C263.71,236.96 264.52,235.92 265.36,235.23 C266.21,234.54 267.32,234.02 268.31,233.86 C269.29,233.69 270.41,233.84 271.27,234.24 C272.13,234.64 272.97,235.41 273.47,236.27 C273.98,237.13 274.30,238.31 274.31,239.40 C274.33,240.50 274.04,241.78 273.57,242.81Z" fill="#e8e8e8" fill-opacity="0.9" stroke="#777" stroke-width="0.45"/>
<path d="M272.82,242.48 C272.41,243.35 271.73,244.24 271.01,244.82 C270.29,245.41 269.35,245.85 268.51,245.99 C267.67,246.13 266.72,246.01 265.99,245.67 C265.26,245.33 264.55,244.67 264.12,243.94 C263.69,243.21 263.42,242.20 263.41,241.28 C263.39,240.35 263.63,239.26 264.04,238.38 C264.45,237.51 265.13,236.62 265.85,236.04 C266.57,235.45 267.51,235.01 268.35,234.87 C269.19,234.73 270.14,234.85 270.87,235.19 C271.60,235.53 272.31,236.19 272.74,236.92 C273.17,237.65 273.44,238.66 273.45,239.58 C273.47,240.51 273.23,241.60 272.82,242.48Z" fill="#c4c4c4" fill-opacity="0.9" stroke="#555" stroke-width="0.45"/>
<path d="M272.08,242.15 C271.74,242.87 271.18,243.60 270.59,244.08 C269.99,244.56 269.22,244.92 268.53,245.04 C267.84,245.16 267.05,245.06 266.45,244.77 C265.85,244.49 265.26,243.96 264.91,243.35 C264.56,242.75 264.33,241.92 264.32,241.16 C264.31,240.39 264.51,239.49 264.84,238.77 C265.18,238.05 265.74,237.32 266.33,236.84 C266.93,236.36 267.70,236.00 268.39,235.88 C269.08,235.76 269.87,235.86 270.47,236.15 C271.07,236.43 271.66,236.96 272.01,237.57 C272.36,238.17 272.59,239.00 272.60,239.76 C272.61,240.53 272.41,241.43 272.08,242.15Z" fill="#9a9a9a" fill-opacity="0.95" stroke="#111" stroke-width="0.9"/>
<path d="M271.18,241.75 C270.93,242.28 270.51,242.82 270.08,243.18 C269.64,243.54 269.06,243.81 268.54,243.90 C268.03,243.98 267.45,243.91 267.00,243.70 C266.55,243.49 266.12,243.09 265.86,242.65 C265.60,242.20 265.43,241.58 265.42,241.01 C265.41,240.45 265.56,239.78 265.81,239.24 C266.06,238.71 266.48,238.17 266.92,237.81 C267.36,237.45 267.93,237.18 268.45,237.09 C268.96,237.01 269.54,237.08 269.99,237.29 C270.44,237.50 270.87,237.90 271.13,238.35 C271.40,238.79 271.56,239.41 271.57,239.98 C271.58,240.55 271.43,241.21 271.18,241.75Z" fill="#8a8a8a" fill-opacity="1" stroke="#333" stroke-width="0.45"/>
<path d="M270.39,241.40 C270.22,241.76 269.93,242.14 269.62,242.39 C269.32,242.64 268.92,242.82 268.56,242.88 C268.21,242.94 267.80,242.89 267.49,242.75 C267.18,242.60 266.88,242.33 266.70,242.02 C266.52,241.71 266.41,241.28 266.40,240.89 C266.39,240.49 266.50,240.03 266.67,239.66 C266.84,239.29 267.13,238.92 267.43,238.67 C267.74,238.42 268.14,238.23 268.49,238.17 C268.85,238.11 269.25,238.16 269.56,238.31 C269.87,238.45 270.17,238.73 270.35,239.04 C270.54,239.35 270.65,239.78 270.66,240.17 C270.66,240.56 270.56,241.03 270.39,241.40Z" fill="#b0b0b0" fill-opacity="1" stroke="#555" stroke-width="0.4"/>
<path d="M269.59,241.04 C269.50,241.25 269.34,241.46 269.17,241.59 C269.00,241.73 268.78,241.84 268.58,241.87 C268.38,241.90 268.16,241.87 267.99,241.79 C267.81,241.71 267.65,241.56 267.55,241.39 C267.44,241.21 267.38,240.98 267.38,240.76 C267.37,240.54 267.43,240.28 267.53,240.08 C267.62,239.87 267.78,239.66 267.95,239.53 C268.12,239.39 268.34,239.28 268.54,239.25 C268.74,239.22 268.96,239.25 269.13,239.33 C269.31,239.41 269.47,239.56 269.57,239.73 C269.68,239.91 269.74,240.14 269.74,240.36 C269.75,240.58 269.69,240.84 269.59,241.04Z" fill="#e6e6e6" fill-opacity="1" stroke="none"/>
</g>
<line x1="246.20000000000002" y1="229.44" x2="247.8" y2="229.44" stroke="#222" stroke-width="0.7" />
<line x1="246.20000000000002" y1="227.12" x2="247.8" y2="227.12" stroke="#222" stroke-width="0.7" />
<line x1="246.20000000000002" y1="225.46" x2="247.8" y2="225.46" stroke="#222" stroke-width="0.7" />
<line x1="246.20000000000002" y1="224.18" x2="247.8" y2="224.18" stroke="#222" stroke-width="0.7" />
<line x1="246.20000000000002" y1="223.13" x2="247.8" y2="223.13" stroke="#222" stroke-width="0.7" />
<line x1="246.20000000000002" y1="222.25" x2="247.8" y2="222.25" stroke="#222" stroke-width="0.7" />
<line x1="246.20000000000002" y1="221.48" x2="247.8" y2="221.48" stroke="#222" stroke-width="0.7" />
<line x1="246.20000000000002" y1="220.81" x2="247.8" y2="220.81" stroke="#222" stroke-width="0.7" />
<line x1="246.20000000000002" y1="242.67" x2="247.8" y2="242.67" stroke="#222" stroke-width="0.7" />
<line x1="246.20000000000002" y1="240.34" x2="247.8" y2="240.34" stroke="#222" stroke-width="0.7" />
<line x1="246.20000000000002" y1="238.69" x2="247.8" y2="238.69" stroke="#222" stroke-width="0.7" />
<line x1="246.20000000000002" y1="237.41" x2="247.8" y2="237.41" stroke="#222" stroke-width="0.7" />
<line x1="246.20000000000002" y1="236.36" x2="247.8" y2="236.36" stroke="#222" stroke-width="0.7" />
<line x1="246.20000000000002" y1="235.47" x2="247.8" y2="235.47" stroke="#222" stroke-width="0.7" />
<line x1="246.20000000000002" y1="234.71" x2="247.8" y2="234.71" stroke="#222" stroke-width="0.7" />
<line x1="246.20000000000002" y1="234.03" x2="247.8" y2="234.03" stroke="#222" stroke-width="0.7" />
<line x1="246.20000000000002" y1="255.89" x2="247.8" y2="255.89" stroke="#222" stroke-width="0.7" />
<line x1="246.20000000000002" y1="253.57" x2="247.8" y2="253.57" stroke="#222" stroke-width="0.7" />
<line x1="246.20000000000002" y1="251.91" x2="247.8" y2="251.91" stroke="#222" stroke-width="0.7" />
<line x1="246.20000000000002" y1="250.63" x2="247.8" y2="250.63" stroke="#222" stroke-width="0.7" />
<line x1="246.20000000000002" y1="249.58" x2="247.8" y2="249.58" stroke="#222" stroke-width="0.7" />
<line x1="246.20000000000002" y1="248.7" x2="247.8" y2="248.7" stroke="#222" stroke-width="0.7" />
<line x1="246.20000000000002" y1="247.93" x2="247.8" y2="247.93" stroke="#222" stroke-width="0.7" />
<line x1="246.20000000000002" y1="247.26" x2="247.8" y2="247.26" stroke="#222" stroke-width="0.7" />
<line x1="246.20000000000002" y1="269.12" x2="247.8" y2="269.12" stroke="#222" stroke-width="0.7" />
<line x1="246.20000000000002" y1="266.79" x2="247.8" y2="266.79" stroke="#222" stroke-width="0.7" />
<line x1="246.20000000000002" y1="265.14" x2="247.8" y2="265.14" stroke="#222" stroke-width="0.7" />
<line x1="246.20000000000002" y1="263.86" x2="247.8" y2="263.86" stroke="#222" stroke-width="0.7" />
<line x1="246.20000000000002" y1="262.81" x2="247.8" y2="262.81" stroke="#222" stroke-width="0.7" />
<line x1="246.20000000000002" y1="261.92" x2="247.8" y2="261.92" stroke="#222" stroke-width="0.7" />
<line x1="246.20000000000002" y1="261.16" x2="247.8" y2="261.16" stroke="#222" stroke-width="0.7" />
<line x1="246.20000000000002" y1="260.48" x2="247.8" y2="260.48" stroke="#222" stroke-width="0.7" />
<line x1="251.79" y1="273.1" x2="251.79" y2="274.70000000000005" stroke="#222" stroke-width="0.7" />
<line x1="254.12" y1="273.1" x2="254.12" y2="274.70000000000005" stroke="#222" stroke-width="0.7" />
<line x1="255.78" y1="273.1" x2="255.78" y2="274.70000000000005" stroke="#222" stroke-width="0.7" />
<line x1="257.06" y1="273.1" x2="257.06" y2="274.70000000000005" stroke="#222" stroke-width="0.7" />
<line x1="258.11" y1="273.1" x2="258.11" y2="274.70000000000005" stroke="#222" stroke-width="0.7" />
<line x1="259.0" y1="273.1" x2="259.0" y2="274.70000000000005" stroke="#222" stroke-width="0.7" />
<line x1="259.77" y1="273.1" x2="259.77" y2="274.70000000000005" stroke="#222" stroke-width="0.7" />
<line x1="260.44" y1="273.1" x2="260.44" y2="274.70000000000005" stroke="#222" stroke-width="0.7" />
<line x1="265.04" y1="273.1" x2="265.04" y2="274.70000000000005" stroke="#222" stroke-width="0.7" />
<line x1="267.37" y1="273.1" x2="267.37" y2="274.70000000000005" stroke="#222" stroke-width="0.7" />
<line x1="269.03" y1="273.1" x2="269.03" y2="274.70000000000005" stroke="#222" stroke-width="0.7" />
<line x1="270.31" y1="273.1" x2="270.31" y2="274.70000000000005" stroke="#222" stroke-width="0.7" />
<line x1="271.36" y1="273.1" x2="271.36" y2="274.70000000000005" stroke="#222" stroke-width="0.7" />
<line x1="272.25" y1="273.1" x2="272.25" y2="274.70000000000005" stroke="#222" stroke-width="0.7" />
<line x1="273.02" y1="273.1" x2="273.02" y2="274.70000000000005" stroke="#222" stroke-width="0.7" />
<line x1="273.69" y1="273.1" x2="273.69" y2="274.70000000000005" stroke="#222" stroke-width="0.7" />
<line x1="278.29" y1="273.1" x2="278.29" y2="274.70000000000005" stroke="#222" stroke-width="0.7" />
<line x1="280.62" y1="273.1" x2="280.62" y2="274.70000000000005" stroke="#222" stroke-width="0.7" />
<line x1="282.28" y1="273.1" x2="282.28" y2="274.70000000000005" stroke="#222" stroke-width="0.7" />
<line x1="283.56" y1="273.1" x2="283.56" y2="274.70000000000005" stroke="#222" stroke-width="0.7" />
<line x1="284.61" y1="273.1" x2="284.61" y2="274.70000000000005" stroke="#222" stroke-width="0.7" />
<line x1="285.5" y1="273.1" x2="285.5" y2="274.70000000000005" stroke="#222" stroke-width="0.7" />
<line x1="286.27" y1="273.1" x2="286.27" y2="274.70000000000005" stroke="#222" stroke-width="0.7" />
<line x1="286.94" y1="273.1" x2="286.94" y2="274.70000000000005" stroke="#222" stroke-width="0.7" />
<line x1="291.54" y1="273.1" x2="291.54" y2="274.70000000000005" stroke="#222" stroke-width="0.7" />
<line x1="293.87" y1="273.1" x2="293.87" y2="274.70000000000005" stroke="#222" stroke-width="0.7" />
<line x1="295.53" y1="273.1" x2="295.53" y2="274.70000000000005" stroke="#222" stroke-width="0.7" />
<line x1="296.81" y1="273.1" x2="296.81" y2="274.70000000000005" stroke="#222" stroke-width="0.7" />
<line x1="297.86" y1="273.1" x2="297.86" y2="274.70000000000005" stroke="#222" stroke-width="0.7" />
<line x1="298.75" y1="273.1" x2="298.75" y2="274.70000000000005" stroke="#222" stroke-width="0.7" />
<line x1="299.52" y1="273.1" x2="299.52" y2="274.70000000000005" stroke="#222" stroke-width="0.7" />
<line x1="300.19" y1="273.1" x2="300.19" y2="274.70000000000005" stroke="#222" stroke-width="0.7" />
<line x1="245.20000000000002" y1="220.2" x2="247.8" y2="220.2" stroke="#111" stroke-width="0.9" />
<line x1="261.05" y1="273.1" x2="261.05" y2="275.70000000000005" stroke="#111" stroke-width="0.9" />
<line x1="245.20000000000002" y1="233.425" x2="247.8" y2="233.425" stroke="#111" stroke-width="0.9" />
<line x1="274.3" y1="273.1" x2="274.3" y2="275.70000000000005" stroke="#111" stroke-width="0.9" />
<line x1="245.20000000000002" y1="246.65" x2="247.8" y2="246.65" stroke="#111" stroke-width="0.9" />
<line x1="287.55" y1="273.1" x2="287.55" y2="275.70000000000005" stroke="#111" stroke-width="0.9" />
<line x1="245.20000000000002" y1="259.875" x2="247.8" y2="259.875" stroke="#111" stroke-width="0.9" />
<line x1="300.8" y1="273.1" x2="300.8" y2="275.70000000000005" stroke="#111" stroke-width="0.9" />
<rect x="247.8" y="220.2" width="53.0" height="52.900000000000034" fill="none" stroke="#111" stroke-width="1.6"/>
<text x="233.58" y="222.09" font-size="6.4" fill="#222" stroke="#222" stroke-width="0.14" textLength="6.60" lengthAdjust="spacingAndGlyphs">10</text>
<text x="240.98" y="218.89" font-size="4.35" fill="#222" stroke="#222" stroke-width="0.1">3</text>
<text x="233.58" y="235.32" font-size="6.4" fill="#222" stroke="#222" stroke-width="0.14" textLength="6.60" lengthAdjust="spacingAndGlyphs">10</text>
<text x="240.98" y="232.12" font-size="4.35" fill="#222" stroke="#222" stroke-width="0.1">2</text>
<text x="233.58" y="248.54" font-size="6.4" fill="#222" stroke="#222" stroke-width="0.14" textLength="6.60" lengthAdjust="spacingAndGlyphs">10</text>
<text x="240.98" y="245.34" font-size="4.35" fill="#222" stroke="#222" stroke-width="0.1">1</text>
<text x="233.58" y="261.77" font-size="6.4" fill="#222" stroke="#222" stroke-width="0.14" textLength="6.60" lengthAdjust="spacingAndGlyphs">10</text>
<text x="240.98" y="258.57" font-size="4.35" fill="#222" stroke="#222" stroke-width="0.1">0</text>
<text x="256.74" y="285.19" font-size="6.4" fill="#222" stroke="#222" stroke-width="0.14" textLength="6.40" lengthAdjust="spacingAndGlyphs">10</text>
<text x="263.94" y="281.99" font-size="4.35" fill="#222" stroke="#222" stroke-width="0.1">0</text>
<text x="269.99" y="285.19" font-size="6.4" fill="#222" stroke="#222" stroke-width="0.14" textLength="6.40" lengthAdjust="spacingAndGlyphs">10</text>
<text x="277.19" y="281.99" font-size="4.35" fill="#222" stroke="#222" stroke-width="0.1">1</text>
<text x="283.24" y="285.19" font-size="6.4" fill="#222" stroke="#222" stroke-width="0.14" textLength="6.40" lengthAdjust="spacingAndGlyphs">10</text>
<text x="290.44" y="281.99" font-size="4.35" fill="#222" stroke="#222" stroke-width="0.1">2</text>
<text x="296.49" y="285.19" font-size="6.4" fill="#222" stroke="#222" stroke-width="0.14" textLength="6.40" lengthAdjust="spacingAndGlyphs">10</text>
<text x="303.69" y="281.99" font-size="4.35" fill="#222" stroke="#222" stroke-width="0.1">3</text>
<polygon points="251.5,228 276.3,228 276.3,235.7 272.6,247.6 251.5,247.6" fill="none" stroke="#5b72a8" stroke-width="0.8"/>
<polygon points="276.3,235.7 295.9,235.7 295.9,252.3 277.4,255.7 272.6,247.6" fill="none" stroke="#5b72a8" stroke-width="0.8"/>
<text x="268" y="227" font-size="5.4" text-anchor="middle" fill="#5b72a8" stroke="#5b72a8" stroke-width="0.04" >29.4</text>
<clipPath id="cf2"><rect x="337.3" y="220.2" width="53.5" height="52.900000000000034"/></clipPath>
<g clip-path="url(#cf2)">
<path d="M369.9 255.5h.01M380.0 258.9h.01M378.5 254.5h.01M368.8 255.5h.01M351.4 265.8h.01M354.2 247.0h.01M376.7 256.5h.01M378.1 271.4h.01M388.6 268.4h.01M361.2 255.2h.01M380.0 254.1h.01M368.8 252.8h.01M383.6 233.8h.01M382.7 265.5h.01M369.3 261.1h.01M360.3 266.0h.01M384.0 255.5h.01M366.6 251.6h.01M368.1 244.7h.01M356.4 271.0h.01M369.8 261.0h.01M373.1 260.3h.01M354.7 247.5h.01M376.3 265.0h.01M358.6 250.8h.01M359.3 261.9h.01M373.4 256.3h.01M363.5 259.1h.01M370.3 249.3h.01M373.3 250.0h.01M379.5 261.6h.01M363.1 261.3h.01M370.7 249.6h.01M360.9 241.0h.01M358.7 259.1h.01M382.1 250.3h.01M371.6 259.1h.01M377.8 260.0h.01M382.3 262.9h.01M362.4 259.6h.01M346.6 254.4h.01M370.2 261.2h.01M367.0 263.5h.01M383.2 248.4h.01M364.6 258.3h.01M374.9 257.3h.01M378.3 245.4h.01M377.8 266.5h.01M381.1 259.8h.01M367.6 259.6h.01M369.3 241.7h.01M363.9 255.6h.01M364.8 247.6h.01M367.7 252.7h.01M370.7 255.6h.01M371.7 264.9h.01M371.4 259.7h.01M357.8 229.5h.01M366.0 262.1h.01M366.6 250.4h.01M357.6 264.0h.01M364.7 258.2h.01M381.3 260.8h.01M379.6 262.2h.01M363.4 256.4h.01M364.4 246.8h.01M373.0 249.0h.01M386.8 249.3h.01M364.6 256.8h.01M364.8 256.5h.01M363.9 243.2h.01M345.9 244.4h.01M385.2 260.0h.01M371.5 251.8h.01M368.5 258.7h.01M356.1 248.8h.01M361.1 267.3h.01M359.4 266.6h.01M369.2 256.3h.01M383.5 263.9h.01M379.4 246.4h.01M381.4 271.1h.01M369.0 251.6h.01M359.1 265.2h.01M372.9 256.1h.01M357.6 270.6h.01M378.8 255.8h.01M384.8 247.4h.01M378.8 247.0h.01M384.1 253.5h.01M382.2 252.3h.01M374.0 266.3h.01M361.0 256.9h.01M361.6 263.7h.01M364.0 252.6h.01M368.0 266.5h.01M359.6 255.8h.01M366.7 251.1h.01M362.1 254.6h.01M372.0 242.1h.01M372.3 245.3h.01M360.3 255.4h.01M367.5 264.8h.01M365.3 239.9h.01M353.9 257.6h.01M372.5 265.6h.01M364.6 262.0h.01M359.4 267.7h.01M369.3 249.9h.01M371.8 271.7h.01M361.5 244.8h.01M359.8 245.6h.01M369.5 259.2h.01M368.4 257.8h.01M381.9 253.4h.01M357.5 235.4h.01M372.4 249.9h.01M367.5 259.7h.01M374.6 241.9h.01M360.4 256.7h.01M368.6 266.3h.01M365.0 237.4h.01M381.7 241.3h.01M360.3 259.5h.01M372.4 260.8h.01M375.4 249.5h.01M382.5 240.8h.01M364.1 258.6h.01M371.4 247.4h.01M385.8 269.2h.01M360.7 259.4h.01M363.7 252.1h.01M379.9 257.1h.01M368.9 256.9h.01M358.3 267.0h.01M362.5 267.8h.01M365.4 251.9h.01M384.9 257.7h.01M363.6 251.2h.01M376.1 252.5h.01M358.8 249.9h.01M368.8 258.2h.01M363.4 267.5h.01M360.4 249.6h.01M375.0 260.3h.01M366.1 264.7h.01M355.9 270.7h.01M370.5 268.0h.01M368.0 257.7h.01M375.2 240.3h.01M367.9 271.5h.01M340.8 259.5h.01M379.2 259.0h.01M371.9 268.5h.01M373.4 239.0h.01M360.6 253.3h.01M371.4 252.0h.01M369.0 271.0h.01M340.7 266.4h.01M379.4 261.4h.01M370.2 256.6h.01M373.6 258.2h.01M362.8 263.0h.01M361.7 255.6h.01M366.4 245.6h.01M376.0 255.4h.01M358.4 255.3h.01M356.2 268.9h.01M364.3 262.3h.01M360.3 248.3h.01M369.1 259.7h.01M379.2 253.6h.01M381.0 264.7h.01M361.3 254.4h.01M360.9 271.3h.01M364.5 263.9h.01M379.1 253.7h.01M365.1 259.1h.01M362.3 244.7h.01M360.4 259.0h.01M371.9 271.8h.01M351.8 260.5h.01M358.5 266.4h.01M376.9 257.1h.01M384.7 252.7h.01M364.7 246.6h.01M363.5 257.0h.01M376.7 267.5h.01M367.3 249.5h.01M366.7 252.2h.01M365.3 252.4h.01M361.3 255.5h.01M364.9 254.5h.01M356.2 257.3h.01M375.7 261.8h.01M364.5 245.8h.01M357.1 245.5h.01M363.6 253.2h.01M352.4 262.0h.01M354.7 249.9h.01M362.8 263.4h.01M388.3 252.8h.01M367.3 252.5h.01M368.0 254.5h.01M368.9 249.0h.01M373.5 251.4h.01M375.7 246.4h.01M352.5 262.2h.01M365.3 245.7h.01M374.4 251.4h.01M377.3 251.1h.01M378.9 257.3h.01M373.5 257.4h.01M366.4 252.8h.01M374.5 262.3h.01M386.7 245.8h.01M380.7 255.4h.01M372.3 249.0h.01M386.3 248.7h.01M369.2 249.6h.01M389.1 267.1h.01M357.0 252.0h.01M373.6 252.2h.01M366.5 246.5h.01M372.5 246.3h.01M366.8 270.6h.01M373.7 250.1h.01M366.6 247.5h.01M371.1 262.2h.01M379.2 253.5h.01M358.2 255.3h.01M386.5 258.5h.01M369.4 237.6h.01M365.7 260.8h.01M360.7 268.0h.01M364.4 248.3h.01M364.3 255.2h.01M379.9 251.0h.01M352.4 255.3h.01M375.2 269.6h.01M358.9 269.1h.01M376.7 260.0h.01M362.4 248.2h.01M360.6 264.3h.01M372.2 265.5h.01M387.9 256.2h.01M357.2 252.1h.01M366.4 252.7h.01M371.4 248.6h.01M381.4 244.0h.01M362.0 241.1h.01M356.2 261.2h.01M376.2 254.3h.01M378.3 261.5h.01M364.3 255.7h.01M365.7 259.3h.01M375.4 266.8h.01M374.2 265.5h.01M359.5 253.7h.01M351.0 255.6h.01M370.9 258.4h.01M371.4 244.4h.01M363.2 254.5h.01M371.7 248.4h.01M369.0 249.6h.01M357.0 250.3h.01M362.1 263.4h.01M383.2 261.2h.01M367.9 251.2h.01M354.6 251.4h.01M385.4 266.2h.01M372.2 253.9h.01M370.0 259.8h.01M369.9 259.8h.01M362.4 256.5h.01M366.6 265.5h.01M357.8 267.5h.01M369.2 251.6h.01M370.2 257.1h.01M367.7 259.8h.01M364.3 241.2h.01M376.8 255.8h.01M386.4 259.5h.01M350.3 267.0h.01M363.2 260.9h.01M359.3 255.3h.01M354.2 261.9h.01M375.5 247.1h.01M374.5 264.3h.01M377.9 250.2h.01M363.2 246.2h.01M357.3 258.8h.01M370.4 267.5h.01M372.7 253.2h.01M356.0 269.6h.01M371.6 255.8h.01M360.1 246.9h.01M376.2 247.5h.01M375.7 261.6h.01M366.3 241.9h.01M374.0 268.4h.01M361.9 245.0h.01M380.7 257.3h.01M363.9 266.8h.01M367.3 260.0h.01M366.1 249.5h.01M372.2 248.6h.01M352.6 251.4h.01M382.1 265.7h.01M385.8 258.3h.01M365.7 260.2h.01M360.7 262.5h.01M365.6 258.3h.01M361.6 254.9h.01M379.6 254.2h.01M363.4 258.6h.01M378.6 254.5h.01M358.5 242.5h.01M356.9 265.4h.01M369.1 260.3h.01M380.5 258.6h.01M374.7 251.7h.01M354.2 261.6h.01M369.1 261.1h.01M359.6 254.9h.01M389.8 248.8h.01M371.0 267.5h.01M367.7 257.2h.01M349.1 262.9h.01M365.7 267.3h.01M369.1 252.9h.01M374.3 254.0h.01M365.0 269.5h.01M379.6 257.1h.01M377.9 263.3h.01M375.7 256.5h.01M370.7 259.7h.01M375.5 259.2h.01M364.6 255.5h.01M374.5 247.6h.01M369.9 262.7h.01M371.7 253.6h.01M369.8 251.9h.01M379.6 252.9h.01M353.7 245.7h.01M372.9 257.9h.01M365.4 244.8h.01M368.5 248.9h.01M363.6 256.1h.01M362.5 258.8h.01M362.8 252.1h.01M367.8 268.8h.01M385.4 264.3h.01M362.8 256.2h.01M378.9 263.1h.01M354.1 255.7h.01M362.8 262.6h.01M376.2 251.5h.01M364.8 252.1h.01M384.4 255.8h.01M374.7 245.3h.01M387.5 264.6h.01M373.5 262.2h.01M365.1 252.1h.01M354.6 259.3h.01M382.1 263.5h.01M379.0 262.2h.01M361.0 244.9h.01M376.3 257.6h.01M379.6 253.8h.01M361.4 260.0h.01M364.6 242.1h.01M364.0 248.6h.01M359.1 251.4h.01M386.9 252.6h.01M381.2 255.5h.01M373.9 250.3h.01M369.3 241.8h.01M387.5 249.6h.01M375.7 251.1h.01M372.6 246.1h.01M366.3 264.0h.01M375.8 239.5h.01M378.3 244.9h.01M372.8 260.6h.01M363.7 253.4h.01M367.6 259.6h.01M378.9 267.8h.01M360.7 271.4h.01M367.4 262.7h.01M368.8 256.9h.01M361.0 259.5h.01M389.8 257.4h.01M369.8 256.2h.01M377.0 254.4h.01M370.0 258.0h.01M382.8 264.3h.01M359.7 250.7h.01M370.2 263.4h.01M379.5 254.4h.01M383.8 268.3h.01M385.6 257.9h.01M375.6 243.1h.01M352.6 250.9h.01M377.0 265.2h.01M369.0 265.0h.01M375.7 269.2h.01M354.4 249.1h.01M360.6 247.2h.01M386.1 248.2h.01M361.9 252.7h.01M378.7 252.2h.01M377.2 260.9h.01M363.7 235.9h.01M361.0 245.5h.01M386.0 250.0h.01M359.5 259.4h.01M370.5 248.1h.01M380.7 264.0h.01M372.7 249.7h.01M361.5 238.6h.01M373.8 259.5h.01M361.0 256.4h.01M353.3 261.4h.01M365.8 251.9h.01M376.1 255.0h.01M379.7 260.5h.01M381.4 257.2h.01M348.9 267.7h.01M353.3 265.0h.01M372.5 244.3h.01M370.7 263.7h.01M360.0 256.5h.01M362.8 247.5h.01M363.9 267.0h.01M376.7 255.9h.01M369.2 257.2h.01M372.8 257.7h.01M353.2 264.0h.01M361.6 233.8h.01M376.9 245.8h.01M368.6 255.3h.01M364.2 260.7h.01M367.3 253.7h.01M360.6 253.7h.01M359.8 256.5h.01M383.0 264.7h.01M374.2 244.4h.01M380.1 264.1h.01M370.2 253.2h.01M380.7 246.8h.01M379.8 239.0h.01M370.2 267.8h.01M363.9 261.2h.01M371.0 243.6h.01M363.8 265.8h.01M381.6 250.9h.01M381.1 250.0h.01M372.4 255.9h.01M357.7 258.8h.01M366.2 232.6h.01M361.9 248.8h.01M361.8 247.7h.01M363.2 235.1h.01M378.8 256.7h.01M372.5 253.8h.01M370.6 253.8h.01M359.3 243.0h.01M370.7 264.8h.01M372.3 269.9h.01M356.6 253.8h.01M363.9 266.6h.01M386.7 251.6h.01M377.2 254.0h.01M360.2 255.1h.01M359.8 269.4h.01M375.8 266.3h.01M373.5 235.2h.01M377.9 256.8h.01M346.6 256.9h.01M379.9 270.7h.01M359.9 262.8h.01M373.3 254.6h.01M367.2 260.6h.01M375.7 261.7h.01M366.0 244.7h.01M383.0 267.2h.01M364.4 255.8h.01M377.9 240.9h.01M372.7 250.0h.01M372.1 252.4h.01M371.8 240.6h.01M357.4 243.3h.01M378.9 255.2h.01M381.3 238.5h.01M364.1 268.6h.01M362.2 240.0h.01M362.7 253.1h.01M369.9 267.3h.01M383.1 269.4h.01M375.7 251.7h.01M365.1 243.3h.01M382.5 266.8h.01M370.9 248.3h.01M376.6 260.2h.01M371.5 246.0h.01M372.4 251.1h.01M377.3 261.2h.01M374.3 252.3h.01M385.0 262.7h.01M382.5 263.3h.01M376.5 259.4h.01M359.5 240.3h.01M360.8 261.3h.01M379.0 257.6h.01M370.9 271.8h.01M366.1 240.6h.01M354.8 253.2h.01M376.9 262.4h.01" stroke="#8a8a8a" stroke-opacity="0.45" stroke-width="0.76" stroke-linecap="round" fill="none"/>
<ellipse cx="377" cy="272.6" rx="8" ry="1.3" fill="#1a1a1a" filter="url(#bl2)"/>
<path d="M359.25,254.90 C359.77,252.36 362.23,248.69 364.50,247.03 C366.77,245.36 370.10,245.10 372.90,244.93 C375.70,244.75 378.94,245.01 381.30,245.97 C383.66,246.94 386.11,248.34 387.07,250.70 C388.04,253.06 387.60,257.44 387.07,260.15 C386.55,262.86 385.76,265.40 383.93,266.98 C382.09,268.55 378.94,269.43 376.05,269.60 C373.16,269.78 369.05,269.25 366.60,268.02 C364.15,266.80 362.58,264.44 361.35,262.25 C360.12,260.06 358.73,257.44 359.25,254.90Z" fill="#ccc" fill-opacity="0.35" filter="url(#bl)"/>
<path d="M360.00,255.00 C360.50,252.58 362.83,249.08 365.00,247.50 C367.17,245.92 370.33,245.67 373.00,245.50 C375.67,245.33 378.75,245.58 381.00,246.50 C383.25,247.42 385.58,248.75 386.50,251.00 C387.42,253.25 387.00,257.42 386.50,260.00 C386.00,262.58 385.25,265.00 383.50,266.50 C381.75,268.00 378.75,268.83 376.00,269.00 C373.25,269.17 369.33,268.67 367.00,267.50 C364.67,266.33 363.17,264.08 362.00,262.00 C360.83,259.92 359.50,257.42 360.00,255.00Z" fill="#f0f0f0" fill-opacity="0.55" stroke="#999" stroke-width="0.45"/>
<path d="M361.50,255.20 C361.95,253.02 364.05,249.88 366.00,248.45 C367.95,247.02 370.80,246.80 373.20,246.65 C375.60,246.50 378.38,246.73 380.40,247.55 C382.42,248.38 384.53,249.57 385.35,251.60 C386.18,253.62 385.80,257.38 385.35,259.70 C384.90,262.02 384.22,264.20 382.65,265.55 C381.07,266.90 378.38,267.65 375.90,267.80 C373.42,267.95 369.90,267.50 367.80,266.45 C365.70,265.40 364.35,263.38 363.30,261.50 C362.25,259.62 361.05,257.38 361.50,255.20Z" fill="#e6e6e6" fill-opacity="0.55" stroke="#888" stroke-width="0.4"/>
<path d="M363.00,255.40 C363.40,253.47 365.27,250.67 367.00,249.40 C368.73,248.13 371.27,247.93 373.40,247.80 C375.53,247.67 378.00,247.87 379.80,248.60 C381.60,249.33 383.47,250.40 384.20,252.20 C384.93,254.00 384.60,257.33 384.20,259.40 C383.80,261.47 383.20,263.40 381.80,264.60 C380.40,265.80 378.00,266.47 375.80,266.60 C373.60,266.73 370.47,266.33 368.60,265.40 C366.73,264.47 365.53,262.67 364.60,261.00 C363.67,259.33 362.60,257.33 363.00,255.40Z" fill="#dcdcdc" fill-opacity="0.55" stroke="#999" stroke-width="0.4"/>
<path d="M381.00,260.10 C381.00,261.03 380.70,262.09 380.20,262.90 C379.70,263.71 378.87,264.48 378.00,264.95 C377.13,265.42 376.00,265.70 375.00,265.70 C374.00,265.70 372.87,265.42 372.00,264.95 C371.13,264.48 370.30,263.71 369.80,262.90 C369.30,262.09 369.00,261.03 369.00,260.10 C369.00,259.17 369.30,258.11 369.80,257.30 C370.30,256.49 371.13,255.72 372.00,255.25 C372.87,254.78 374.00,254.50 375.00,254.50 C376.00,254.50 377.13,254.78 378.00,255.25 C378.87,255.72 379.70,256.49 380.20,257.30 C380.70,258.11 381.00,259.17 381.00,260.10Z" fill="#cfcfcf" fill-opacity="0.9" stroke="#555" stroke-width="0.5"/>
<path d="M380.28,260.10 C380.28,260.92 380.01,261.85 379.57,262.56 C379.13,263.28 378.40,263.96 377.64,264.37 C376.88,264.78 375.88,265.03 375.00,265.03 C374.12,265.03 373.12,264.78 372.36,264.37 C371.60,263.96 370.87,263.28 370.43,262.56 C369.99,261.85 369.72,260.92 369.72,260.10 C369.72,259.28 369.99,258.35 370.43,257.64 C370.87,256.92 371.60,256.24 372.36,255.83 C373.12,255.42 374.12,255.17 375.00,255.17 C375.88,255.17 376.88,255.42 377.64,255.83 C378.40,256.24 379.13,256.92 379.57,257.64 C380.01,258.35 380.28,259.28 380.28,260.10Z" fill="#9a9a9a" fill-opacity="0.95" stroke="#0a0a0a" stroke-width="1.2"/>
<path d="M378.96,260.10 C378.96,260.72 378.76,261.41 378.43,261.95 C378.10,262.48 377.55,262.99 376.98,263.30 C376.41,263.61 375.66,263.80 375.00,263.80 C374.34,263.80 373.59,263.61 373.02,263.30 C372.45,262.99 371.90,262.48 371.57,261.95 C371.24,261.41 371.04,260.72 371.04,260.10 C371.04,259.48 371.24,258.79 371.57,258.25 C371.90,257.72 372.45,257.21 373.02,256.90 C373.59,256.59 374.34,256.40 375.00,256.40 C375.66,256.40 376.41,256.59 376.98,256.90 C377.55,257.21 378.10,257.72 378.43,258.25 C378.76,258.79 378.96,259.48 378.96,260.10Z" fill="#b0b0b0" fill-opacity="1" stroke="#444" stroke-width="0.45"/>
<path d="M377.70,260.10 C377.70,260.52 377.56,261.00 377.34,261.36 C377.11,261.72 376.74,262.07 376.35,262.28 C375.96,262.49 375.45,262.62 375.00,262.62 C374.55,262.62 374.04,262.49 373.65,262.28 C373.26,262.07 372.89,261.72 372.66,261.36 C372.44,261.00 372.30,260.52 372.30,260.10 C372.30,259.68 372.44,259.20 372.66,258.84 C372.89,258.48 373.26,258.13 373.65,257.92 C374.04,257.71 374.55,257.58 375.00,257.58 C375.45,257.58 375.96,257.71 376.35,257.92 C376.74,258.13 377.11,258.48 377.34,258.84 C377.56,259.20 377.70,259.68 377.70,260.10Z" fill="#cfcfcf" fill-opacity="1" stroke="#888" stroke-width="0.4"/>
<path d="M376.50,260.10 C376.50,260.33 376.42,260.60 376.30,260.80 C376.17,261.00 375.97,261.20 375.75,261.31 C375.53,261.43 375.25,261.50 375.00,261.50 C374.75,261.50 374.47,261.43 374.25,261.31 C374.03,261.20 373.83,261.00 373.70,260.80 C373.58,260.60 373.50,260.33 373.50,260.10 C373.50,259.87 373.58,259.60 373.70,259.40 C373.83,259.20 374.03,259.00 374.25,258.89 C374.47,258.77 374.75,258.70 375.00,258.70 C375.25,258.70 375.53,258.77 375.75,258.89 C375.97,259.00 376.17,259.20 376.30,259.40 C376.42,259.60 376.50,259.87 376.50,260.10Z" fill="#eeeeee" fill-opacity="1" stroke="none"/>
<path d="M358.63,240.65 C359.88,240.55 361.22,242.38 362.08,244.10 C362.95,245.82 363.81,248.80 363.81,251.00 C363.81,253.20 363.14,255.79 362.08,257.32 C361.03,258.86 359.02,260.20 357.49,260.20 C355.95,260.20 353.84,258.86 352.88,257.32 C351.93,255.79 351.45,253.11 351.74,251.00 C352.02,248.89 353.46,246.40 354.61,244.68 C355.76,242.95 357.39,240.75 358.63,240.65Z" fill="#999" fill-opacity="0.55" filter="url(#bl)"/>
<path d="M358.50,242.00 C359.58,241.92 360.75,243.50 361.50,245.00 C362.25,246.50 363.00,249.08 363.00,251.00 C363.00,252.92 362.42,255.17 361.50,256.50 C360.58,257.83 358.83,259.00 357.50,259.00 C356.17,259.00 354.33,257.83 353.50,256.50 C352.67,255.17 352.25,252.83 352.50,251.00 C352.75,249.17 354.00,247.00 355.00,245.50 C356.00,244.00 357.42,242.08 358.50,242.00Z" fill="#dddddd" fill-opacity="0.9" stroke="#666" stroke-width="0.5"/>
<path d="M358.37,243.26 C359.31,243.19 360.31,244.55 360.95,245.84 C361.60,247.13 362.24,249.35 362.24,251.00 C362.24,252.65 361.74,254.58 360.95,255.73 C360.17,256.88 358.66,257.88 357.51,257.88 C356.37,257.88 354.79,256.88 354.07,255.73 C353.36,254.58 353.00,252.58 353.21,251.00 C353.43,249.42 354.50,247.56 355.36,246.27 C356.22,244.98 357.44,243.33 358.37,243.26Z" fill="#bdbdbd" fill-opacity="0.9" stroke="#444" stroke-width="0.5"/>
<path d="M358.25,244.52 C359.03,244.46 359.87,245.60 360.41,246.68 C360.95,247.76 361.49,249.62 361.49,251.00 C361.49,252.38 361.07,254.00 360.41,254.96 C359.75,255.92 358.49,256.76 357.53,256.76 C356.57,256.76 355.25,255.92 354.65,254.96 C354.05,254.00 353.75,252.32 353.93,251.00 C354.11,249.68 355.01,248.12 355.73,247.04 C356.45,245.96 357.47,244.58 358.25,244.52Z" fill="#8c8c8c" fill-opacity="0.95" stroke="#0a0a0a" stroke-width="1.1"/>
<path d="M358.07,246.32 C358.63,246.28 359.24,247.10 359.63,247.88 C360.02,248.66 360.41,250.00 360.41,251.00 C360.41,252.00 360.10,253.17 359.63,253.86 C359.15,254.55 358.24,255.16 357.55,255.16 C356.85,255.16 355.90,254.55 355.47,253.86 C355.03,253.17 354.82,251.95 354.95,251.00 C355.08,250.05 355.73,248.92 356.25,248.14 C356.77,247.36 357.50,246.36 358.07,246.32Z" fill="#9a9a9a" fill-opacity="1" stroke="#333" stroke-width="0.45"/>
<path d="M357.91,247.94 C358.27,247.91 358.67,248.45 358.93,248.96 C359.18,249.47 359.44,250.35 359.44,251.00 C359.44,251.65 359.24,252.42 358.93,252.87 C358.61,253.32 358.02,253.72 357.57,253.72 C357.11,253.72 356.49,253.32 356.21,252.87 C355.92,252.42 355.78,251.62 355.87,251.00 C355.95,250.38 356.38,249.64 356.72,249.13 C357.06,248.62 357.54,247.97 357.91,247.94Z" fill="#c4c4c4" fill-opacity="1" stroke="#666" stroke-width="0.4"/>
<path d="M357.76,249.38 C357.96,249.37 358.17,249.65 358.30,249.92 C358.44,250.19 358.57,250.66 358.57,251.00 C358.57,251.34 358.47,251.75 358.30,251.99 C358.14,252.23 357.82,252.44 357.58,252.44 C357.34,252.44 357.01,252.23 356.86,251.99 C356.71,251.75 356.64,251.33 356.68,251.00 C356.73,250.67 356.95,250.28 357.13,250.01 C357.31,249.74 357.57,249.39 357.76,249.38Z" fill="#eeeeee" fill-opacity="1" stroke="none"/>
</g>
<line x1="335.7" y1="229.44" x2="337.3" y2="229.44" stroke="#222" stroke-width="0.7" />
<line x1="335.7" y1="227.12" x2="337.3" y2="227.12" stroke="#222" stroke-width="0.7" />
<line x1="335.7" y1="225.46" x2="337.3" y2="225.46" stroke="#222" stroke-width="0.7" />
<line x1="335.7" y1="224.18" x2="337.3" y2="224.18" stroke="#222" stroke-width="0.7" />
<line x1="335.7" y1="223.13" x2="337.3" y2="223.13" stroke="#222" stroke-width="0.7" />
<line x1="335.7" y1="222.25" x2="337.3" y2="222.25" stroke="#222" stroke-width="0.7" />
<line x1="335.7" y1="221.48" x2="337.3" y2="221.48" stroke="#222" stroke-width="0.7" />
<line x1="335.7" y1="220.81" x2="337.3" y2="220.81" stroke="#222" stroke-width="0.7" />
<line x1="335.7" y1="242.67" x2="337.3" y2="242.67" stroke="#222" stroke-width="0.7" />
<line x1="335.7" y1="240.34" x2="337.3" y2="240.34" stroke="#222" stroke-width="0.7" />
<line x1="335.7" y1="238.69" x2="337.3" y2="238.69" stroke="#222" stroke-width="0.7" />
<line x1="335.7" y1="237.41" x2="337.3" y2="237.41" stroke="#222" stroke-width="0.7" />
<line x1="335.7" y1="236.36" x2="337.3" y2="236.36" stroke="#222" stroke-width="0.7" />
<line x1="335.7" y1="235.47" x2="337.3" y2="235.47" stroke="#222" stroke-width="0.7" />
<line x1="335.7" y1="234.71" x2="337.3" y2="234.71" stroke="#222" stroke-width="0.7" />
<line x1="335.7" y1="234.03" x2="337.3" y2="234.03" stroke="#222" stroke-width="0.7" />
<line x1="335.7" y1="255.89" x2="337.3" y2="255.89" stroke="#222" stroke-width="0.7" />
<line x1="335.7" y1="253.57" x2="337.3" y2="253.57" stroke="#222" stroke-width="0.7" />
<line x1="335.7" y1="251.91" x2="337.3" y2="251.91" stroke="#222" stroke-width="0.7" />
<line x1="335.7" y1="250.63" x2="337.3" y2="250.63" stroke="#222" stroke-width="0.7" />
<line x1="335.7" y1="249.58" x2="337.3" y2="249.58" stroke="#222" stroke-width="0.7" />
<line x1="335.7" y1="248.7" x2="337.3" y2="248.7" stroke="#222" stroke-width="0.7" />
<line x1="335.7" y1="247.93" x2="337.3" y2="247.93" stroke="#222" stroke-width="0.7" />
<line x1="335.7" y1="247.26" x2="337.3" y2="247.26" stroke="#222" stroke-width="0.7" />
<line x1="335.7" y1="269.12" x2="337.3" y2="269.12" stroke="#222" stroke-width="0.7" />
<line x1="335.7" y1="266.79" x2="337.3" y2="266.79" stroke="#222" stroke-width="0.7" />
<line x1="335.7" y1="265.14" x2="337.3" y2="265.14" stroke="#222" stroke-width="0.7" />
<line x1="335.7" y1="263.86" x2="337.3" y2="263.86" stroke="#222" stroke-width="0.7" />
<line x1="335.7" y1="262.81" x2="337.3" y2="262.81" stroke="#222" stroke-width="0.7" />
<line x1="335.7" y1="261.92" x2="337.3" y2="261.92" stroke="#222" stroke-width="0.7" />
<line x1="335.7" y1="261.16" x2="337.3" y2="261.16" stroke="#222" stroke-width="0.7" />
<line x1="335.7" y1="260.48" x2="337.3" y2="260.48" stroke="#222" stroke-width="0.7" />
<line x1="341.33" y1="273.1" x2="341.33" y2="274.70000000000005" stroke="#222" stroke-width="0.7" />
<line x1="343.68" y1="273.1" x2="343.68" y2="274.70000000000005" stroke="#222" stroke-width="0.7" />
<line x1="345.35" y1="273.1" x2="345.35" y2="274.70000000000005" stroke="#222" stroke-width="0.7" />
<line x1="346.65" y1="273.1" x2="346.65" y2="274.70000000000005" stroke="#222" stroke-width="0.7" />
<line x1="347.71" y1="273.1" x2="347.71" y2="274.70000000000005" stroke="#222" stroke-width="0.7" />
<line x1="348.6" y1="273.1" x2="348.6" y2="274.70000000000005" stroke="#222" stroke-width="0.7" />
<line x1="349.38" y1="273.1" x2="349.38" y2="274.70000000000005" stroke="#222" stroke-width="0.7" />
<line x1="350.06" y1="273.1" x2="350.06" y2="274.70000000000005" stroke="#222" stroke-width="0.7" />
<line x1="354.7" y1="273.1" x2="354.7" y2="274.70000000000005" stroke="#222" stroke-width="0.7" />
<line x1="357.06" y1="273.1" x2="357.06" y2="274.70000000000005" stroke="#222" stroke-width="0.7" />
<line x1="358.73" y1="273.1" x2="358.73" y2="274.70000000000005" stroke="#222" stroke-width="0.7" />
<line x1="360.02" y1="273.1" x2="360.02" y2="274.70000000000005" stroke="#222" stroke-width="0.7" />
<line x1="361.08" y1="273.1" x2="361.08" y2="274.70000000000005" stroke="#222" stroke-width="0.7" />
<line x1="361.98" y1="273.1" x2="361.98" y2="274.70000000000005" stroke="#222" stroke-width="0.7" />
<line x1="362.75" y1="273.1" x2="362.75" y2="274.70000000000005" stroke="#222" stroke-width="0.7" />
<line x1="363.44" y1="273.1" x2="363.44" y2="274.70000000000005" stroke="#222" stroke-width="0.7" />
<line x1="368.08" y1="273.1" x2="368.08" y2="274.70000000000005" stroke="#222" stroke-width="0.7" />
<line x1="370.43" y1="273.1" x2="370.43" y2="274.70000000000005" stroke="#222" stroke-width="0.7" />
<line x1="372.1" y1="273.1" x2="372.1" y2="274.70000000000005" stroke="#222" stroke-width="0.7" />
<line x1="373.4" y1="273.1" x2="373.4" y2="274.70000000000005" stroke="#222" stroke-width="0.7" />
<line x1="374.46" y1="273.1" x2="374.46" y2="274.70000000000005" stroke="#222" stroke-width="0.7" />
<line x1="375.35" y1="273.1" x2="375.35" y2="274.70000000000005" stroke="#222" stroke-width="0.7" />
<line x1="376.13" y1="273.1" x2="376.13" y2="274.70000000000005" stroke="#222" stroke-width="0.7" />
<line x1="376.81" y1="273.1" x2="376.81" y2="274.70000000000005" stroke="#222" stroke-width="0.7" />
<line x1="381.45" y1="273.1" x2="381.45" y2="274.70000000000005" stroke="#222" stroke-width="0.7" />
<line x1="383.81" y1="273.1" x2="383.81" y2="274.70000000000005" stroke="#222" stroke-width="0.7" />
<line x1="385.48" y1="273.1" x2="385.48" y2="274.70000000000005" stroke="#222" stroke-width="0.7" />
<line x1="386.77" y1="273.1" x2="386.77" y2="274.70000000000005" stroke="#222" stroke-width="0.7" />
<line x1="387.83" y1="273.1" x2="387.83" y2="274.70000000000005" stroke="#222" stroke-width="0.7" />
<line x1="388.73" y1="273.1" x2="388.73" y2="274.70000000000005" stroke="#222" stroke-width="0.7" />
<line x1="389.5" y1="273.1" x2="389.5" y2="274.70000000000005" stroke="#222" stroke-width="0.7" />
<line x1="390.19" y1="273.1" x2="390.19" y2="274.70000000000005" stroke="#222" stroke-width="0.7" />
<line x1="334.7" y1="220.2" x2="337.3" y2="220.2" stroke="#111" stroke-width="0.9" />
<line x1="350.675" y1="273.1" x2="350.675" y2="275.70000000000005" stroke="#111" stroke-width="0.9" />
<line x1="334.7" y1="233.425" x2="337.3" y2="233.425" stroke="#111" stroke-width="0.9" />
<line x1="364.05" y1="273.1" x2="364.05" y2="275.70000000000005" stroke="#111" stroke-width="0.9" />
<line x1="334.7" y1="246.65" x2="337.3" y2="246.65" stroke="#111" stroke-width="0.9" />
<line x1="377.425" y1="273.1" x2="377.425" y2="275.70000000000005" stroke="#111" stroke-width="0.9" />
<line x1="334.7" y1="259.875" x2="337.3" y2="259.875" stroke="#111" stroke-width="0.9" />
<line x1="390.8" y1="273.1" x2="390.8" y2="275.70000000000005" stroke="#111" stroke-width="0.9" />
<rect x="337.3" y="220.2" width="53.5" height="52.900000000000034" fill="none" stroke="#111" stroke-width="1.6"/>
<text x="323.08" y="222.09" font-size="6.4" fill="#222" stroke="#222" stroke-width="0.14" textLength="6.60" lengthAdjust="spacingAndGlyphs">10</text>
<text x="330.48" y="218.89" font-size="4.35" fill="#222" stroke="#222" stroke-width="0.1">3</text>
<text x="323.08" y="235.32" font-size="6.4" fill="#222" stroke="#222" stroke-width="0.14" textLength="6.60" lengthAdjust="spacingAndGlyphs">10</text>
<text x="330.48" y="232.12" font-size="4.35" fill="#222" stroke="#222" stroke-width="0.1">2</text>
<text x="323.08" y="248.54" font-size="6.4" fill="#222" stroke="#222" stroke-width="0.14" textLength="6.60" lengthAdjust="spacingAndGlyphs">10</text>
<text x="330.48" y="245.34" font-size="4.35" fill="#222" stroke="#222" stroke-width="0.1">1</text>
<text x="323.08" y="261.77" font-size="6.4" fill="#222" stroke="#222" stroke-width="0.14" textLength="6.60" lengthAdjust="spacingAndGlyphs">10</text>
<text x="330.48" y="258.57" font-size="4.35" fill="#222" stroke="#222" stroke-width="0.1">0</text>
<text x="346.37" y="285.19" font-size="6.4" fill="#222" stroke="#222" stroke-width="0.14" textLength="6.40" lengthAdjust="spacingAndGlyphs">10</text>
<text x="353.57" y="281.99" font-size="4.35" fill="#222" stroke="#222" stroke-width="0.1">0</text>
<text x="359.74" y="285.19" font-size="6.4" fill="#222" stroke="#222" stroke-width="0.14" textLength="6.40" lengthAdjust="spacingAndGlyphs">10</text>
<text x="366.94" y="281.99" font-size="4.35" fill="#222" stroke="#222" stroke-width="0.1">1</text>
<text x="373.12" y="285.19" font-size="6.4" fill="#222" stroke="#222" stroke-width="0.14" textLength="6.40" lengthAdjust="spacingAndGlyphs">10</text>
<text x="380.32" y="281.99" font-size="4.35" fill="#222" stroke="#222" stroke-width="0.1">2</text>
<text x="386.49" y="285.19" font-size="6.4" fill="#222" stroke="#222" stroke-width="0.14" textLength="6.40" lengthAdjust="spacingAndGlyphs">10</text>
<text x="393.69" y="281.99" font-size="4.35" fill="#222" stroke="#222" stroke-width="0.1">3</text>
<rect x="346.3" y="231" width="18.5" height="27.9" fill="none" stroke="#5b72a8" stroke-width="0.8"/>
<text x="358.8" y="230" font-size="5.4" text-anchor="middle" fill="#5b72a8" stroke="#5b72a8" stroke-width="0.04" >28.2</text>
<clipPath id="cf3"><rect x="247.8" y="296.2" width="53.0" height="52.900000000000034"/></clipPath>
<g clip-path="url(#cf3)">
<path d="M279.8 323.5h.01M281.5 313.2h.01M278.3 323.1h.01M291.4 310.5h.01M272.3 318.8h.01M269.7 320.8h.01M287.0 313.9h.01M281.7 321.3h.01M264.9 317.9h.01M287.9 324.2h.01M293.4 317.5h.01M267.9 327.0h.01M289.6 313.7h.01M292.2 325.0h.01M280.6 302.2h.01M277.4 312.9h.01M273.8 317.5h.01M271.4 320.6h.01M292.2 314.4h.01M287.3 317.2h.01M294.6 313.2h.01M289.2 312.8h.01M284.2 317.9h.01M292.7 307.4h.01M268.8 327.3h.01M285.8 329.4h.01M271.9 319.4h.01M287.9 329.9h.01M281.5 315.0h.01M289.0 317.3h.01M274.7 323.1h.01M263.4 311.2h.01M295.3 314.7h.01M278.8 320.5h.01M293.0 321.5h.01M272.6 314.2h.01M292.3 317.2h.01M275.8 323.9h.01M293.2 332.6h.01M271.5 313.3h.01M275.2 320.4h.01M277.3 325.5h.01M255.7 324.5h.01M275.7 316.2h.01M287.6 319.4h.01M272.1 328.1h.01M287.6 314.7h.01M284.0 310.6h.01M270.0 316.0h.01M285.6 318.7h.01M274.4 308.7h.01M265.6 328.7h.01M285.6 312.6h.01M293.6 321.6h.01M278.0 313.9h.01M293.1 320.2h.01M298.0 320.4h.01M276.3 314.0h.01M275.1 319.7h.01M284.5 322.1h.01M286.4 311.0h.01M280.0 311.7h.01M286.7 309.2h.01M276.3 312.2h.01M276.0 316.3h.01M296.7 316.3h.01M268.0 316.0h.01M289.3 321.7h.01M284.3 331.4h.01M292.8 318.6h.01M293.8 309.0h.01M280.4 312.2h.01M283.7 328.9h.01M277.2 328.7h.01M272.1 327.6h.01M265.5 312.3h.01M291.7 317.4h.01M283.4 317.9h.01M283.8 316.8h.01M272.5 316.1h.01M283.1 312.0h.01M286.5 329.8h.01M266.0 314.3h.01M279.3 318.1h.01M282.9 313.1h.01M281.7 318.0h.01M281.2 328.3h.01M283.3 308.1h.01M266.8 322.0h.01M278.7 313.8h.01M268.8 315.9h.01M281.1 313.4h.01M278.6 324.0h.01M289.6 321.7h.01M280.3 308.9h.01M289.5 328.0h.01M294.4 325.8h.01M284.7 320.5h.01M281.9 326.4h.01M279.4 332.4h.01M289.6 315.8h.01M282.0 307.2h.01M274.9 316.0h.01M290.9 318.5h.01M279.1 322.2h.01M262.6 324.3h.01M281.4 319.1h.01M288.4 314.7h.01M283.2 321.4h.01M278.6 320.6h.01M285.2 322.8h.01M272.4 314.4h.01M277.9 326.0h.01M284.4 306.9h.01M269.6 331.0h.01M285.3 309.3h.01M273.2 319.0h.01M295.9 328.9h.01M278.5 316.0h.01M297.2 320.3h.01M282.9 326.6h.01M286.7 312.4h.01M267.2 318.1h.01M287.0 327.2h.01M256.6 327.0h.01M288.0 328.2h.01M289.7 319.4h.01M286.2 320.7h.01M275.9 317.2h.01M283.2 315.0h.01M267.8 308.3h.01M286.9 321.5h.01M283.1 310.1h.01M290.3 315.4h.01M261.9 328.5h.01M267.5 333.2h.01M287.2 315.0h.01M259.2 313.3h.01M296.4 327.1h.01M284.5 306.5h.01M278.3 316.1h.01M286.5 317.2h.01M285.4 307.0h.01M275.8 327.7h.01M267.9 324.2h.01M268.5 326.4h.01M264.0 320.3h.01M278.0 326.3h.01M293.4 319.3h.01M299.4 324.6h.01M277.4 311.4h.01M286.0 317.2h.01M277.4 307.2h.01M280.6 317.2h.01M291.5 314.5h.01M266.8 310.8h.01M281.6 319.7h.01M289.0 315.4h.01M287.2 319.0h.01M298.4 317.6h.01M283.4 321.8h.01M293.8 311.8h.01M277.4 316.2h.01M261.3 326.8h.01M292.4 318.2h.01M290.8 308.5h.01M296.9 320.8h.01M270.4 318.4h.01M289.3 324.6h.01M283.7 314.5h.01M289.4 312.9h.01M281.3 323.1h.01M268.0 320.5h.01M263.0 311.7h.01M270.0 317.4h.01M288.9 317.7h.01M290.9 318.7h.01M280.0 321.3h.01M279.7 318.9h.01M292.1 314.2h.01M293.2 310.5h.01M279.9 306.3h.01M276.8 328.7h.01M285.5 326.6h.01M267.7 311.2h.01M286.5 323.6h.01M290.1 306.7h.01M287.0 317.5h.01M283.2 321.2h.01M279.3 306.6h.01M271.6 308.2h.01M269.2 317.1h.01M294.7 313.2h.01M274.6 310.2h.01M265.2 318.5h.01M277.3 316.4h.01M272.7 321.3h.01M270.3 321.7h.01M275.6 323.3h.01M273.4 321.0h.01M286.3 317.5h.01M297.9 319.2h.01M273.4 322.7h.01M274.0 314.3h.01M282.1 319.2h.01M298.6 306.2h.01M279.5 325.6h.01M280.4 320.2h.01M296.9 309.7h.01M282.4 323.4h.01M276.3 306.2h.01M272.3 319.3h.01M283.8 330.5h.01M294.9 307.5h.01M292.1 324.2h.01M297.8 317.0h.01M276.6 319.0h.01M297.1 322.2h.01M298.5 323.3h.01M276.3 311.2h.01M278.6 315.9h.01M273.1 314.1h.01M282.1 334.1h.01M281.4 314.5h.01M283.2 324.4h.01M274.1 315.3h.01M265.0 322.8h.01M288.6 328.2h.01M270.3 332.7h.01M290.5 316.1h.01M278.2 315.9h.01M270.2 323.2h.01M276.1 313.1h.01M287.0 318.8h.01M276.3 316.4h.01M277.2 327.1h.01M291.8 313.1h.01M281.6 327.3h.01M279.2 330.1h.01M286.3 322.5h.01M261.8 323.8h.01M285.3 321.9h.01M286.7 321.6h.01M277.0 324.1h.01M282.6 310.9h.01M272.1 319.1h.01M285.3 303.0h.01M261.9 325.1h.01M281.9 337.3h.01M267.1 316.3h.01M276.2 321.8h.01M295.7 328.9h.01M272.2 326.4h.01M270.1 320.1h.01M283.7 322.2h.01M274.2 327.1h.01M281.3 317.9h.01M279.4 310.8h.01M289.0 320.3h.01M286.4 330.6h.01M273.5 316.1h.01M282.1 323.8h.01M280.3 324.3h.01M286.5 306.1h.01M275.3 304.2h.01M279.2 315.2h.01M287.8 319.2h.01M281.4 326.6h.01M287.8 309.6h.01M275.3 320.2h.01M298.6 316.7h.01M280.3 319.8h.01M289.6 317.4h.01M284.9 315.1h.01M276.6 312.6h.01M288.4 314.2h.01M287.4 320.8h.01M291.5 299.8h.01M272.6 309.7h.01M280.4 323.5h.01M295.3 320.6h.01M278.2 321.6h.01M260.7 324.3h.01M282.1 322.2h.01M271.9 310.6h.01M275.7 317.7h.01M285.4 315.6h.01M285.4 322.6h.01M270.7 317.3h.01M266.8 314.3h.01M290.8 313.1h.01M290.7 318.7h.01M290.5 325.4h.01M283.0 314.4h.01M276.6 331.1h.01M280.2 314.9h.01M275.1 306.5h.01M277.1 320.2h.01M277.3 312.8h.01M286.0 321.1h.01M277.7 320.1h.01M272.5 323.9h.01M272.4 315.7h.01M283.3 315.1h.01M270.8 332.3h.01M296.8 306.1h.01M283.2 309.4h.01M285.0 309.1h.01M287.7 321.6h.01M298.7 326.2h.01M277.5 324.4h.01M277.5 317.2h.01M277.1 306.0h.01M287.9 304.2h.01M279.7 321.6h.01M283.1 307.3h.01M275.7 322.6h.01M292.7 328.9h.01M264.3 321.1h.01M277.3 323.2h.01M265.5 317.0h.01M288.9 313.6h.01M278.5 311.3h.01M292.9 309.0h.01M273.1 315.7h.01M278.9 332.4h.01M284.7 312.3h.01M287.7 320.3h.01M284.8 317.6h.01M286.5 310.0h.01M270.3 315.1h.01M271.2 322.8h.01M286.4 320.3h.01M275.3 309.1h.01M287.4 307.9h.01M285.0 317.0h.01M289.3 318.3h.01M283.0 314.0h.01M265.2 315.7h.01M288.8 325.1h.01M295.5 311.2h.01M272.8 322.8h.01M277.6 335.5h.01M285.1 307.6h.01M276.6 328.7h.01M264.2 319.0h.01M268.5 328.9h.01M277.6 311.0h.01M265.3 313.1h.01M257.0 314.8h.01M279.4 310.1h.01M285.3 314.8h.01M273.7 327.4h.01M286.3 311.9h.01M296.5 317.6h.01M286.9 319.0h.01M293.5 322.2h.01M278.6 322.9h.01M278.2 318.9h.01M298.0 310.8h.01M271.9 315.3h.01M277.1 326.9h.01M266.4 333.6h.01M297.5 314.9h.01M283.8 315.5h.01M288.6 322.5h.01M289.4 323.2h.01M288.8 316.7h.01M282.4 319.5h.01M281.5 320.4h.01M273.7 317.0h.01M276.1 310.0h.01M275.1 314.6h.01M280.5 307.3h.01M279.5 310.3h.01M274.0 319.3h.01M292.8 320.0h.01M277.2 315.0h.01M295.1 306.9h.01M293.1 307.8h.01M275.8 318.3h.01M279.8 329.4h.01M286.8 317.7h.01M291.3 318.3h.01M274.1 325.7h.01M296.7 326.7h.01M270.5 331.0h.01M277.9 323.2h.01M293.7 334.2h.01M266.2 311.0h.01M293.5 321.4h.01M278.9 298.0h.01M286.3 316.7h.01M256.4 336.3h.01M257.5 314.2h.01M282.0 319.6h.01M289.4 316.2h.01M273.2 315.5h.01M261.4 310.4h.01M281.2 331.0h.01M292.3 318.8h.01M289.2 316.2h.01M273.1 324.8h.01M283.3 329.0h.01M279.4 315.4h.01M285.4 316.7h.01M278.9 311.9h.01M284.5 320.2h.01M299.9 317.8h.01M264.8 321.2h.01M274.1 316.9h.01M254.0 315.7h.01M280.2 307.7h.01M287.7 312.0h.01M263.9 313.1h.01M288.2 331.2h.01M294.3 319.3h.01M277.0 316.2h.01M291.5 314.5h.01M286.1 324.6h.01M273.1 314.0h.01M286.4 318.1h.01M280.8 314.4h.01M281.4 330.7h.01M295.3 307.0h.01M282.5 318.6h.01M282.4 308.5h.01M280.7 319.0h.01M275.3 320.1h.01M258.1 307.7h.01M283.0 320.7h.01M280.4 314.9h.01M283.8 325.4h.01" stroke="#8a8a8a" stroke-opacity="0.45" stroke-width="0.76" stroke-linecap="round" fill="none"/>
<path d="M297.11,312.52 C297.63,313.63 297.76,315.06 297.48,316.42 C297.20,317.77 296.44,319.32 295.40,320.65 C294.37,321.98 292.87,323.34 291.29,324.38 C289.72,325.42 287.76,326.33 285.96,326.87 C284.15,327.41 282.14,327.68 280.46,327.62 C278.78,327.56 277.10,327.14 275.88,326.49 C274.66,325.83 273.65,324.81 273.13,323.69 C272.61,322.58 272.48,321.15 272.76,319.79 C273.04,318.44 273.80,316.89 274.84,315.56 C275.87,314.23 277.37,312.87 278.95,311.83 C280.52,310.79 282.48,309.88 284.28,309.34 C286.09,308.80 288.10,308.53 289.78,308.59 C291.46,308.65 293.14,309.07 294.36,309.72 C295.58,310.38 296.59,311.40 297.11,312.52Z" fill="#999" fill-opacity="0.6" filter="url(#bl)"/>
<path d="M295.72,313.14 C296.17,314.11 296.29,315.35 296.05,316.53 C295.80,317.71 295.14,319.06 294.24,320.21 C293.35,321.37 292.04,322.56 290.67,323.46 C289.30,324.36 287.60,325.15 286.03,325.62 C284.46,326.09 282.71,326.33 281.25,326.27 C279.79,326.22 278.33,325.86 277.27,325.29 C276.20,324.72 275.33,323.83 274.88,322.86 C274.43,321.89 274.31,320.65 274.55,319.47 C274.80,318.29 275.46,316.94 276.36,315.79 C277.25,314.63 278.56,313.44 279.93,312.54 C281.30,311.64 283.00,310.85 284.57,310.38 C286.14,309.91 287.89,309.67 289.35,309.73 C290.81,309.78 292.27,310.14 293.33,310.71 C294.40,311.28 295.27,312.17 295.72,313.14Z" fill="#e0e0e0" fill-opacity="0.9" stroke="#666" stroke-width="0.45"/>
<path d="M294.43,313.72 C294.82,314.56 294.92,315.62 294.71,316.64 C294.50,317.65 293.93,318.81 293.16,319.81 C292.39,320.80 291.26,321.82 290.08,322.60 C288.91,323.37 287.45,324.05 286.10,324.46 C284.75,324.86 283.24,325.06 281.98,325.02 C280.73,324.97 279.47,324.66 278.56,324.17 C277.65,323.68 276.89,322.92 276.50,322.08 C276.12,321.25 276.01,320.18 276.23,319.17 C276.44,318.15 277.01,316.99 277.78,316.00 C278.55,315.01 279.67,313.98 280.85,313.21 C282.03,312.43 283.49,311.75 284.84,311.35 C286.19,310.95 287.70,310.74 288.95,310.79 C290.21,310.83 291.46,311.14 292.38,311.63 C293.29,312.12 294.04,312.89 294.43,313.72Z" fill="#c0c0c0" fill-opacity="0.9" stroke="#444" stroke-width="0.5"/>
<path d="M293.14,314.30 C293.47,315.00 293.55,315.90 293.37,316.75 C293.20,317.60 292.72,318.57 292.08,319.40 C291.43,320.23 290.49,321.08 289.50,321.73 C288.52,322.38 287.29,322.95 286.16,323.29 C285.03,323.63 283.77,323.80 282.72,323.76 C281.67,323.72 280.62,323.46 279.85,323.05 C279.09,322.64 278.46,322.00 278.13,321.30 C277.81,320.60 277.72,319.71 277.90,318.86 C278.08,318.01 278.55,317.04 279.20,316.21 C279.84,315.38 280.79,314.52 281.77,313.87 C282.76,313.23 283.98,312.66 285.11,312.32 C286.24,311.98 287.50,311.81 288.55,311.85 C289.61,311.89 290.66,312.15 291.42,312.56 C292.18,312.97 292.81,313.61 293.14,314.30Z" fill="#9c9c9c" fill-opacity="0.95" stroke="#222" stroke-width="0.7"/>
<path d="M291.66,314.97 C291.92,315.51 291.98,316.21 291.85,316.87 C291.71,317.53 291.34,318.29 290.84,318.93 C290.33,319.58 289.60,320.24 288.83,320.75 C288.07,321.25 287.12,321.70 286.24,321.96 C285.36,322.22 284.38,322.36 283.56,322.33 C282.74,322.29 281.92,322.09 281.33,321.77 C280.73,321.46 280.24,320.96 279.99,320.41 C279.74,319.87 279.67,319.17 279.81,318.51 C279.95,317.85 280.32,317.10 280.82,316.45 C281.32,315.81 282.06,315.14 282.82,314.64 C283.59,314.13 284.54,313.69 285.42,313.42 C286.30,313.16 287.28,313.03 288.10,313.06 C288.92,313.09 289.73,313.29 290.33,313.61 C290.92,313.93 291.41,314.43 291.66,314.97Z" fill="#8a8a8a" fill-opacity="1" stroke="#111" stroke-width="0.8"/>
<path d="M290.19,315.64 C290.37,316.02 290.42,316.52 290.32,316.99 C290.22,317.46 289.96,318.00 289.60,318.47 C289.24,318.93 288.71,319.40 288.17,319.76 C287.62,320.12 286.94,320.44 286.31,320.63 C285.68,320.82 284.98,320.91 284.40,320.89 C283.81,320.87 283.23,320.72 282.81,320.50 C282.38,320.27 282.03,319.91 281.85,319.52 C281.67,319.14 281.62,318.64 281.72,318.17 C281.82,317.70 282.08,317.16 282.44,316.69 C282.80,316.23 283.33,315.76 283.87,315.40 C284.42,315.04 285.10,314.72 285.73,314.53 C286.36,314.34 287.06,314.25 287.64,314.27 C288.23,314.29 288.81,314.44 289.23,314.66 C289.66,314.89 290.01,315.25 290.19,315.64Z" fill="#9a9a9a" fill-opacity="1" stroke="#444" stroke-width="0.45"/>
<path d="M288.53,316.38 C288.63,316.60 288.65,316.87 288.60,317.13 C288.55,317.39 288.40,317.69 288.20,317.94 C288.01,318.19 287.72,318.46 287.42,318.65 C287.12,318.85 286.74,319.03 286.40,319.13 C286.05,319.23 285.67,319.29 285.34,319.27 C285.02,319.26 284.70,319.18 284.47,319.06 C284.24,318.93 284.04,318.74 283.94,318.52 C283.84,318.31 283.82,318.04 283.87,317.78 C283.93,317.52 284.07,317.22 284.27,316.97 C284.47,316.71 284.75,316.45 285.05,316.25 C285.36,316.06 285.73,315.88 286.08,315.78 C286.42,315.67 286.81,315.62 287.13,315.63 C287.45,315.65 287.77,315.73 288.00,315.85 C288.24,315.98 288.43,316.17 288.53,316.38Z" fill="#dddddd" fill-opacity="1" stroke="none"/>
<path d="M273.66,313.70 C273.66,314.78 273.37,316.00 272.89,316.94 C272.41,317.88 271.61,318.77 270.78,319.31 C269.95,319.85 268.86,320.18 267.90,320.18 C266.94,320.18 265.85,319.85 265.02,319.31 C264.19,318.77 263.39,317.88 262.91,316.94 C262.43,316.00 262.14,314.78 262.14,313.70 C262.14,312.62 262.43,311.40 262.91,310.46 C263.39,309.52 264.19,308.63 265.02,308.09 C265.85,307.55 266.94,307.22 267.90,307.22 C268.86,307.22 269.95,307.55 270.78,308.09 C271.61,308.63 272.41,309.52 272.89,310.46 C273.37,311.40 273.66,312.62 273.66,313.70Z" fill="#999" fill-opacity="0.6" filter="url(#bl)"/>
<path d="M272.70,313.70 C272.70,314.60 272.46,315.62 272.06,316.40 C271.66,317.18 270.99,317.93 270.30,318.38 C269.61,318.83 268.70,319.10 267.90,319.10 C267.10,319.10 266.19,318.83 265.50,318.38 C264.81,317.93 264.14,317.18 263.74,316.40 C263.34,315.62 263.10,314.60 263.10,313.70 C263.10,312.80 263.34,311.78 263.74,311.00 C264.14,310.22 264.81,309.47 265.50,309.02 C266.19,308.57 267.10,308.30 267.90,308.30 C268.70,308.30 269.61,308.57 270.30,309.02 C270.99,309.47 271.66,310.22 272.06,311.00 C272.46,311.78 272.70,312.80 272.70,313.70Z" fill="#dddddd" fill-opacity="0.9" stroke="#666" stroke-width="0.5"/>
<path d="M271.74,313.70 C271.74,314.42 271.55,315.24 271.23,315.86 C270.91,316.48 270.37,317.08 269.82,317.44 C269.27,317.80 268.54,318.02 267.90,318.02 C267.26,318.02 266.53,317.80 265.98,317.44 C265.43,317.08 264.89,316.48 264.57,315.86 C264.25,315.24 264.06,314.42 264.06,313.70 C264.06,312.98 264.25,312.16 264.57,311.54 C264.89,310.92 265.43,310.32 265.98,309.96 C266.53,309.60 267.26,309.38 267.90,309.38 C268.54,309.38 269.27,309.60 269.82,309.96 C270.37,310.32 270.91,310.92 271.23,311.54 C271.55,312.16 271.74,312.98 271.74,313.70Z" fill="#bbbbbb" fill-opacity="0.9" stroke="#444" stroke-width="0.5"/>
<path d="M270.78,313.70 C270.78,314.24 270.63,314.85 270.39,315.32 C270.15,315.79 269.76,316.24 269.34,316.51 C268.92,316.78 268.38,316.94 267.90,316.94 C267.42,316.94 266.88,316.78 266.46,316.51 C266.04,316.24 265.65,315.79 265.41,315.32 C265.17,314.85 265.02,314.24 265.02,313.70 C265.02,313.16 265.17,312.55 265.41,312.08 C265.65,311.61 266.04,311.16 266.46,310.89 C266.88,310.62 267.42,310.46 267.90,310.46 C268.38,310.46 268.92,310.62 269.34,310.89 C269.76,311.16 270.15,311.61 270.39,312.08 C270.63,312.55 270.78,313.16 270.78,313.70Z" fill="#999999" fill-opacity="0.95" stroke="#333" stroke-width="0.6"/>
<path d="M269.82,313.70 C269.82,314.06 269.72,314.47 269.56,314.78 C269.40,315.09 269.14,315.39 268.86,315.57 C268.58,315.75 268.22,315.86 267.90,315.86 C267.58,315.86 267.22,315.75 266.94,315.57 C266.66,315.39 266.40,315.09 266.24,314.78 C266.08,314.47 265.98,314.06 265.98,313.70 C265.98,313.34 266.08,312.93 266.24,312.62 C266.40,312.31 266.66,312.01 266.94,311.83 C267.22,311.65 267.58,311.54 267.90,311.54 C268.22,311.54 268.58,311.65 268.86,311.83 C269.14,312.01 269.40,312.31 269.56,312.62 C269.72,312.93 269.82,313.34 269.82,313.70Z" fill="#aaaaaa" fill-opacity="1" stroke="#555" stroke-width="0.45"/>
<path d="M268.96,313.70 C268.96,313.90 268.90,314.12 268.81,314.29 C268.73,314.47 268.58,314.63 268.43,314.73 C268.28,314.83 268.08,314.89 267.90,314.89 C267.72,314.89 267.52,314.83 267.37,314.73 C267.22,314.63 267.07,314.47 266.99,314.29 C266.90,314.12 266.84,313.90 266.84,313.70 C266.84,313.50 266.90,313.28 266.99,313.11 C267.07,312.93 267.22,312.77 267.37,312.67 C267.52,312.57 267.72,312.51 267.90,312.51 C268.08,312.51 268.28,312.57 268.43,312.67 C268.58,312.77 268.73,312.93 268.81,313.11 C268.90,313.28 268.96,313.50 268.96,313.70Z" fill="#dddddd" fill-opacity="1" stroke="none"/>
<path d="M269.60,323.20 C269.60,323.51 269.43,323.89 269.18,324.14 C268.93,324.39 268.49,324.62 268.08,324.72 C267.67,324.82 267.13,324.82 266.72,324.72 C266.31,324.62 265.87,324.39 265.62,324.14 C265.37,323.89 265.20,323.51 265.20,323.20 C265.20,322.89 265.37,322.51 265.62,322.26 C265.87,322.01 266.31,321.78 266.72,321.68 C267.13,321.58 267.67,321.58 268.08,321.68 C268.49,321.78 268.93,322.01 269.18,322.26 C269.43,322.51 269.60,322.89 269.60,323.20Z" fill="#eee" fill-opacity="0.9" stroke="#777" stroke-width="0.45"/>
<path d="M268.50,323.20 C268.50,323.36 268.42,323.54 268.29,323.67 C268.16,323.80 267.94,323.91 267.74,323.96 C267.53,324.01 267.27,324.01 267.06,323.96 C266.86,323.91 266.64,323.80 266.51,323.67 C266.38,323.54 266.30,323.36 266.30,323.20 C266.30,323.04 266.38,322.86 266.51,322.73 C266.64,322.60 266.86,322.49 267.06,322.44 C267.27,322.39 267.53,322.39 267.74,322.44 C267.94,322.49 268.16,322.60 268.29,322.73 C268.42,322.86 268.50,323.04 268.50,323.20Z" fill="#eee" fill-opacity="0.9" stroke="#999" stroke-width="0.4"/>
</g>
<line x1="246.20000000000002" y1="305.44" x2="247.8" y2="305.44" stroke="#222" stroke-width="0.7" />
<line x1="246.20000000000002" y1="303.12" x2="247.8" y2="303.12" stroke="#222" stroke-width="0.7" />
<line x1="246.20000000000002" y1="301.46" x2="247.8" y2="301.46" stroke="#222" stroke-width="0.7" />
<line x1="246.20000000000002" y1="300.18" x2="247.8" y2="300.18" stroke="#222" stroke-width="0.7" />
<line x1="246.20000000000002" y1="299.13" x2="247.8" y2="299.13" stroke="#222" stroke-width="0.7" />
<line x1="246.20000000000002" y1="298.25" x2="247.8" y2="298.25" stroke="#222" stroke-width="0.7" />
<line x1="246.20000000000002" y1="297.48" x2="247.8" y2="297.48" stroke="#222" stroke-width="0.7" />
<line x1="246.20000000000002" y1="296.81" x2="247.8" y2="296.81" stroke="#222" stroke-width="0.7" />
<line x1="246.20000000000002" y1="318.67" x2="247.8" y2="318.67" stroke="#222" stroke-width="0.7" />
<line x1="246.20000000000002" y1="316.34" x2="247.8" y2="316.34" stroke="#222" stroke-width="0.7" />
<line x1="246.20000000000002" y1="314.69" x2="247.8" y2="314.69" stroke="#222" stroke-width="0.7" />
<line x1="246.20000000000002" y1="313.41" x2="247.8" y2="313.41" stroke="#222" stroke-width="0.7" />
<line x1="246.20000000000002" y1="312.36" x2="247.8" y2="312.36" stroke="#222" stroke-width="0.7" />
<line x1="246.20000000000002" y1="311.47" x2="247.8" y2="311.47" stroke="#222" stroke-width="0.7" />
<line x1="246.20000000000002" y1="310.71" x2="247.8" y2="310.71" stroke="#222" stroke-width="0.7" />
<line x1="246.20000000000002" y1="310.03" x2="247.8" y2="310.03" stroke="#222" stroke-width="0.7" />
<line x1="246.20000000000002" y1="331.89" x2="247.8" y2="331.89" stroke="#222" stroke-width="0.7" />
<line x1="246.20000000000002" y1="329.57" x2="247.8" y2="329.57" stroke="#222" stroke-width="0.7" />
<line x1="246.20000000000002" y1="327.91" x2="247.8" y2="327.91" stroke="#222" stroke-width="0.7" />
<line x1="246.20000000000002" y1="326.63" x2="247.8" y2="326.63" stroke="#222" stroke-width="0.7" />
<line x1="246.20000000000002" y1="325.58" x2="247.8" y2="325.58" stroke="#222" stroke-width="0.7" />
<line x1="246.20000000000002" y1="324.7" x2="247.8" y2="324.7" stroke="#222" stroke-width="0.7" />
<line x1="246.20000000000002" y1="323.93" x2="247.8" y2="323.93" stroke="#222" stroke-width="0.7" />
<line x1="246.20000000000002" y1="323.26" x2="247.8" y2="323.26" stroke="#222" stroke-width="0.7" />
<line x1="246.20000000000002" y1="345.12" x2="247.8" y2="345.12" stroke="#222" stroke-width="0.7" />
<line x1="246.20000000000002" y1="342.79" x2="247.8" y2="342.79" stroke="#222" stroke-width="0.7" />
<line x1="246.20000000000002" y1="341.14" x2="247.8" y2="341.14" stroke="#222" stroke-width="0.7" />
<line x1="246.20000000000002" y1="339.86" x2="247.8" y2="339.86" stroke="#222" stroke-width="0.7" />
<line x1="246.20000000000002" y1="338.81" x2="247.8" y2="338.81" stroke="#222" stroke-width="0.7" />
<line x1="246.20000000000002" y1="337.92" x2="247.8" y2="337.92" stroke="#222" stroke-width="0.7" />
<line x1="246.20000000000002" y1="337.16" x2="247.8" y2="337.16" stroke="#222" stroke-width="0.7" />
<line x1="246.20000000000002" y1="336.48" x2="247.8" y2="336.48" stroke="#222" stroke-width="0.7" />
<line x1="251.79" y1="349.1" x2="251.79" y2="350.70000000000005" stroke="#222" stroke-width="0.7" />
<line x1="254.12" y1="349.1" x2="254.12" y2="350.70000000000005" stroke="#222" stroke-width="0.7" />
<line x1="255.78" y1="349.1" x2="255.78" y2="350.70000000000005" stroke="#222" stroke-width="0.7" />
<line x1="257.06" y1="349.1" x2="257.06" y2="350.70000000000005" stroke="#222" stroke-width="0.7" />
<line x1="258.11" y1="349.1" x2="258.11" y2="350.70000000000005" stroke="#222" stroke-width="0.7" />
<line x1="259.0" y1="349.1" x2="259.0" y2="350.70000000000005" stroke="#222" stroke-width="0.7" />
<line x1="259.77" y1="349.1" x2="259.77" y2="350.70000000000005" stroke="#222" stroke-width="0.7" />
<line x1="260.44" y1="349.1" x2="260.44" y2="350.70000000000005" stroke="#222" stroke-width="0.7" />
<line x1="265.04" y1="349.1" x2="265.04" y2="350.70000000000005" stroke="#222" stroke-width="0.7" />
<line x1="267.37" y1="349.1" x2="267.37" y2="350.70000000000005" stroke="#222" stroke-width="0.7" />
<line x1="269.03" y1="349.1" x2="269.03" y2="350.70000000000005" stroke="#222" stroke-width="0.7" />
<line x1="270.31" y1="349.1" x2="270.31" y2="350.70000000000005" stroke="#222" stroke-width="0.7" />
<line x1="271.36" y1="349.1" x2="271.36" y2="350.70000000000005" stroke="#222" stroke-width="0.7" />
<line x1="272.25" y1="349.1" x2="272.25" y2="350.70000000000005" stroke="#222" stroke-width="0.7" />
<line x1="273.02" y1="349.1" x2="273.02" y2="350.70000000000005" stroke="#222" stroke-width="0.7" />
<line x1="273.69" y1="349.1" x2="273.69" y2="350.70000000000005" stroke="#222" stroke-width="0.7" />
<line x1="278.29" y1="349.1" x2="278.29" y2="350.70000000000005" stroke="#222" stroke-width="0.7" />
<line x1="280.62" y1="349.1" x2="280.62" y2="350.70000000000005" stroke="#222" stroke-width="0.7" />
<line x1="282.28" y1="349.1" x2="282.28" y2="350.70000000000005" stroke="#222" stroke-width="0.7" />
<line x1="283.56" y1="349.1" x2="283.56" y2="350.70000000000005" stroke="#222" stroke-width="0.7" />
<line x1="284.61" y1="349.1" x2="284.61" y2="350.70000000000005" stroke="#222" stroke-width="0.7" />
<line x1="285.5" y1="349.1" x2="285.5" y2="350.70000000000005" stroke="#222" stroke-width="0.7" />
<line x1="286.27" y1="349.1" x2="286.27" y2="350.70000000000005" stroke="#222" stroke-width="0.7" />
<line x1="286.94" y1="349.1" x2="286.94" y2="350.70000000000005" stroke="#222" stroke-width="0.7" />
<line x1="291.54" y1="349.1" x2="291.54" y2="350.70000000000005" stroke="#222" stroke-width="0.7" />
<line x1="293.87" y1="349.1" x2="293.87" y2="350.70000000000005" stroke="#222" stroke-width="0.7" />
<line x1="295.53" y1="349.1" x2="295.53" y2="350.70000000000005" stroke="#222" stroke-width="0.7" />
<line x1="296.81" y1="349.1" x2="296.81" y2="350.70000000000005" stroke="#222" stroke-width="0.7" />
<line x1="297.86" y1="349.1" x2="297.86" y2="350.70000000000005" stroke="#222" stroke-width="0.7" />
<line x1="298.75" y1="349.1" x2="298.75" y2="350.70000000000005" stroke="#222" stroke-width="0.7" />
<line x1="299.52" y1="349.1" x2="299.52" y2="350.70000000000005" stroke="#222" stroke-width="0.7" />
<line x1="300.19" y1="349.1" x2="300.19" y2="350.70000000000005" stroke="#222" stroke-width="0.7" />
<line x1="245.20000000000002" y1="296.2" x2="247.8" y2="296.2" stroke="#111" stroke-width="0.9" />
<line x1="261.05" y1="349.1" x2="261.05" y2="351.70000000000005" stroke="#111" stroke-width="0.9" />
<line x1="245.20000000000002" y1="309.425" x2="247.8" y2="309.425" stroke="#111" stroke-width="0.9" />
<line x1="274.3" y1="349.1" x2="274.3" y2="351.70000000000005" stroke="#111" stroke-width="0.9" />
<line x1="245.20000000000002" y1="322.65" x2="247.8" y2="322.65" stroke="#111" stroke-width="0.9" />
<line x1="287.55" y1="349.1" x2="287.55" y2="351.70000000000005" stroke="#111" stroke-width="0.9" />
<line x1="245.20000000000002" y1="335.875" x2="247.8" y2="335.875" stroke="#111" stroke-width="0.9" />
<line x1="300.8" y1="349.1" x2="300.8" y2="351.70000000000005" stroke="#111" stroke-width="0.9" />
<rect x="247.8" y="296.2" width="53.0" height="52.900000000000034" fill="none" stroke="#111" stroke-width="1.6"/>
<text x="233.58" y="298.09" font-size="6.4" fill="#222" stroke="#222" stroke-width="0.14" textLength="6.60" lengthAdjust="spacingAndGlyphs">10</text>
<text x="240.98" y="294.89" font-size="4.35" fill="#222" stroke="#222" stroke-width="0.1">3</text>
<text x="233.58" y="311.32" font-size="6.4" fill="#222" stroke="#222" stroke-width="0.14" textLength="6.60" lengthAdjust="spacingAndGlyphs">10</text>
<text x="240.98" y="308.12" font-size="4.35" fill="#222" stroke="#222" stroke-width="0.1">2</text>
<text x="233.58" y="324.54" font-size="6.4" fill="#222" stroke="#222" stroke-width="0.14" textLength="6.60" lengthAdjust="spacingAndGlyphs">10</text>
<text x="240.98" y="321.34" font-size="4.35" fill="#222" stroke="#222" stroke-width="0.1">1</text>
<text x="233.58" y="337.77" font-size="6.4" fill="#222" stroke="#222" stroke-width="0.14" textLength="6.60" lengthAdjust="spacingAndGlyphs">10</text>
<text x="240.98" y="334.57" font-size="4.35" fill="#222" stroke="#222" stroke-width="0.1">0</text>
<text x="256.74" y="361.19" font-size="6.4" fill="#222" stroke="#222" stroke-width="0.14" textLength="6.40" lengthAdjust="spacingAndGlyphs">10</text>
<text x="263.94" y="357.99" font-size="4.35" fill="#222" stroke="#222" stroke-width="0.1">0</text>
<text x="269.99" y="361.19" font-size="6.4" fill="#222" stroke="#222" stroke-width="0.14" textLength="6.40" lengthAdjust="spacingAndGlyphs">10</text>
<text x="277.19" y="357.99" font-size="4.35" fill="#222" stroke="#222" stroke-width="0.1">1</text>
<text x="283.24" y="361.19" font-size="6.4" fill="#222" stroke="#222" stroke-width="0.14" textLength="6.40" lengthAdjust="spacingAndGlyphs">10</text>
<text x="290.44" y="357.99" font-size="4.35" fill="#222" stroke="#222" stroke-width="0.1">2</text>
<text x="296.49" y="361.19" font-size="6.4" fill="#222" stroke="#222" stroke-width="0.14" textLength="6.40" lengthAdjust="spacingAndGlyphs">10</text>
<text x="303.69" y="357.99" font-size="4.35" fill="#222" stroke="#222" stroke-width="0.1">3</text>
<polygon points="250.3,302.8 275.6,302.8 275.6,307.4 271.6,320.6 250.3,320.6" fill="none" stroke="#5b72a8" stroke-width="0.8"/>
<polygon points="275.6,307.4 297.5,307.4 297.5,324.9 278.9,329.6 271.6,320.6" fill="none" stroke="#5b72a8" stroke-width="0.8"/>
<text x="265.8" y="302.2" font-size="5.4" text-anchor="middle" fill="#5b72a8" stroke="#5b72a8" stroke-width="0.04" >13.3</text>
<clipPath id="cf4"><rect x="337.3" y="296.2" width="53.5" height="52.900000000000034"/></clipPath>
<g clip-path="url(#cf4)">
<path d="M380.8 332.2h.01M367.4 343.4h.01M377.3 341.6h.01M369.3 324.6h.01M373.8 326.9h.01M383.3 341.4h.01M350.6 339.5h.01M385.1 343.2h.01M367.4 324.6h.01M381.5 342.9h.01M372.6 321.7h.01M357.0 335.6h.01M363.9 326.3h.01M376.4 343.3h.01M351.7 326.4h.01M384.8 332.6h.01M368.6 339.3h.01M360.8 321.0h.01M382.0 333.0h.01M381.9 329.0h.01M360.4 316.6h.01M374.7 341.8h.01M375.7 332.6h.01M368.1 343.7h.01M371.5 318.9h.01M385.5 326.6h.01M375.8 333.0h.01M382.4 335.4h.01M384.0 335.1h.01M367.5 328.0h.01M378.4 324.9h.01M381.1 330.7h.01M362.9 324.4h.01M379.6 333.2h.01M369.3 333.0h.01M367.8 346.1h.01M373.7 328.5h.01M373.8 323.2h.01M361.7 331.4h.01M343.7 344.5h.01M370.6 317.5h.01M373.7 335.1h.01M379.3 319.9h.01M366.1 326.7h.01M370.0 332.6h.01M367.0 340.8h.01M387.1 322.5h.01M382.4 333.3h.01M384.3 343.4h.01M378.4 316.6h.01M373.3 328.1h.01M376.4 333.4h.01M382.3 317.3h.01M364.7 332.3h.01M375.2 329.0h.01M371.7 333.5h.01M382.3 331.9h.01M374.4 315.2h.01M346.3 318.6h.01M375.5 310.4h.01M376.0 332.1h.01M372.0 325.8h.01M367.9 341.2h.01M375.5 332.7h.01M367.2 335.1h.01M383.7 332.8h.01M368.4 321.4h.01M373.0 324.0h.01M357.9 341.5h.01M365.9 313.0h.01M371.0 320.0h.01M361.2 340.1h.01M376.0 335.1h.01M370.1 337.8h.01M387.1 337.8h.01M370.4 319.3h.01M378.4 320.7h.01M373.8 345.8h.01M365.8 337.9h.01M356.3 315.8h.01M375.7 339.9h.01M368.5 332.8h.01M368.0 344.8h.01M350.2 335.5h.01M359.4 326.3h.01M356.9 324.1h.01M371.8 333.3h.01M389.6 330.8h.01M375.4 336.5h.01M374.5 347.4h.01M373.4 334.5h.01M370.9 333.0h.01M371.5 342.8h.01M372.2 333.7h.01M371.5 340.5h.01M367.3 342.2h.01M366.4 339.8h.01M371.1 321.4h.01M379.3 333.1h.01M381.0 326.5h.01M376.0 329.8h.01M359.2 332.9h.01M378.5 338.9h.01M361.0 322.9h.01M362.4 322.9h.01M369.3 335.6h.01M386.3 316.7h.01M387.2 340.9h.01M376.3 341.1h.01M379.9 315.8h.01M371.2 346.0h.01M368.6 326.5h.01M368.6 336.1h.01M373.8 326.9h.01M377.3 339.1h.01M362.9 322.0h.01M352.6 330.0h.01M372.1 326.1h.01M366.1 331.7h.01M372.3 338.6h.01M380.2 337.3h.01M383.0 323.4h.01M378.0 336.7h.01M361.7 326.3h.01M376.4 333.7h.01M359.6 327.5h.01M387.1 341.3h.01M372.8 346.3h.01M363.0 331.3h.01M381.5 329.7h.01M361.0 338.8h.01M387.8 307.9h.01M373.5 320.7h.01M369.1 319.0h.01M372.4 326.0h.01M362.2 328.5h.01M361.5 333.7h.01M367.7 317.5h.01M374.4 325.6h.01M366.3 322.8h.01M382.1 329.0h.01M370.6 334.8h.01M359.9 335.3h.01M370.3 337.4h.01M368.2 333.4h.01M377.1 342.5h.01M365.2 342.6h.01M362.3 331.1h.01M373.3 334.4h.01M347.3 323.3h.01M370.2 342.1h.01M365.0 347.9h.01M354.2 333.8h.01M377.3 333.2h.01M374.6 342.2h.01M364.0 338.8h.01M382.5 330.7h.01M349.1 321.2h.01M363.6 322.5h.01M376.3 325.0h.01M359.1 330.2h.01M387.1 339.7h.01M361.9 343.2h.01M366.5 338.9h.01M377.6 328.6h.01M370.5 344.5h.01M376.9 332.4h.01M381.2 337.7h.01M375.3 317.5h.01M373.3 328.2h.01M379.2 327.0h.01M376.4 322.6h.01M380.8 325.8h.01M371.7 338.7h.01M368.8 333.1h.01M354.2 324.1h.01M378.7 342.3h.01M367.3 333.9h.01M370.0 321.2h.01M356.7 320.4h.01M384.9 329.2h.01M375.8 339.4h.01M379.8 342.1h.01M362.4 327.5h.01M366.6 334.0h.01M369.5 320.8h.01M375.8 332.6h.01M363.6 340.0h.01M376.5 329.9h.01M345.8 332.0h.01M380.4 326.0h.01M380.7 339.7h.01M354.6 331.1h.01M375.2 340.5h.01M373.5 332.9h.01M368.6 330.1h.01M372.0 322.5h.01M378.3 329.8h.01M377.2 328.0h.01M376.1 334.3h.01M380.8 337.6h.01M381.2 331.4h.01M371.5 330.4h.01M359.6 331.8h.01M382.8 340.6h.01M363.6 336.0h.01M379.4 319.6h.01M375.4 336.3h.01M379.4 335.5h.01M354.8 313.1h.01M384.6 345.5h.01M372.9 321.7h.01M385.5 332.6h.01M377.1 337.7h.01M381.4 343.0h.01M358.0 319.1h.01M373.4 333.1h.01M379.7 331.7h.01M385.6 344.4h.01M382.2 325.2h.01M371.2 332.3h.01M361.2 324.4h.01M373.6 321.0h.01M377.4 337.7h.01M369.7 329.7h.01M378.0 337.7h.01M375.6 321.0h.01M365.6 329.4h.01M354.0 325.1h.01M364.8 340.9h.01M345.9 319.2h.01M367.9 328.2h.01M364.3 328.7h.01M356.4 335.6h.01M383.8 334.5h.01M366.7 345.4h.01M376.8 322.9h.01M366.3 327.0h.01M371.6 344.9h.01M365.0 331.6h.01M373.1 321.3h.01M367.3 339.0h.01M383.2 314.6h.01M379.0 330.1h.01M384.7 339.1h.01M368.1 324.8h.01M357.9 338.5h.01M377.1 341.1h.01M375.5 318.3h.01M368.0 330.6h.01M373.6 340.5h.01M386.0 335.8h.01M351.6 323.0h.01M350.9 325.5h.01M360.2 335.3h.01M369.8 344.0h.01M382.7 328.5h.01M381.3 333.1h.01M376.5 346.2h.01M360.7 332.3h.01M387.2 325.5h.01M374.1 334.3h.01M367.9 320.2h.01M365.2 323.4h.01M382.7 335.4h.01M378.9 321.3h.01M377.0 334.4h.01M382.4 325.9h.01M380.0 346.5h.01M389.8 323.9h.01M360.9 318.6h.01M381.5 338.8h.01M375.4 324.5h.01M371.7 331.8h.01M383.8 338.0h.01M385.3 329.0h.01M375.4 329.7h.01M366.4 330.1h.01M369.2 337.9h.01M369.0 333.7h.01M364.0 321.0h.01M386.1 323.4h.01M389.9 342.2h.01M349.4 326.7h.01M367.9 333.2h.01M370.2 327.1h.01M384.4 331.8h.01M381.5 326.3h.01M365.2 346.1h.01M369.2 322.2h.01M370.3 343.3h.01M370.4 326.0h.01M378.3 342.6h.01M370.0 329.9h.01M370.5 337.0h.01M351.9 334.7h.01M372.5 329.9h.01M368.0 319.7h.01M357.3 334.6h.01M365.7 332.1h.01M370.2 328.1h.01M361.1 328.0h.01M369.1 321.7h.01M362.5 341.4h.01M381.2 334.3h.01M384.2 325.0h.01M364.1 321.9h.01M371.6 325.1h.01M378.3 322.2h.01M372.8 313.9h.01M371.7 343.3h.01M369.4 336.1h.01M382.8 322.3h.01M359.5 333.8h.01M374.8 330.4h.01M362.5 344.9h.01M360.5 330.5h.01M371.6 340.1h.01M367.6 325.0h.01M379.9 331.5h.01M367.3 332.6h.01M369.5 336.0h.01M346.9 332.7h.01M372.7 323.5h.01M374.3 330.0h.01M385.7 328.6h.01M363.9 339.8h.01M362.5 325.3h.01M386.3 317.3h.01M371.4 334.2h.01M374.6 318.8h.01M369.8 329.7h.01M364.6 341.5h.01M378.5 331.9h.01M369.6 330.3h.01M356.8 326.9h.01M381.3 347.1h.01M378.1 309.5h.01M369.4 320.7h.01M380.2 316.8h.01M361.8 322.2h.01M376.0 341.2h.01M373.6 324.9h.01M375.5 332.9h.01M380.3 336.4h.01M365.7 340.7h.01M379.6 323.2h.01M364.7 325.1h.01M347.7 339.2h.01M369.9 345.0h.01M366.5 333.7h.01M379.2 342.5h.01M375.2 322.9h.01M385.9 337.1h.01M376.7 339.2h.01M357.2 340.9h.01M362.4 337.1h.01M362.1 340.0h.01M374.0 338.0h.01M363.1 330.2h.01M371.5 330.2h.01M367.8 324.5h.01M379.6 329.3h.01M364.0 336.6h.01M364.1 331.3h.01M367.0 324.0h.01M369.8 325.0h.01M359.7 336.4h.01M369.1 318.7h.01M368.2 334.8h.01M376.3 336.7h.01M374.6 338.8h.01M367.2 325.2h.01M378.1 329.0h.01M372.2 339.4h.01M381.3 344.9h.01M365.3 329.4h.01M377.6 319.1h.01M359.7 338.9h.01M366.0 324.0h.01M380.0 338.2h.01M381.1 329.8h.01M369.2 329.7h.01M375.0 313.2h.01M365.3 339.9h.01M364.4 332.4h.01M373.3 338.1h.01M367.4 322.0h.01M388.9 315.9h.01M373.2 331.1h.01M381.7 323.1h.01M364.2 325.7h.01M367.0 335.6h.01M364.3 330.6h.01M386.6 347.0h.01M353.8 323.8h.01M368.4 345.6h.01M375.7 347.0h.01M363.6 330.0h.01M382.1 338.6h.01M353.7 330.3h.01M373.9 339.1h.01M373.6 347.1h.01M376.1 333.8h.01M369.0 321.7h.01M380.6 340.4h.01M381.3 329.4h.01M362.2 329.3h.01M369.0 332.9h.01M381.8 324.2h.01M367.3 339.7h.01M377.3 324.8h.01M361.9 325.3h.01M372.8 335.5h.01M371.5 327.1h.01M370.3 332.3h.01M377.9 333.8h.01M364.2 321.7h.01M386.7 332.2h.01M370.4 332.8h.01M383.2 330.0h.01M373.8 330.7h.01M377.8 323.2h.01M374.1 343.0h.01M383.7 339.0h.01M375.0 348.3h.01M379.1 346.6h.01M360.3 322.4h.01M380.0 330.4h.01M367.9 323.8h.01M386.7 321.5h.01M373.2 319.5h.01M363.7 315.7h.01M375.5 322.6h.01M357.9 343.9h.01M365.0 322.7h.01M373.8 331.2h.01M383.1 333.9h.01M387.7 344.0h.01M389.6 343.9h.01M372.8 338.3h.01M372.4 318.0h.01M360.6 340.2h.01M349.0 325.0h.01M359.6 332.4h.01M362.0 335.4h.01M370.2 328.5h.01M363.9 311.5h.01M372.9 320.5h.01M369.3 336.6h.01M382.4 339.8h.01M386.6 319.3h.01M378.8 348.2h.01M376.0 322.3h.01M376.0 328.0h.01M365.8 343.3h.01M370.4 322.2h.01M363.9 339.6h.01M373.9 344.3h.01M369.4 323.9h.01M365.9 323.1h.01M369.0 345.2h.01M378.6 331.3h.01M378.2 335.7h.01M369.1 332.7h.01M370.4 344.9h.01M375.9 340.6h.01M381.0 326.9h.01M373.4 346.4h.01M381.2 340.9h.01M369.4 329.5h.01M363.8 330.4h.01M371.5 319.2h.01M383.5 325.6h.01M374.6 338.8h.01M366.8 315.5h.01M381.6 337.0h.01M369.7 344.0h.01M380.9 323.8h.01M371.4 316.0h.01M369.6 346.7h.01M364.0 341.0h.01M357.4 330.2h.01M376.6 340.3h.01M389.0 309.4h.01M372.8 335.5h.01M372.4 327.1h.01M372.0 331.8h.01" stroke="#8a8a8a" stroke-opacity="0.45" stroke-width="0.76" stroke-linecap="round" fill="none"/>
<path d="M363.81,322.40 C364.87,320.54 367.25,319.22 369.64,318.69 C372.02,318.16 375.56,318.43 378.12,319.22 C380.68,320.02 383.42,321.52 385.01,323.46 C386.60,325.40 387.31,328.05 387.66,330.88 C388.01,333.71 387.93,337.86 387.13,340.42 C386.33,342.98 384.92,345.01 382.89,346.25 C380.86,347.49 377.41,348.10 374.94,347.84 C372.47,347.57 369.73,346.43 368.05,344.66 C366.37,342.89 365.67,339.71 364.87,337.24 C364.07,334.77 363.46,332.29 363.28,329.82 C363.10,327.35 362.75,324.25 363.81,322.40Z" fill="#bbb" fill-opacity="0.5" filter="url(#bl)"/>
<path d="M364.50,323.00 C365.50,321.25 367.75,320.00 370.00,319.50 C372.25,319.00 375.58,319.25 378.00,320.00 C380.42,320.75 383.00,322.17 384.50,324.00 C386.00,325.83 386.67,328.33 387.00,331.00 C387.33,333.67 387.25,337.58 386.50,340.00 C385.75,342.42 384.42,344.33 382.50,345.50 C380.58,346.67 377.33,347.25 375.00,347.00 C372.67,346.75 370.08,345.67 368.50,344.00 C366.92,342.33 366.25,339.33 365.50,337.00 C364.75,334.67 364.17,332.33 364.00,330.00 C363.83,327.67 363.50,324.75 364.50,323.00Z" fill="#e6e6e6" fill-opacity="0.85" stroke="#777" stroke-width="0.45"/>
<path d="M365.65,324.00 C366.55,322.43 368.58,321.30 370.60,320.85 C372.62,320.40 375.62,320.62 377.80,321.30 C379.98,321.98 382.30,323.25 383.65,324.90 C385.00,326.55 385.60,328.80 385.90,331.20 C386.20,333.60 386.12,337.12 385.45,339.30 C384.77,341.48 383.58,343.20 381.85,344.25 C380.12,345.30 377.20,345.83 375.10,345.60 C373.00,345.38 370.68,344.40 369.25,342.90 C367.82,341.40 367.23,338.70 366.55,336.60 C365.88,334.50 365.35,332.40 365.20,330.30 C365.05,328.20 364.75,325.57 365.65,324.00Z" fill="#cfcfcf" fill-opacity="0.85" stroke="#666" stroke-width="0.45"/>
<path d="M367.03,325.20 C367.81,323.83 369.56,322.86 371.32,322.47 C373.07,322.08 375.68,322.28 377.56,322.86 C379.44,323.44 381.46,324.55 382.63,325.98 C383.80,327.41 384.32,329.36 384.58,331.44 C384.84,333.52 384.77,336.57 384.19,338.46 C383.61,340.34 382.56,341.84 381.07,342.75 C379.57,343.66 377.04,344.12 375.22,343.92 C373.40,343.73 371.38,342.88 370.15,341.58 C368.91,340.28 368.39,337.94 367.81,336.12 C367.23,334.30 366.77,332.48 366.64,330.66 C366.51,328.84 366.25,326.56 367.03,325.20Z" fill="#bdbdbd" fill-opacity="0.85" stroke="#555" stroke-width="0.45"/>
<path d="M372.50,326.00 C373.67,324.50 376.67,324.08 378.50,324.50 C380.33,324.92 382.50,326.58 383.50,328.50 C384.50,330.42 384.67,333.67 384.50,336.00 C384.33,338.33 383.75,341.00 382.50,342.50 C381.25,344.00 378.67,345.17 377.00,345.00 C375.33,344.83 373.42,343.42 372.50,341.50 C371.58,339.58 371.50,336.08 371.50,333.50 C371.50,330.92 371.33,327.50 372.50,326.00Z" fill="#a8a8a8" fill-opacity="0.9" stroke="#222" stroke-width="0.7"/>
<path d="M373.38,327.44 C374.36,326.18 376.88,325.83 378.42,326.18 C379.96,326.53 381.78,327.93 382.62,329.54 C383.46,331.15 383.60,333.88 383.46,335.84 C383.32,337.80 382.83,340.04 381.78,341.30 C380.73,342.56 378.56,343.54 377.16,343.40 C375.76,343.26 374.15,342.07 373.38,340.46 C372.61,338.85 372.54,335.91 372.54,333.74 C372.54,331.57 372.40,328.70 373.38,327.44Z" fill="#8e8e8e" fill-opacity="0.95" stroke="#0a0a0a" stroke-width="1.0"/>
<path d="M374.59,329.42 C375.31,328.49 377.17,328.23 378.31,328.49 C379.45,328.75 380.79,329.78 381.41,330.97 C382.03,332.16 382.13,334.17 382.03,335.62 C381.93,337.07 381.56,338.72 380.79,339.65 C380.02,340.58 378.41,341.30 377.38,341.20 C376.35,341.10 375.16,340.22 374.59,339.03 C374.02,337.84 373.97,335.67 373.97,334.07 C373.97,332.47 373.87,330.35 374.59,329.42Z" fill="#a0a0a0" fill-opacity="1" stroke="#333" stroke-width="0.5"/>
<path d="M375.69,331.22 C376.18,330.59 377.44,330.41 378.21,330.59 C378.98,330.76 379.89,331.46 380.31,332.27 C380.73,333.07 380.80,334.44 380.73,335.42 C380.66,336.40 380.41,337.52 379.89,338.15 C379.37,338.78 378.28,339.27 377.58,339.20 C376.88,339.13 376.07,338.54 375.69,337.73 C375.31,336.93 375.27,335.45 375.27,334.37 C375.27,333.29 375.20,331.85 375.69,331.22Z" fill="#c0c0c0" fill-opacity="1" stroke="#666" stroke-width="0.45"/>
<path d="M376.79,333.02 C377.05,332.69 377.71,332.60 378.11,332.69 C378.51,332.78 378.99,333.15 379.21,333.57 C379.43,333.99 379.47,334.71 379.43,335.22 C379.39,335.73 379.26,336.32 378.99,336.65 C378.72,336.98 378.15,337.24 377.78,337.20 C377.41,337.16 376.99,336.85 376.79,336.43 C376.59,336.01 376.57,335.24 376.57,334.67 C376.57,334.10 376.53,333.35 376.79,333.02Z" fill="#e4e4e4" fill-opacity="1" stroke="none"/>
<path d="M370.00,326.50 C370.00,326.93 369.82,327.44 369.54,327.79 C369.27,328.14 368.79,328.46 368.34,328.59 C367.89,328.73 367.31,328.73 366.86,328.59 C366.41,328.46 365.93,328.14 365.66,327.79 C365.38,327.44 365.20,326.93 365.20,326.50 C365.20,326.07 365.38,325.56 365.66,325.21 C365.93,324.86 366.41,324.54 366.86,324.41 C367.31,324.27 367.89,324.27 368.34,324.41 C368.79,324.54 369.27,324.86 369.54,325.21 C369.82,325.56 370.00,326.07 370.00,326.50Z" fill="#bbbbbb" fill-opacity="0.9" stroke="#333" stroke-width="0.6"/>
<path d="M368.80,326.50 C368.80,326.72 368.71,326.97 368.57,327.15 C368.43,327.32 368.19,327.48 367.97,327.55 C367.75,327.61 367.45,327.61 367.23,327.55 C367.01,327.48 366.77,327.32 366.63,327.15 C366.49,326.97 366.40,326.72 366.40,326.50 C366.40,326.28 366.49,326.03 366.63,325.85 C366.77,325.68 367.01,325.52 367.23,325.45 C367.45,325.39 367.75,325.39 367.97,325.45 C368.19,325.52 368.43,325.68 368.57,325.85 C368.71,326.03 368.80,326.28 368.80,326.50Z" fill="#d8d8d8" fill-opacity="0.9" stroke="none"/>
<path d="M361.36,310.85 C362.20,311.43 363.45,313.44 363.89,315.45 C364.33,317.46 364.33,320.43 364.00,322.93 C363.68,325.42 362.95,328.29 361.94,330.40 C360.92,332.51 359.19,335.00 357.91,335.57 C356.63,336.15 355.00,335.29 354.23,333.85 C353.46,332.41 352.98,329.73 353.31,326.95 C353.64,324.17 355.26,319.67 356.19,317.18 C357.11,314.68 357.97,313.05 358.83,312.00 C359.69,310.95 360.52,310.28 361.36,310.85Z" fill="#999" fill-opacity="0.55" filter="url(#bl)"/>
<path d="M361.00,312.50 C361.73,313.00 362.82,314.75 363.20,316.50 C363.58,318.25 363.58,320.83 363.30,323.00 C363.02,325.17 362.38,327.67 361.50,329.50 C360.62,331.33 359.12,333.50 358.00,334.00 C356.88,334.50 355.47,333.75 354.80,332.50 C354.13,331.25 353.72,328.92 354.00,326.50 C354.28,324.08 355.70,320.17 356.50,318.00 C357.30,315.83 358.05,314.42 358.80,313.50 C359.55,312.58 360.27,312.00 361.00,312.50Z" fill="#dddddd" fill-opacity="0.9" stroke="#666" stroke-width="0.5"/>
<path d="M360.66,314.04 C361.29,314.47 362.23,315.98 362.56,317.48 C362.89,318.99 362.89,321.21 362.64,323.07 C362.40,324.93 361.85,327.08 361.09,328.66 C360.33,330.24 359.04,332.10 358.08,332.53 C357.12,332.96 355.91,332.31 355.33,331.24 C354.76,330.17 354.40,328.16 354.64,326.08 C354.89,324.00 356.11,320.63 356.79,318.77 C357.48,316.91 358.13,315.69 358.77,314.90 C359.42,314.11 360.03,313.61 360.66,314.04Z" fill="#bdbdbd" fill-opacity="0.9" stroke="#444" stroke-width="0.5"/>
<path d="M360.33,315.58 C360.86,315.94 361.64,317.20 361.91,318.46 C362.19,319.72 362.19,321.58 361.98,323.14 C361.78,324.70 361.32,326.50 360.69,327.82 C360.05,329.14 358.97,330.70 358.17,331.06 C357.36,331.42 356.34,330.88 355.86,329.98 C355.38,329.08 355.08,327.40 355.29,325.66 C355.49,323.92 356.51,321.10 357.09,319.54 C357.66,317.98 358.20,316.96 358.74,316.30 C359.28,315.64 359.80,315.22 360.33,315.58Z" fill="#8c8c8c" fill-opacity="0.95" stroke="#0a0a0a" stroke-width="1.0"/>
<path d="M359.85,317.78 C360.23,318.04 360.79,318.95 360.99,319.86 C361.19,320.77 361.19,322.11 361.04,323.24 C360.90,324.37 360.57,325.67 360.11,326.62 C359.65,327.57 358.87,328.70 358.29,328.96 C357.71,329.22 356.97,328.83 356.62,328.18 C356.28,327.53 356.06,326.32 356.21,325.06 C356.36,323.80 357.09,321.77 357.51,320.64 C357.92,319.51 358.31,318.78 358.70,318.30 C359.09,317.82 359.47,317.52 359.85,317.78Z" fill="#9a9a9a" fill-opacity="1" stroke="#333" stroke-width="0.45"/>
<path d="M359.42,319.76 C359.67,319.93 360.03,320.52 360.16,321.12 C360.29,321.72 360.29,322.59 360.20,323.33 C360.10,324.07 359.89,324.92 359.59,325.54 C359.29,326.16 358.78,326.90 358.40,327.07 C358.02,327.24 357.53,326.99 357.31,326.56 C357.08,326.13 356.94,325.34 357.04,324.52 C357.13,323.70 357.61,322.37 357.89,321.63 C358.16,320.89 358.41,320.41 358.67,320.10 C358.92,319.79 359.17,319.59 359.42,319.76Z" fill="#c4c4c4" fill-opacity="1" stroke="#666" stroke-width="0.4"/>
<path d="M359.03,321.52 C359.16,321.61 359.36,321.93 359.43,322.24 C359.50,322.56 359.50,323.02 359.45,323.41 C359.40,323.80 359.28,324.25 359.12,324.58 C358.96,324.91 358.69,325.30 358.49,325.39 C358.29,325.48 358.04,325.35 357.92,325.12 C357.80,324.89 357.72,324.48 357.77,324.04 C357.82,323.61 358.08,322.90 358.22,322.51 C358.37,322.12 358.50,321.87 358.64,321.70 C358.77,321.53 358.90,321.43 359.03,321.52Z" fill="#eeeeee" fill-opacity="1" stroke="none"/>
<path d="M372.2,349.4 C372.4,346.4 375.5,345.5 378.5,345.5 C382,345.5 384.8,346.6 385,349.4" fill="#444" fill-opacity="0.7" stroke="#0a0a0a" stroke-width="1.1"/>
</g>
<line x1="335.7" y1="305.44" x2="337.3" y2="305.44" stroke="#222" stroke-width="0.7" />
<line x1="335.7" y1="303.12" x2="337.3" y2="303.12" stroke="#222" stroke-width="0.7" />
<line x1="335.7" y1="301.46" x2="337.3" y2="301.46" stroke="#222" stroke-width="0.7" />
<line x1="335.7" y1="300.18" x2="337.3" y2="300.18" stroke="#222" stroke-width="0.7" />
<line x1="335.7" y1="299.13" x2="337.3" y2="299.13" stroke="#222" stroke-width="0.7" />
<line x1="335.7" y1="298.25" x2="337.3" y2="298.25" stroke="#222" stroke-width="0.7" />
<line x1="335.7" y1="297.48" x2="337.3" y2="297.48" stroke="#222" stroke-width="0.7" />
<line x1="335.7" y1="296.81" x2="337.3" y2="296.81" stroke="#222" stroke-width="0.7" />
<line x1="335.7" y1="318.67" x2="337.3" y2="318.67" stroke="#222" stroke-width="0.7" />
<line x1="335.7" y1="316.34" x2="337.3" y2="316.34" stroke="#222" stroke-width="0.7" />
<line x1="335.7" y1="314.69" x2="337.3" y2="314.69" stroke="#222" stroke-width="0.7" />
<line x1="335.7" y1="313.41" x2="337.3" y2="313.41" stroke="#222" stroke-width="0.7" />
<line x1="335.7" y1="312.36" x2="337.3" y2="312.36" stroke="#222" stroke-width="0.7" />
<line x1="335.7" y1="311.47" x2="337.3" y2="311.47" stroke="#222" stroke-width="0.7" />
<line x1="335.7" y1="310.71" x2="337.3" y2="310.71" stroke="#222" stroke-width="0.7" />
<line x1="335.7" y1="310.03" x2="337.3" y2="310.03" stroke="#222" stroke-width="0.7" />
<line x1="335.7" y1="331.89" x2="337.3" y2="331.89" stroke="#222" stroke-width="0.7" />
<line x1="335.7" y1="329.57" x2="337.3" y2="329.57" stroke="#222" stroke-width="0.7" />
<line x1="335.7" y1="327.91" x2="337.3" y2="327.91" stroke="#222" stroke-width="0.7" />
<line x1="335.7" y1="326.63" x2="337.3" y2="326.63" stroke="#222" stroke-width="0.7" />
<line x1="335.7" y1="325.58" x2="337.3" y2="325.58" stroke="#222" stroke-width="0.7" />
<line x1="335.7" y1="324.7" x2="337.3" y2="324.7" stroke="#222" stroke-width="0.7" />
<line x1="335.7" y1="323.93" x2="337.3" y2="323.93" stroke="#222" stroke-width="0.7" />
<line x1="335.7" y1="323.26" x2="337.3" y2="323.26" stroke="#222" stroke-width="0.7" />
<line x1="335.7" y1="345.12" x2="337.3" y2="345.12" stroke="#222" stroke-width="0.7" />
<line x1="335.7" y1="342.79" x2="337.3" y2="342.79" stroke="#222" stroke-width="0.7" />
<line x1="335.7" y1="341.14" x2="337.3" y2="341.14" stroke="#222" stroke-width="0.7" />
<line x1="335.7" y1="339.86" x2="337.3" y2="339.86" stroke="#222" stroke-width="0.7" />
<line x1="335.7" y1="338.81" x2="337.3" y2="338.81" stroke="#222" stroke-width="0.7" />
<line x1="335.7" y1="337.92" x2="337.3" y2="337.92" stroke="#222" stroke-width="0.7" />
<line x1="335.7" y1="337.16" x2="337.3" y2="337.16" stroke="#222" stroke-width="0.7" />
<line x1="335.7" y1="336.48" x2="337.3" y2="336.48" stroke="#222" stroke-width="0.7" />
<line x1="341.33" y1="349.1" x2="341.33" y2="350.70000000000005" stroke="#222" stroke-width="0.7" />
<line x1="343.68" y1="349.1" x2="343.68" y2="350.70000000000005" stroke="#222" stroke-width="0.7" />
<line x1="345.35" y1="349.1" x2="345.35" y2="350.70000000000005" stroke="#222" stroke-width="0.7" />
<line x1="346.65" y1="349.1" x2="346.65" y2="350.70000000000005" stroke="#222" stroke-width="0.7" />
<line x1="347.71" y1="349.1" x2="347.71" y2="350.70000000000005" stroke="#222" stroke-width="0.7" />
<line x1="348.6" y1="349.1" x2="348.6" y2="350.70000000000005" stroke="#222" stroke-width="0.7" />
<line x1="349.38" y1="349.1" x2="349.38" y2="350.70000000000005" stroke="#222" stroke-width="0.7" />
<line x1="350.06" y1="349.1" x2="350.06" y2="350.70000000000005" stroke="#222" stroke-width="0.7" />
<line x1="354.7" y1="349.1" x2="354.7" y2="350.70000000000005" stroke="#222" stroke-width="0.7" />
<line x1="357.06" y1="349.1" x2="357.06" y2="350.70000000000005" stroke="#222" stroke-width="0.7" />
<line x1="358.73" y1="349.1" x2="358.73" y2="350.70000000000005" stroke="#222" stroke-width="0.7" />
<line x1="360.02" y1="349.1" x2="360.02" y2="350.70000000000005" stroke="#222" stroke-width="0.7" />
<line x1="361.08" y1="349.1" x2="361.08" y2="350.70000000000005" stroke="#222" stroke-width="0.7" />
<line x1="361.98" y1="349.1" x2="361.98" y2="350.70000000000005" stroke="#222" stroke-width="0.7" />
<line x1="362.75" y1="349.1" x2="362.75" y2="350.70000000000005" stroke="#222" stroke-width="0.7" />
<line x1="363.44" y1="349.1" x2="363.44" y2="350.70000000000005" stroke="#222" stroke-width="0.7" />
<line x1="368.08" y1="349.1" x2="368.08" y2="350.70000000000005" stroke="#222" stroke-width="0.7" />
<line x1="370.43" y1="349.1" x2="370.43" y2="350.70000000000005" stroke="#222" stroke-width="0.7" />
<line x1="372.1" y1="349.1" x2="372.1" y2="350.70000000000005" stroke="#222" stroke-width="0.7" />
<line x1="373.4" y1="349.1" x2="373.4" y2="350.70000000000005" stroke="#222" stroke-width="0.7" />
<line x1="374.46" y1="349.1" x2="374.46" y2="350.70000000000005" stroke="#222" stroke-width="0.7" />
<line x1="375.35" y1="349.1" x2="375.35" y2="350.70000000000005" stroke="#222" stroke-width="0.7" />
<line x1="376.13" y1="349.1" x2="376.13" y2="350.70000000000005" stroke="#222" stroke-width="0.7" />
<line x1="376.81" y1="349.1" x2="376.81" y2="350.70000000000005" stroke="#222" stroke-width="0.7" />
<line x1="381.45" y1="349.1" x2="381.45" y2="350.70000000000005" stroke="#222" stroke-width="0.7" />
<line x1="383.81" y1="349.1" x2="383.81" y2="350.70000000000005" stroke="#222" stroke-width="0.7" />
<line x1="385.48" y1="349.1" x2="385.48" y2="350.70000000000005" stroke="#222" stroke-width="0.7" />
<line x1="386.77" y1="349.1" x2="386.77" y2="350.70000000000005" stroke="#222" stroke-width="0.7" />
<line x1="387.83" y1="349.1" x2="387.83" y2="350.70000000000005" stroke="#222" stroke-width="0.7" />
<line x1="388.73" y1="349.1" x2="388.73" y2="350.70000000000005" stroke="#222" stroke-width="0.7" />
<line x1="389.5" y1="349.1" x2="389.5" y2="350.70000000000005" stroke="#222" stroke-width="0.7" />
<line x1="390.19" y1="349.1" x2="390.19" y2="350.70000000000005" stroke="#222" stroke-width="0.7" />
<line x1="334.7" y1="296.2" x2="337.3" y2="296.2" stroke="#111" stroke-width="0.9" />
<line x1="350.675" y1="349.1" x2="350.675" y2="351.70000000000005" stroke="#111" stroke-width="0.9" />
<line x1="334.7" y1="309.425" x2="337.3" y2="309.425" stroke="#111" stroke-width="0.9" />
<line x1="364.05" y1="349.1" x2="364.05" y2="351.70000000000005" stroke="#111" stroke-width="0.9" />
<line x1="334.7" y1="322.65" x2="337.3" y2="322.65" stroke="#111" stroke-width="0.9" />
<line x1="377.425" y1="349.1" x2="377.425" y2="351.70000000000005" stroke="#111" stroke-width="0.9" />
<line x1="334.7" y1="335.875" x2="337.3" y2="335.875" stroke="#111" stroke-width="0.9" />
<line x1="390.8" y1="349.1" x2="390.8" y2="351.70000000000005" stroke="#111" stroke-width="0.9" />
<rect x="337.3" y="296.2" width="53.5" height="52.900000000000034" fill="none" stroke="#111" stroke-width="1.6"/>
<text x="323.08" y="298.09" font-size="6.4" fill="#222" stroke="#222" stroke-width="0.14" textLength="6.60" lengthAdjust="spacingAndGlyphs">10</text>
<text x="330.48" y="294.89" font-size="4.35" fill="#222" stroke="#222" stroke-width="0.1">3</text>
<text x="323.08" y="311.32" font-size="6.4" fill="#222" stroke="#222" stroke-width="0.14" textLength="6.60" lengthAdjust="spacingAndGlyphs">10</text>
<text x="330.48" y="308.12" font-size="4.35" fill="#222" stroke="#222" stroke-width="0.1">2</text>
<text x="323.08" y="324.54" font-size="6.4" fill="#222" stroke="#222" stroke-width="0.14" textLength="6.60" lengthAdjust="spacingAndGlyphs">10</text>
<text x="330.48" y="321.34" font-size="4.35" fill="#222" stroke="#222" stroke-width="0.1">1</text>
<text x="323.08" y="337.77" font-size="6.4" fill="#222" stroke="#222" stroke-width="0.14" textLength="6.60" lengthAdjust="spacingAndGlyphs">10</text>
<text x="330.48" y="334.57" font-size="4.35" fill="#222" stroke="#222" stroke-width="0.1">0</text>
<text x="346.37" y="361.19" font-size="6.4" fill="#222" stroke="#222" stroke-width="0.14" textLength="6.40" lengthAdjust="spacingAndGlyphs">10</text>
<text x="353.57" y="357.99" font-size="4.35" fill="#222" stroke="#222" stroke-width="0.1">0</text>
<text x="359.74" y="361.19" font-size="6.4" fill="#222" stroke="#222" stroke-width="0.14" textLength="6.40" lengthAdjust="spacingAndGlyphs">10</text>
<text x="366.94" y="357.99" font-size="4.35" fill="#222" stroke="#222" stroke-width="0.1">1</text>
<text x="373.12" y="361.19" font-size="6.4" fill="#222" stroke="#222" stroke-width="0.14" textLength="6.40" lengthAdjust="spacingAndGlyphs">10</text>
<text x="380.32" y="357.99" font-size="4.35" fill="#222" stroke="#222" stroke-width="0.1">2</text>
<text x="386.49" y="361.19" font-size="6.4" fill="#222" stroke="#222" stroke-width="0.14" textLength="6.40" lengthAdjust="spacingAndGlyphs">10</text>
<text x="393.69" y="357.99" font-size="4.35" fill="#222" stroke="#222" stroke-width="0.1">3</text>
<rect x="346.3" y="306.3" width="18.5" height="27.8" fill="none" stroke="#5b72a8" stroke-width="0.8"/>
<text x="358" y="305" font-size="5.4" text-anchor="middle" fill="#5b72a8" stroke="#5b72a8" stroke-width="0.04" >15.7</text>
<text x="226.8" y="284.5" font-size="9" text-anchor="middle" fill="#262626" stroke="#262626" stroke-width="0.13" textLength="17" lengthAdjust="spacingAndGlyphs" transform="rotate(-90 226.8 284.5)" >CD19</text>
<text x="316.9" y="284.75" font-size="9" text-anchor="middle" fill="#262626" stroke="#262626" stroke-width="0.13" textLength="20" lengthAdjust="spacingAndGlyphs" transform="rotate(-90 316.9 284.75)" >CD11c</text>
<text x="318.6" y="373" font-size="9" text-anchor="middle" fill="#262626" stroke="#262626" stroke-width="0.13" textLength="16.5" lengthAdjust="spacingAndGlyphs" >CD21</text>
<text x="393.9" y="244.3" font-size="9" text-anchor="start" fill="#262626" stroke="#262626" stroke-width="0.13" textLength="18" lengthAdjust="spacingAndGlyphs" >Base</text>
<text x="393.9" y="254.8" font-size="9" text-anchor="start" fill="#262626" stroke="#262626" stroke-width="0.13" textLength="13.2" lengthAdjust="spacingAndGlyphs" >line</text>
<text x="393.3" y="326.3" font-size="9" text-anchor="start" fill="#262626" stroke="#262626" stroke-width="0.13" textLength="11.5" lengthAdjust="spacingAndGlyphs" >6m</text>
<rect x="0.5" y="0.5" width="519" height="398" fill="none" stroke="#000" stroke-width="1.2"/>
</svg></body></html>
